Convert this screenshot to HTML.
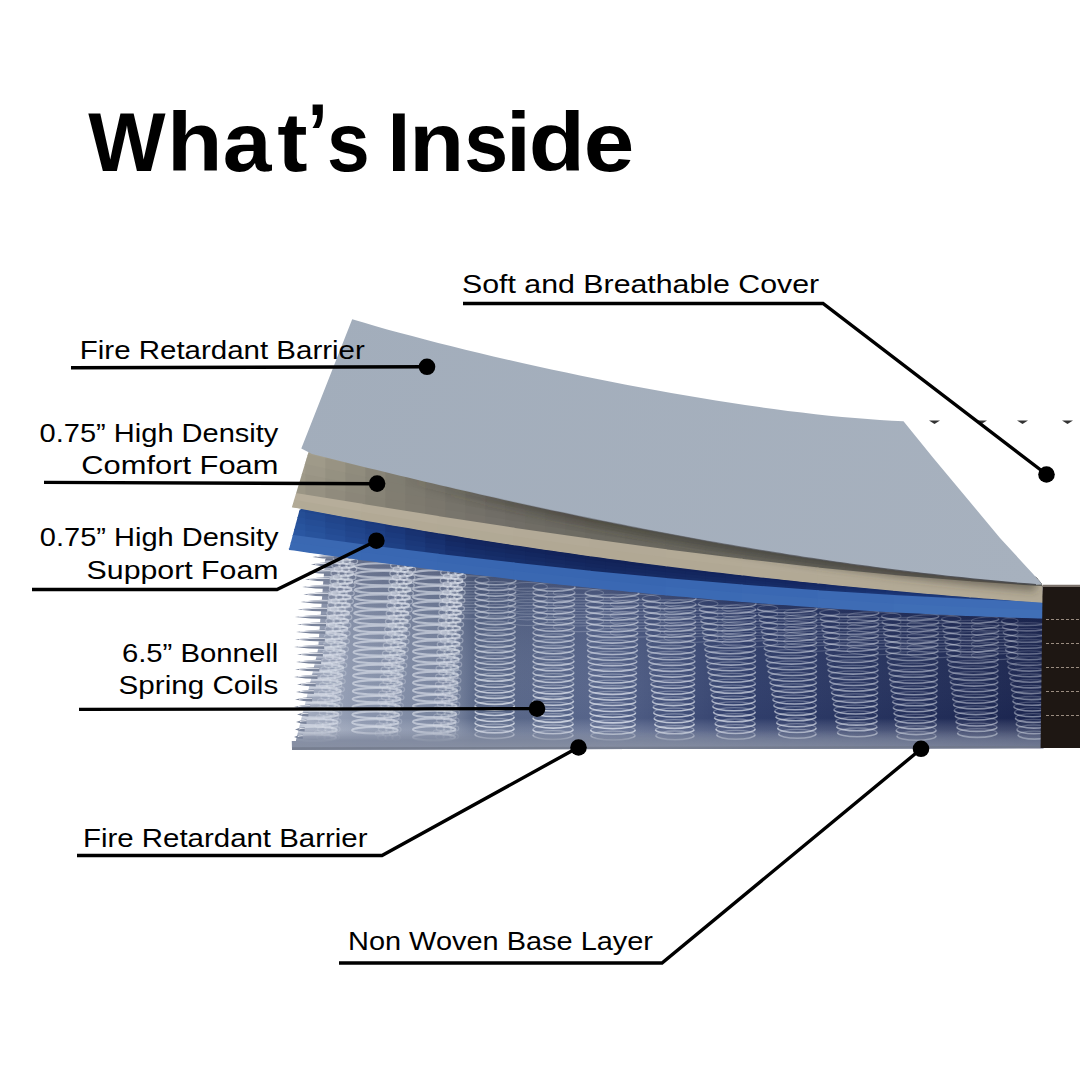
<!DOCTYPE html>
<html><head><meta charset="utf-8">
<style>
html,body{margin:0;padding:0;background:#fff;}
svg{display:block;}
text{font-family:"Liberation Sans",sans-serif;}
</style></head><body>
<svg width="1080" height="1080" viewBox="0 0 1080 1080">
<defs>
<filter id="blur4" x="-10%" y="-50%" width="120%" height="200%"><feGaussianBlur stdDeviation="4"/></filter>
<linearGradient id="coilbg" gradientUnits="userSpaceOnUse" x1="290" y1="0" x2="1043" y2="0">
 <stop offset="0" stop-color="#a9b1c3"/>
 <stop offset="0.1" stop-color="#8a95ad"/>
 <stop offset="0.22" stop-color="#75819c"/>
 <stop offset="0.245" stop-color="#5a6888"/>
 <stop offset="0.41" stop-color="#56648a"/>
 <stop offset="0.61" stop-color="#303e6b"/>
 <stop offset="1" stop-color="#1a244e"/>
</linearGradient>
<linearGradient id="coilv" gradientUnits="userSpaceOnUse" x1="0" y1="550" x2="0" y2="748">
 <stop offset="0" stop-color="#0a1235" stop-opacity="0.35"/>
 <stop offset="0.3" stop-color="#0a1235" stop-opacity="0.1"/>
 <stop offset="0.85" stop-color="#fff" stop-opacity="0"/>
 <stop offset="1" stop-color="#a8b0c0" stop-opacity="0.5"/>
</linearGradient>
<linearGradient id="coilbase" gradientUnits="userSpaceOnUse" x1="0" y1="730" x2="0" y2="750">
 <stop offset="0" stop-color="#7d869c" stop-opacity="0"/>
 <stop offset="0.5" stop-color="#7d869c" stop-opacity="0.8"/>
 <stop offset="0.95" stop-color="#8890a3" stop-opacity="1"/>
 <stop offset="1" stop-color="#5c6478" stop-opacity="1"/>
</linearGradient>
<linearGradient id="graygrad" gradientUnits="userSpaceOnUse" x1="300" y1="320" x2="1040" y2="580">
 <stop offset="0" stop-color="#a2adbb"/>
 <stop offset="1" stop-color="#a7b1be"/>
</linearGradient>
<linearGradient id="shadowgrad" gradientUnits="userSpaceOnUse" x1="400" y1="0" x2="1040" y2="0">
 <stop offset="0" stop-color="#3a3830" stop-opacity="0"/>
 <stop offset="0.25" stop-color="#3a3830" stop-opacity="0.45"/>
 <stop offset="1" stop-color="#3a3830" stop-opacity="0.55"/>
</linearGradient>
<linearGradient id="edgegrad" gradientUnits="userSpaceOnUse" x1="420" y1="0" x2="1040" y2="0">
 <stop offset="0" stop-color="#55565a" stop-opacity="0"/>
 <stop offset="0.4" stop-color="#55565a" stop-opacity="0.6"/>
 <stop offset="1" stop-color="#45464a" stop-opacity="0.9"/>
</linearGradient>
<linearGradient id="basemaskg" gradientUnits="userSpaceOnUse" x1="290" y1="0" x2="1043" y2="0">
 <stop offset="0" stop-color="#fff"/>
 <stop offset="0.4" stop-color="#fff"/>
 <stop offset="1" stop-color="#777"/>
</linearGradient>
<mask id="basemask" maskUnits="userSpaceOnUse" x="280" y="700" width="800" height="60"><rect x="280" y="700" width="800" height="60" fill="url(#basemaskg)"/></mask>
<clipPath id="coilclip"><path d="M288.8,548.0 L294.0,548.6 L302.0,549.8 L310.0,550.9 L318.0,552.1 L326.0,553.2 L334.0,554.3 L342.0,555.5 L350.0,556.6 L358.0,557.7 L366.0,558.8 L374.0,559.8 L382.0,560.9 L390.0,562.0 L398.0,563.0 L406.0,564.1 L414.0,565.1 L422.0,566.2 L430.0,567.2 L438.0,568.2 L446.0,569.2 L454.0,570.2 L462.0,571.2 L470.0,572.2 L478.0,573.2 L486.0,574.1 L494.0,575.1 L502.0,576.0 L510.0,577.0 L518.0,577.9 L526.0,578.8 L534.0,579.7 L542.0,580.6 L550.0,581.5 L558.0,582.4 L566.0,583.2 L574.0,584.1 L582.0,585.0 L590.0,585.8 L598.0,586.6 L606.0,587.5 L614.0,588.3 L622.0,589.1 L630.0,589.9 L638.0,590.6 L646.0,591.4 L654.0,592.2 L662.0,592.9 L670.0,593.7 L678.0,594.4 L686.0,595.1 L694.0,595.9 L702.0,596.6 L710.0,597.3 L718.0,597.9 L726.0,598.6 L734.0,599.3 L742.0,599.9 L750.0,600.6 L758.0,601.2 L766.0,601.8 L774.0,602.4 L782.0,603.0 L790.0,603.6 L798.0,604.2 L806.0,604.8 L814.0,605.3 L822.0,605.9 L830.0,606.4 L838.0,606.9 L846.0,607.5 L854.0,608.0 L862.0,608.5 L870.0,608.9 L878.0,609.4 L886.0,609.9 L894.0,610.3 L902.0,610.8 L910.0,611.2 L918.0,611.6 L926.0,612.0 L934.0,612.4 L942.0,612.8 L950.0,613.1 L958.0,613.5 L966.0,613.9 L974.0,614.2 L982.0,614.5 L990.0,614.8 L998.0,615.1 L1006.0,615.4 L1014.0,615.7 L1022.0,616.0 L1030.0,616.2 L1038.0,616.5 L1043.5,616.6 L1043.5,748.2 L292.0,749.8 Z"/></clipPath>
<clipPath id="blueclip"><path d="M299.6,509.8 L306.0,506.8 L314.0,508.3 L322.0,509.8 L330.0,511.3 L338.0,512.8 L346.0,514.2 L354.0,515.7 L362.0,517.1 L370.0,518.5 L378.0,519.9 L386.0,521.4 L394.0,522.7 L402.0,524.1 L410.0,525.5 L418.0,526.8 L426.0,528.2 L434.0,529.5 L442.0,530.8 L450.0,532.2 L458.0,533.4 L466.0,534.7 L474.0,536.0 L482.0,537.3 L490.0,538.5 L498.0,539.8 L506.0,541.0 L514.0,542.2 L522.0,543.4 L530.0,544.6 L538.0,545.8 L546.0,547.0 L554.0,548.1 L562.0,549.3 L570.0,550.4 L578.0,551.5 L586.0,552.7 L594.0,553.8 L602.0,554.9 L610.0,556.0 L618.0,557.0 L626.0,558.1 L634.0,559.1 L642.0,560.2 L650.0,561.2 L658.0,562.2 L666.0,563.3 L674.0,564.3 L682.0,565.2 L690.0,566.2 L698.0,567.2 L706.0,568.2 L714.0,569.1 L722.0,570.0 L730.0,571.0 L738.0,571.9 L746.0,572.8 L754.0,573.7 L762.0,574.6 L770.0,575.5 L778.0,576.3 L786.0,577.2 L794.0,578.0 L802.0,578.9 L810.0,579.7 L818.0,580.5 L826.0,581.3 L834.0,582.1 L842.0,582.9 L850.0,583.7 L858.0,584.5 L866.0,585.3 L874.0,586.0 L882.0,586.8 L890.0,587.5 L898.0,588.2 L906.0,588.9 L914.0,589.6 L922.0,590.3 L930.0,591.0 L938.0,591.7 L946.0,592.4 L954.0,593.0 L962.0,593.7 L970.0,594.3 L978.0,595.0 L986.0,595.6 L994.0,596.2 L1002.0,596.8 L1010.0,597.4 L1018.0,598.0 L1026.0,598.6 L1034.0,599.2 L1042.0,599.8 L1043.5,599.9 L1043.5,618.6 L1038.0,618.5 L1030.0,618.2 L1022.0,618.0 L1014.0,617.7 L1006.0,617.4 L998.0,617.1 L990.0,616.8 L982.0,616.5 L974.0,616.2 L966.0,615.9 L958.0,615.5 L950.0,615.1 L942.0,614.8 L934.0,614.4 L926.0,614.0 L918.0,613.6 L910.0,613.2 L902.0,612.8 L894.0,612.3 L886.0,611.9 L878.0,611.4 L870.0,610.9 L862.0,610.5 L854.0,610.0 L846.0,609.5 L838.0,608.9 L830.0,608.4 L822.0,607.9 L814.0,607.3 L806.0,606.8 L798.0,606.2 L790.0,605.6 L782.0,605.0 L774.0,604.4 L766.0,603.8 L758.0,603.2 L750.0,602.6 L742.0,601.9 L734.0,601.3 L726.0,600.6 L718.0,599.9 L710.0,599.3 L702.0,598.6 L694.0,597.9 L686.0,597.1 L678.0,596.4 L670.0,595.7 L662.0,594.9 L654.0,594.2 L646.0,593.4 L638.0,592.6 L630.0,591.9 L622.0,591.1 L614.0,590.3 L606.0,589.5 L598.0,588.6 L590.0,587.8 L582.0,587.0 L574.0,586.1 L566.0,585.2 L558.0,584.4 L550.0,583.5 L542.0,582.6 L534.0,581.7 L526.0,580.8 L518.0,579.9 L510.0,579.0 L502.0,578.0 L494.0,577.1 L486.0,576.1 L478.0,575.2 L470.0,574.2 L462.0,573.2 L454.0,572.2 L446.0,571.2 L438.0,570.2 L430.0,569.2 L422.0,568.2 L414.0,567.1 L406.0,566.1 L398.0,565.0 L390.0,564.0 L382.0,562.9 L374.0,561.8 L366.0,560.8 L358.0,559.7 L350.0,558.6 L342.0,557.5 L334.0,556.3 L326.0,555.2 L318.0,554.1 L310.0,552.9 L302.0,551.8 L294.0,550.6 L288.8,550.0 Z"/></clipPath>
<clipPath id="beigeclip"><path d="M308.7,451.4 L330.0,452.0 L340.0,452.9 L348.0,454.9 L356.0,456.9 L364.0,458.9 L372.0,460.9 L380.0,462.8 L388.0,464.8 L396.0,466.7 L404.0,468.6 L412.0,470.6 L420.0,472.5 L428.0,474.4 L436.0,476.3 L444.0,478.2 L452.0,480.0 L460.0,481.9 L468.0,483.7 L476.0,485.6 L484.0,487.4 L492.0,489.2 L500.0,491.0 L508.0,492.8 L516.0,494.6 L524.0,496.3 L532.0,498.1 L540.0,499.8 L548.0,501.6 L556.0,503.3 L564.0,505.0 L572.0,506.7 L580.0,508.4 L588.0,510.0 L596.0,511.7 L604.0,513.3 L612.0,514.9 L620.0,516.5 L628.0,518.1 L636.0,519.7 L644.0,521.3 L652.0,522.8 L660.0,524.4 L668.0,525.9 L676.0,527.4 L684.0,528.9 L692.0,530.4 L700.0,531.8 L708.0,533.3 L716.0,534.7 L724.0,536.1 L732.0,537.5 L740.0,538.9 L748.0,540.2 L756.0,541.6 L764.0,542.9 L772.0,544.2 L780.0,545.5 L788.0,546.8 L796.0,548.0 L804.0,549.3 L812.0,550.5 L820.0,551.7 L828.0,552.9 L836.0,554.1 L844.0,555.2 L852.0,556.3 L860.0,557.4 L868.0,558.5 L876.0,559.6 L884.0,560.6 L892.0,561.7 L900.0,562.7 L908.0,563.7 L916.0,564.7 L924.0,565.6 L932.0,566.5 L940.0,567.4 L948.0,568.3 L956.0,569.2 L964.0,570.0 L972.0,570.9 L980.0,571.7 L988.0,572.5 L996.0,573.2 L1004.0,574.0 L1012.0,574.7 L1020.0,575.4 L1028.0,576.0 L1036.0,576.7 L1042.0,584.0 L1043.5,602.9 L1040.0,602.6 L1032.0,602.0 L1024.0,601.5 L1016.0,600.9 L1008.0,600.3 L1000.0,599.7 L992.0,599.1 L984.0,598.4 L976.0,597.8 L968.0,597.2 L960.0,596.5 L952.0,595.9 L944.0,595.2 L936.0,594.5 L928.0,593.9 L920.0,593.2 L912.0,592.5 L904.0,591.8 L896.0,591.0 L888.0,590.3 L880.0,589.6 L872.0,588.8 L864.0,588.1 L856.0,587.3 L848.0,586.5 L840.0,585.7 L832.0,584.9 L824.0,584.1 L816.0,583.3 L808.0,582.5 L800.0,581.7 L792.0,580.8 L784.0,580.0 L776.0,579.1 L768.0,578.2 L760.0,577.4 L752.0,576.5 L744.0,575.6 L736.0,574.7 L728.0,573.7 L720.0,572.8 L712.0,571.9 L704.0,570.9 L696.0,570.0 L688.0,569.0 L680.0,568.0 L672.0,567.0 L664.0,566.0 L656.0,565.0 L648.0,564.0 L640.0,562.9 L632.0,561.9 L624.0,560.8 L616.0,559.8 L608.0,558.7 L600.0,557.6 L592.0,556.5 L584.0,555.4 L576.0,554.3 L568.0,553.1 L560.0,552.0 L552.0,550.8 L544.0,549.7 L536.0,548.5 L528.0,547.3 L520.0,546.1 L512.0,544.9 L504.0,543.7 L496.0,542.5 L488.0,541.2 L480.0,540.0 L472.0,538.7 L464.0,537.4 L456.0,536.1 L448.0,534.8 L440.0,533.5 L432.0,532.2 L424.0,530.9 L416.0,529.5 L408.0,528.1 L400.0,526.8 L392.0,525.4 L384.0,524.0 L376.0,522.6 L368.0,521.2 L360.0,519.7 L352.0,518.3 L344.0,516.9 L336.0,515.4 L328.0,513.9 L320.0,512.4 L312.0,510.9 L304.0,509.4 L296.0,507.9 L291.8,507.4 Z"/></clipPath>
</defs>
<rect width="1080" height="1080" fill="#fff"/>

<g clip-path="url(#coilclip)">
<rect x="280" y="540" width="770" height="210" fill="url(#coilbg)"/>
<rect x="280" y="540" width="770" height="210" fill="url(#coilv)"/>
<g fill="none" stroke="#dde2ec">
<ellipse cx="469.7" cy="580.3" rx="19.4" ry="4.4" stroke-opacity="0.22" stroke-width="1.2"/>
<ellipse cx="469.7" cy="586.0" rx="19.4" ry="4.4" stroke-opacity="0.22" stroke-width="1.2"/>
<ellipse cx="469.7" cy="591.7" rx="19.4" ry="4.4" stroke-opacity="0.22" stroke-width="1.2"/>
<ellipse cx="469.7" cy="597.4" rx="19.4" ry="4.4" stroke-opacity="0.22" stroke-width="1.2"/>
<ellipse cx="469.7" cy="603.1" rx="19.4" ry="4.4" stroke-opacity="0.22" stroke-width="1.2"/>
<ellipse cx="469.7" cy="608.8" rx="19.4" ry="4.4" stroke-opacity="0.22" stroke-width="1.2"/>
<ellipse cx="469.7" cy="614.5" rx="19.4" ry="4.4" stroke-opacity="0.22" stroke-width="1.2"/>
<ellipse cx="527.6" cy="586.9" rx="19.8" ry="4.4" stroke-opacity="0.22" stroke-width="1.2"/>
<ellipse cx="527.6" cy="592.6" rx="19.8" ry="4.4" stroke-opacity="0.22" stroke-width="1.2"/>
<ellipse cx="527.6" cy="598.3" rx="19.8" ry="4.4" stroke-opacity="0.22" stroke-width="1.2"/>
<ellipse cx="527.6" cy="604.0" rx="19.8" ry="4.4" stroke-opacity="0.22" stroke-width="1.2"/>
<ellipse cx="527.6" cy="609.7" rx="19.8" ry="4.4" stroke-opacity="0.22" stroke-width="1.2"/>
<ellipse cx="527.6" cy="615.4" rx="19.8" ry="4.4" stroke-opacity="0.22" stroke-width="1.2"/>
<ellipse cx="527.6" cy="621.1" rx="19.8" ry="4.4" stroke-opacity="0.22" stroke-width="1.2"/>
<ellipse cx="578.4" cy="593.1" rx="25.2" ry="4.4" stroke-opacity="0.22" stroke-width="1.2"/>
<ellipse cx="578.4" cy="598.8" rx="25.2" ry="4.4" stroke-opacity="0.22" stroke-width="1.2"/>
<ellipse cx="578.4" cy="604.5" rx="25.2" ry="4.4" stroke-opacity="0.22" stroke-width="1.2"/>
<ellipse cx="578.4" cy="610.2" rx="25.2" ry="4.4" stroke-opacity="0.22" stroke-width="1.2"/>
<ellipse cx="578.4" cy="615.9" rx="25.2" ry="4.4" stroke-opacity="0.22" stroke-width="1.2"/>
<ellipse cx="578.4" cy="621.6" rx="25.2" ry="4.4" stroke-opacity="0.22" stroke-width="1.2"/>
<ellipse cx="578.4" cy="627.3" rx="25.2" ry="4.4" stroke-opacity="0.22" stroke-width="1.2"/>
<ellipse cx="635.4" cy="598.6" rx="25.2" ry="4.4" stroke-opacity="0.22" stroke-width="1.2"/>
<ellipse cx="635.4" cy="604.3" rx="25.2" ry="4.4" stroke-opacity="0.22" stroke-width="1.2"/>
<ellipse cx="635.4" cy="610.0" rx="25.2" ry="4.4" stroke-opacity="0.22" stroke-width="1.2"/>
<ellipse cx="635.4" cy="615.7" rx="25.2" ry="4.4" stroke-opacity="0.22" stroke-width="1.2"/>
<ellipse cx="635.4" cy="621.4" rx="25.2" ry="4.4" stroke-opacity="0.22" stroke-width="1.2"/>
<ellipse cx="635.4" cy="627.1" rx="25.2" ry="4.4" stroke-opacity="0.22" stroke-width="1.2"/>
<ellipse cx="635.4" cy="632.8" rx="25.2" ry="4.4" stroke-opacity="0.22" stroke-width="1.2"/>
<ellipse cx="691.0" cy="603.7" rx="27.0" ry="4.4" stroke-opacity="0.22" stroke-width="1.2"/>
<ellipse cx="691.0" cy="609.4" rx="27.0" ry="4.4" stroke-opacity="0.22" stroke-width="1.2"/>
<ellipse cx="691.0" cy="615.1" rx="27.0" ry="4.4" stroke-opacity="0.22" stroke-width="1.2"/>
<ellipse cx="691.0" cy="620.8" rx="27.0" ry="4.4" stroke-opacity="0.22" stroke-width="1.2"/>
<ellipse cx="691.0" cy="626.5" rx="27.0" ry="4.4" stroke-opacity="0.22" stroke-width="1.2"/>
<ellipse cx="691.0" cy="632.2" rx="27.0" ry="4.4" stroke-opacity="0.22" stroke-width="1.2"/>
<ellipse cx="691.0" cy="637.9" rx="27.0" ry="4.4" stroke-opacity="0.22" stroke-width="1.2"/>
<ellipse cx="749.8" cy="608.4" rx="27.9" ry="4.4" stroke-opacity="0.22" stroke-width="1.2"/>
<ellipse cx="749.8" cy="614.1" rx="27.9" ry="4.4" stroke-opacity="0.22" stroke-width="1.2"/>
<ellipse cx="749.8" cy="619.8" rx="27.9" ry="4.4" stroke-opacity="0.22" stroke-width="1.2"/>
<ellipse cx="749.8" cy="625.5" rx="27.9" ry="4.4" stroke-opacity="0.22" stroke-width="1.2"/>
<ellipse cx="749.8" cy="631.2" rx="27.9" ry="4.4" stroke-opacity="0.22" stroke-width="1.2"/>
<ellipse cx="749.8" cy="636.9" rx="27.9" ry="4.4" stroke-opacity="0.22" stroke-width="1.2"/>
<ellipse cx="749.8" cy="642.6" rx="27.9" ry="4.4" stroke-opacity="0.22" stroke-width="1.2"/>
<ellipse cx="811.8" cy="612.7" rx="27.9" ry="4.4" stroke-opacity="0.22" stroke-width="1.2"/>
<ellipse cx="811.8" cy="618.4" rx="27.9" ry="4.4" stroke-opacity="0.22" stroke-width="1.2"/>
<ellipse cx="811.8" cy="624.1" rx="27.9" ry="4.4" stroke-opacity="0.22" stroke-width="1.2"/>
<ellipse cx="811.8" cy="629.8" rx="27.9" ry="4.4" stroke-opacity="0.22" stroke-width="1.2"/>
<ellipse cx="811.8" cy="635.5" rx="27.9" ry="4.4" stroke-opacity="0.22" stroke-width="1.2"/>
<ellipse cx="811.8" cy="641.2" rx="27.9" ry="4.4" stroke-opacity="0.22" stroke-width="1.2"/>
<ellipse cx="811.8" cy="646.9" rx="27.9" ry="4.4" stroke-opacity="0.22" stroke-width="1.2"/>
<ellipse cx="874.0" cy="616.2" rx="27.0" ry="4.4" stroke-opacity="0.22" stroke-width="1.2"/>
<ellipse cx="874.0" cy="621.9" rx="27.0" ry="4.4" stroke-opacity="0.22" stroke-width="1.2"/>
<ellipse cx="874.0" cy="627.6" rx="27.0" ry="4.4" stroke-opacity="0.22" stroke-width="1.2"/>
<ellipse cx="874.0" cy="633.3" rx="27.0" ry="4.4" stroke-opacity="0.22" stroke-width="1.2"/>
<ellipse cx="874.0" cy="639.0" rx="27.0" ry="4.4" stroke-opacity="0.22" stroke-width="1.2"/>
<ellipse cx="874.0" cy="644.7" rx="27.0" ry="4.4" stroke-opacity="0.22" stroke-width="1.2"/>
<ellipse cx="874.0" cy="650.4" rx="27.0" ry="4.4" stroke-opacity="0.22" stroke-width="1.2"/>
<ellipse cx="934.0" cy="619.0" rx="27.0" ry="4.4" stroke-opacity="0.22" stroke-width="1.2"/>
<ellipse cx="934.0" cy="624.7" rx="27.0" ry="4.4" stroke-opacity="0.22" stroke-width="1.2"/>
<ellipse cx="934.0" cy="630.4" rx="27.0" ry="4.4" stroke-opacity="0.22" stroke-width="1.2"/>
<ellipse cx="934.0" cy="636.1" rx="27.0" ry="4.4" stroke-opacity="0.22" stroke-width="1.2"/>
<ellipse cx="934.0" cy="641.8" rx="27.0" ry="4.4" stroke-opacity="0.22" stroke-width="1.2"/>
<ellipse cx="934.0" cy="647.5" rx="27.0" ry="4.4" stroke-opacity="0.22" stroke-width="1.2"/>
<ellipse cx="934.0" cy="653.2" rx="27.0" ry="4.4" stroke-opacity="0.22" stroke-width="1.2"/>
<ellipse cx="994.8" cy="621.1" rx="23.4" ry="4.4" stroke-opacity="0.22" stroke-width="1.2"/>
<ellipse cx="994.8" cy="626.8" rx="23.4" ry="4.4" stroke-opacity="0.22" stroke-width="1.2"/>
<ellipse cx="994.8" cy="632.5" rx="23.4" ry="4.4" stroke-opacity="0.22" stroke-width="1.2"/>
<ellipse cx="994.8" cy="638.2" rx="23.4" ry="4.4" stroke-opacity="0.22" stroke-width="1.2"/>
<ellipse cx="994.8" cy="643.9" rx="23.4" ry="4.4" stroke-opacity="0.22" stroke-width="1.2"/>
<ellipse cx="994.8" cy="649.6" rx="23.4" ry="4.4" stroke-opacity="0.22" stroke-width="1.2"/>
<ellipse cx="994.8" cy="655.3" rx="23.4" ry="4.4" stroke-opacity="0.22" stroke-width="1.2"/>
<ellipse cx="324.3" cy="558.3" rx="30.4" ry="3.2" stroke-opacity="0.62" stroke-width="2.0"/>
<ellipse cx="323.9" cy="566.1" rx="30.0" ry="3.2" stroke-opacity="0.62" stroke-width="2.0"/>
<ellipse cx="323.5" cy="573.9" rx="29.6" ry="3.2" stroke-opacity="0.62" stroke-width="2.0"/>
<ellipse cx="323.1" cy="581.7" rx="29.2" ry="3.2" stroke-opacity="0.62" stroke-width="2.0"/>
<ellipse cx="322.6" cy="589.5" rx="28.8" ry="3.2" stroke-opacity="0.62" stroke-width="2.0"/>
<ellipse cx="322.2" cy="597.3" rx="28.4" ry="3.2" stroke-opacity="0.62" stroke-width="2.0"/>
<ellipse cx="321.8" cy="605.1" rx="28.0" ry="3.2" stroke-opacity="0.62" stroke-width="2.0"/>
<ellipse cx="321.3" cy="612.9" rx="27.7" ry="3.2" stroke-opacity="0.62" stroke-width="2.0"/>
<ellipse cx="320.9" cy="620.7" rx="27.3" ry="3.2" stroke-opacity="0.62" stroke-width="2.0"/>
<ellipse cx="320.5" cy="628.5" rx="26.9" ry="3.2" stroke-opacity="0.62" stroke-width="2.0"/>
<ellipse cx="320.1" cy="636.3" rx="26.5" ry="3.2" stroke-opacity="0.62" stroke-width="2.0"/>
<ellipse cx="319.6" cy="644.1" rx="26.1" ry="3.2" stroke-opacity="0.62" stroke-width="2.0"/>
<ellipse cx="319.2" cy="651.9" rx="25.7" ry="3.2" stroke-opacity="0.62" stroke-width="2.0"/>
<ellipse cx="318.8" cy="659.7" rx="25.4" ry="3.2" stroke-opacity="0.62" stroke-width="2.0"/>
<ellipse cx="318.4" cy="667.5" rx="25.0" ry="3.2" stroke-opacity="0.62" stroke-width="2.0"/>
<ellipse cx="317.9" cy="675.3" rx="24.6" ry="3.2" stroke-opacity="0.62" stroke-width="2.0"/>
<ellipse cx="317.5" cy="683.1" rx="24.2" ry="3.2" stroke-opacity="0.62" stroke-width="2.0"/>
<ellipse cx="317.1" cy="690.9" rx="23.8" ry="3.2" stroke-opacity="0.62" stroke-width="2.0"/>
<ellipse cx="316.7" cy="698.7" rx="23.4" ry="3.2" stroke-opacity="0.62" stroke-width="2.0"/>
<ellipse cx="316.2" cy="706.5" rx="23.1" ry="3.2" stroke-opacity="0.62" stroke-width="2.0"/>
<ellipse cx="315.8" cy="714.3" rx="22.7" ry="3.2" stroke-opacity="0.62" stroke-width="2.0"/>
<ellipse cx="315.4" cy="722.1" rx="22.3" ry="3.2" stroke-opacity="0.62" stroke-width="2.0"/>
<ellipse cx="314.9" cy="729.9" rx="21.9" ry="3.2" stroke-opacity="0.62" stroke-width="2.0"/>
<ellipse cx="314.5" cy="737.7" rx="21.5" ry="3.2" stroke-opacity="0.62" stroke-width="2.0"/>
<ellipse cx="336.8" cy="557.3" rx="4.2" ry="2.6" stroke-opacity="0.50" stroke-width="1.3"/>
<ellipse cx="343.8" cy="557.3" rx="4.2" ry="2.6" stroke-opacity="0.50" stroke-width="1.3"/>
<ellipse cx="350.8" cy="557.3" rx="4.2" ry="2.6" stroke-opacity="0.50" stroke-width="1.3"/>
<ellipse cx="339.4" cy="561.3" rx="4.2" ry="2.6" stroke-opacity="0.49" stroke-width="1.3"/>
<ellipse cx="346.4" cy="561.3" rx="4.2" ry="2.6" stroke-opacity="0.49" stroke-width="1.3"/>
<ellipse cx="353.4" cy="561.3" rx="4.2" ry="2.6" stroke-opacity="0.49" stroke-width="1.3"/>
<ellipse cx="336.0" cy="565.3" rx="4.2" ry="2.6" stroke-opacity="0.48" stroke-width="1.3"/>
<ellipse cx="343.0" cy="565.3" rx="4.2" ry="2.6" stroke-opacity="0.48" stroke-width="1.3"/>
<ellipse cx="350.0" cy="565.3" rx="4.2" ry="2.6" stroke-opacity="0.48" stroke-width="1.3"/>
<ellipse cx="338.5" cy="569.3" rx="4.2" ry="2.6" stroke-opacity="0.48" stroke-width="1.3"/>
<ellipse cx="345.5" cy="569.3" rx="4.2" ry="2.6" stroke-opacity="0.48" stroke-width="1.3"/>
<ellipse cx="352.5" cy="569.3" rx="4.2" ry="2.6" stroke-opacity="0.48" stroke-width="1.3"/>
<ellipse cx="335.1" cy="573.3" rx="4.2" ry="2.6" stroke-opacity="0.47" stroke-width="1.3"/>
<ellipse cx="342.1" cy="573.3" rx="4.2" ry="2.6" stroke-opacity="0.47" stroke-width="1.3"/>
<ellipse cx="349.1" cy="573.3" rx="4.2" ry="2.6" stroke-opacity="0.47" stroke-width="1.3"/>
<ellipse cx="337.7" cy="577.3" rx="4.2" ry="2.6" stroke-opacity="0.46" stroke-width="1.3"/>
<ellipse cx="344.7" cy="577.3" rx="4.2" ry="2.6" stroke-opacity="0.46" stroke-width="1.3"/>
<ellipse cx="351.7" cy="577.3" rx="4.2" ry="2.6" stroke-opacity="0.46" stroke-width="1.3"/>
<ellipse cx="334.3" cy="581.3" rx="4.2" ry="2.6" stroke-opacity="0.46" stroke-width="1.3"/>
<ellipse cx="341.3" cy="581.3" rx="4.2" ry="2.6" stroke-opacity="0.46" stroke-width="1.3"/>
<ellipse cx="348.3" cy="581.3" rx="4.2" ry="2.6" stroke-opacity="0.46" stroke-width="1.3"/>
<ellipse cx="336.9" cy="585.3" rx="4.2" ry="2.6" stroke-opacity="0.45" stroke-width="1.3"/>
<ellipse cx="343.9" cy="585.3" rx="4.2" ry="2.6" stroke-opacity="0.45" stroke-width="1.3"/>
<ellipse cx="350.9" cy="585.3" rx="4.2" ry="2.6" stroke-opacity="0.45" stroke-width="1.3"/>
<ellipse cx="333.5" cy="589.3" rx="4.2" ry="2.6" stroke-opacity="0.44" stroke-width="1.3"/>
<ellipse cx="340.5" cy="589.3" rx="4.2" ry="2.6" stroke-opacity="0.44" stroke-width="1.3"/>
<ellipse cx="347.5" cy="589.3" rx="4.2" ry="2.6" stroke-opacity="0.44" stroke-width="1.3"/>
<ellipse cx="336.0" cy="593.3" rx="4.2" ry="2.6" stroke-opacity="0.44" stroke-width="1.3"/>
<ellipse cx="343.0" cy="593.3" rx="4.2" ry="2.6" stroke-opacity="0.44" stroke-width="1.3"/>
<ellipse cx="350.0" cy="593.3" rx="4.2" ry="2.6" stroke-opacity="0.44" stroke-width="1.3"/>
<ellipse cx="332.6" cy="597.3" rx="4.2" ry="2.6" stroke-opacity="0.43" stroke-width="1.3"/>
<ellipse cx="339.6" cy="597.3" rx="4.2" ry="2.6" stroke-opacity="0.43" stroke-width="1.3"/>
<ellipse cx="346.6" cy="597.3" rx="4.2" ry="2.6" stroke-opacity="0.43" stroke-width="1.3"/>
<ellipse cx="335.2" cy="601.3" rx="4.2" ry="2.6" stroke-opacity="0.42" stroke-width="1.3"/>
<ellipse cx="342.2" cy="601.3" rx="4.2" ry="2.6" stroke-opacity="0.42" stroke-width="1.3"/>
<ellipse cx="349.2" cy="601.3" rx="4.2" ry="2.6" stroke-opacity="0.42" stroke-width="1.3"/>
<ellipse cx="331.8" cy="605.3" rx="4.2" ry="2.6" stroke-opacity="0.42" stroke-width="1.3"/>
<ellipse cx="338.8" cy="605.3" rx="4.2" ry="2.6" stroke-opacity="0.42" stroke-width="1.3"/>
<ellipse cx="345.8" cy="605.3" rx="4.2" ry="2.6" stroke-opacity="0.42" stroke-width="1.3"/>
<ellipse cx="334.4" cy="609.3" rx="4.2" ry="2.6" stroke-opacity="0.41" stroke-width="1.3"/>
<ellipse cx="341.4" cy="609.3" rx="4.2" ry="2.6" stroke-opacity="0.41" stroke-width="1.3"/>
<ellipse cx="348.4" cy="609.3" rx="4.2" ry="2.6" stroke-opacity="0.41" stroke-width="1.3"/>
<ellipse cx="331.0" cy="613.3" rx="4.2" ry="2.6" stroke-opacity="0.40" stroke-width="1.3"/>
<ellipse cx="338.0" cy="613.3" rx="4.2" ry="2.6" stroke-opacity="0.40" stroke-width="1.3"/>
<ellipse cx="345.0" cy="613.3" rx="4.2" ry="2.6" stroke-opacity="0.40" stroke-width="1.3"/>
<ellipse cx="333.6" cy="617.3" rx="4.2" ry="2.6" stroke-opacity="0.40" stroke-width="1.3"/>
<ellipse cx="340.6" cy="617.3" rx="4.2" ry="2.6" stroke-opacity="0.40" stroke-width="1.3"/>
<ellipse cx="347.6" cy="617.3" rx="4.2" ry="2.6" stroke-opacity="0.40" stroke-width="1.3"/>
<ellipse cx="330.1" cy="621.3" rx="4.2" ry="2.6" stroke-opacity="0.39" stroke-width="1.3"/>
<ellipse cx="337.1" cy="621.3" rx="4.2" ry="2.6" stroke-opacity="0.39" stroke-width="1.3"/>
<ellipse cx="344.1" cy="621.3" rx="4.2" ry="2.6" stroke-opacity="0.39" stroke-width="1.3"/>
<ellipse cx="332.7" cy="625.3" rx="4.2" ry="2.6" stroke-opacity="0.39" stroke-width="1.3"/>
<ellipse cx="339.7" cy="625.3" rx="4.2" ry="2.6" stroke-opacity="0.39" stroke-width="1.3"/>
<ellipse cx="346.7" cy="625.3" rx="4.2" ry="2.6" stroke-opacity="0.39" stroke-width="1.3"/>
<ellipse cx="329.3" cy="629.3" rx="4.2" ry="2.6" stroke-opacity="0.38" stroke-width="1.3"/>
<ellipse cx="336.3" cy="629.3" rx="4.2" ry="2.6" stroke-opacity="0.38" stroke-width="1.3"/>
<ellipse cx="343.3" cy="629.3" rx="4.2" ry="2.6" stroke-opacity="0.38" stroke-width="1.3"/>
<ellipse cx="331.9" cy="633.3" rx="4.2" ry="2.6" stroke-opacity="0.37" stroke-width="1.3"/>
<ellipse cx="338.9" cy="633.3" rx="4.2" ry="2.6" stroke-opacity="0.37" stroke-width="1.3"/>
<ellipse cx="345.9" cy="633.3" rx="4.2" ry="2.6" stroke-opacity="0.37" stroke-width="1.3"/>
<ellipse cx="328.5" cy="637.3" rx="4.2" ry="2.6" stroke-opacity="0.37" stroke-width="1.3"/>
<ellipse cx="335.5" cy="637.3" rx="4.2" ry="2.6" stroke-opacity="0.37" stroke-width="1.3"/>
<ellipse cx="342.5" cy="637.3" rx="4.2" ry="2.6" stroke-opacity="0.37" stroke-width="1.3"/>
<ellipse cx="331.1" cy="641.3" rx="4.2" ry="2.6" stroke-opacity="0.36" stroke-width="1.3"/>
<ellipse cx="338.1" cy="641.3" rx="4.2" ry="2.6" stroke-opacity="0.36" stroke-width="1.3"/>
<ellipse cx="345.1" cy="641.3" rx="4.2" ry="2.6" stroke-opacity="0.36" stroke-width="1.3"/>
<ellipse cx="327.6" cy="645.3" rx="4.2" ry="2.6" stroke-opacity="0.35" stroke-width="1.3"/>
<ellipse cx="334.6" cy="645.3" rx="4.2" ry="2.6" stroke-opacity="0.35" stroke-width="1.3"/>
<ellipse cx="341.6" cy="645.3" rx="4.2" ry="2.6" stroke-opacity="0.35" stroke-width="1.3"/>
<ellipse cx="330.2" cy="649.3" rx="4.2" ry="2.6" stroke-opacity="0.35" stroke-width="1.3"/>
<ellipse cx="337.2" cy="649.3" rx="4.2" ry="2.6" stroke-opacity="0.35" stroke-width="1.3"/>
<ellipse cx="344.2" cy="649.3" rx="4.2" ry="2.6" stroke-opacity="0.35" stroke-width="1.3"/>
<ellipse cx="326.8" cy="653.3" rx="4.2" ry="2.6" stroke-opacity="0.34" stroke-width="1.3"/>
<ellipse cx="333.8" cy="653.3" rx="4.2" ry="2.6" stroke-opacity="0.34" stroke-width="1.3"/>
<ellipse cx="340.8" cy="653.3" rx="4.2" ry="2.6" stroke-opacity="0.34" stroke-width="1.3"/>
<ellipse cx="329.4" cy="657.3" rx="4.2" ry="2.6" stroke-opacity="0.33" stroke-width="1.3"/>
<ellipse cx="336.4" cy="657.3" rx="4.2" ry="2.6" stroke-opacity="0.33" stroke-width="1.3"/>
<ellipse cx="343.4" cy="657.3" rx="4.2" ry="2.6" stroke-opacity="0.33" stroke-width="1.3"/>
<ellipse cx="326.0" cy="661.3" rx="4.2" ry="2.6" stroke-opacity="0.33" stroke-width="1.3"/>
<ellipse cx="333.0" cy="661.3" rx="4.2" ry="2.6" stroke-opacity="0.33" stroke-width="1.3"/>
<ellipse cx="340.0" cy="661.3" rx="4.2" ry="2.6" stroke-opacity="0.33" stroke-width="1.3"/>
<ellipse cx="328.6" cy="665.3" rx="4.2" ry="2.6" stroke-opacity="0.32" stroke-width="1.3"/>
<ellipse cx="335.6" cy="665.3" rx="4.2" ry="2.6" stroke-opacity="0.32" stroke-width="1.3"/>
<ellipse cx="342.6" cy="665.3" rx="4.2" ry="2.6" stroke-opacity="0.32" stroke-width="1.3"/>
<ellipse cx="325.1" cy="669.3" rx="4.2" ry="2.6" stroke-opacity="0.31" stroke-width="1.3"/>
<ellipse cx="332.1" cy="669.3" rx="4.2" ry="2.6" stroke-opacity="0.31" stroke-width="1.3"/>
<ellipse cx="339.1" cy="669.3" rx="4.2" ry="2.6" stroke-opacity="0.31" stroke-width="1.3"/>
<ellipse cx="327.7" cy="673.3" rx="4.2" ry="2.6" stroke-opacity="0.31" stroke-width="1.3"/>
<ellipse cx="334.7" cy="673.3" rx="4.2" ry="2.6" stroke-opacity="0.31" stroke-width="1.3"/>
<ellipse cx="341.7" cy="673.3" rx="4.2" ry="2.6" stroke-opacity="0.31" stroke-width="1.3"/>
<ellipse cx="324.3" cy="677.3" rx="4.2" ry="2.6" stroke-opacity="0.30" stroke-width="1.3"/>
<ellipse cx="331.3" cy="677.3" rx="4.2" ry="2.6" stroke-opacity="0.30" stroke-width="1.3"/>
<ellipse cx="338.3" cy="677.3" rx="4.2" ry="2.6" stroke-opacity="0.30" stroke-width="1.3"/>
<ellipse cx="326.9" cy="681.3" rx="4.2" ry="2.6" stroke-opacity="0.29" stroke-width="1.3"/>
<ellipse cx="333.9" cy="681.3" rx="4.2" ry="2.6" stroke-opacity="0.29" stroke-width="1.3"/>
<ellipse cx="340.9" cy="681.3" rx="4.2" ry="2.6" stroke-opacity="0.29" stroke-width="1.3"/>
<ellipse cx="323.5" cy="685.3" rx="4.2" ry="2.6" stroke-opacity="0.29" stroke-width="1.3"/>
<ellipse cx="330.5" cy="685.3" rx="4.2" ry="2.6" stroke-opacity="0.29" stroke-width="1.3"/>
<ellipse cx="337.5" cy="685.3" rx="4.2" ry="2.6" stroke-opacity="0.29" stroke-width="1.3"/>
<ellipse cx="326.1" cy="689.3" rx="4.2" ry="2.6" stroke-opacity="0.28" stroke-width="1.3"/>
<ellipse cx="333.1" cy="689.3" rx="4.2" ry="2.6" stroke-opacity="0.28" stroke-width="1.3"/>
<ellipse cx="340.1" cy="689.3" rx="4.2" ry="2.6" stroke-opacity="0.28" stroke-width="1.3"/>
<ellipse cx="322.6" cy="693.3" rx="4.2" ry="2.6" stroke-opacity="0.27" stroke-width="1.3"/>
<ellipse cx="329.6" cy="693.3" rx="4.2" ry="2.6" stroke-opacity="0.27" stroke-width="1.3"/>
<ellipse cx="336.6" cy="693.3" rx="4.2" ry="2.6" stroke-opacity="0.27" stroke-width="1.3"/>
<ellipse cx="325.2" cy="697.3" rx="4.2" ry="2.6" stroke-opacity="0.27" stroke-width="1.3"/>
<ellipse cx="332.2" cy="697.3" rx="4.2" ry="2.6" stroke-opacity="0.27" stroke-width="1.3"/>
<ellipse cx="339.2" cy="697.3" rx="4.2" ry="2.6" stroke-opacity="0.27" stroke-width="1.3"/>
<ellipse cx="321.8" cy="701.3" rx="4.2" ry="2.6" stroke-opacity="0.26" stroke-width="1.3"/>
<ellipse cx="328.8" cy="701.3" rx="4.2" ry="2.6" stroke-opacity="0.26" stroke-width="1.3"/>
<ellipse cx="335.8" cy="701.3" rx="4.2" ry="2.6" stroke-opacity="0.26" stroke-width="1.3"/>
<ellipse cx="324.4" cy="705.3" rx="4.2" ry="2.6" stroke-opacity="0.25" stroke-width="1.3"/>
<ellipse cx="331.4" cy="705.3" rx="4.2" ry="2.6" stroke-opacity="0.25" stroke-width="1.3"/>
<ellipse cx="338.4" cy="705.3" rx="4.2" ry="2.6" stroke-opacity="0.25" stroke-width="1.3"/>
<ellipse cx="321.0" cy="709.3" rx="4.2" ry="2.6" stroke-opacity="0.25" stroke-width="1.3"/>
<ellipse cx="328.0" cy="709.3" rx="4.2" ry="2.6" stroke-opacity="0.25" stroke-width="1.3"/>
<ellipse cx="335.0" cy="709.3" rx="4.2" ry="2.6" stroke-opacity="0.25" stroke-width="1.3"/>
<ellipse cx="323.6" cy="713.3" rx="4.2" ry="2.6" stroke-opacity="0.24" stroke-width="1.3"/>
<ellipse cx="330.6" cy="713.3" rx="4.2" ry="2.6" stroke-opacity="0.24" stroke-width="1.3"/>
<ellipse cx="337.6" cy="713.3" rx="4.2" ry="2.6" stroke-opacity="0.24" stroke-width="1.3"/>
<ellipse cx="320.2" cy="717.3" rx="4.2" ry="2.6" stroke-opacity="0.23" stroke-width="1.3"/>
<ellipse cx="327.2" cy="717.3" rx="4.2" ry="2.6" stroke-opacity="0.23" stroke-width="1.3"/>
<ellipse cx="334.2" cy="717.3" rx="4.2" ry="2.6" stroke-opacity="0.23" stroke-width="1.3"/>
<ellipse cx="322.7" cy="721.3" rx="4.2" ry="2.6" stroke-opacity="0.23" stroke-width="1.3"/>
<ellipse cx="329.7" cy="721.3" rx="4.2" ry="2.6" stroke-opacity="0.23" stroke-width="1.3"/>
<ellipse cx="336.7" cy="721.3" rx="4.2" ry="2.6" stroke-opacity="0.23" stroke-width="1.3"/>
<ellipse cx="319.3" cy="725.3" rx="4.2" ry="2.6" stroke-opacity="0.22" stroke-width="1.3"/>
<ellipse cx="326.3" cy="725.3" rx="4.2" ry="2.6" stroke-opacity="0.22" stroke-width="1.3"/>
<ellipse cx="333.3" cy="725.3" rx="4.2" ry="2.6" stroke-opacity="0.22" stroke-width="1.3"/>
<ellipse cx="321.9" cy="729.3" rx="4.2" ry="2.6" stroke-opacity="0.21" stroke-width="1.3"/>
<ellipse cx="328.9" cy="729.3" rx="4.2" ry="2.6" stroke-opacity="0.21" stroke-width="1.3"/>
<ellipse cx="335.9" cy="729.3" rx="4.2" ry="2.6" stroke-opacity="0.21" stroke-width="1.3"/>
<ellipse cx="318.5" cy="733.3" rx="4.2" ry="2.6" stroke-opacity="0.21" stroke-width="1.3"/>
<ellipse cx="325.5" cy="733.3" rx="4.2" ry="2.6" stroke-opacity="0.21" stroke-width="1.3"/>
<ellipse cx="332.5" cy="733.3" rx="4.2" ry="2.6" stroke-opacity="0.21" stroke-width="1.3"/>
<ellipse cx="321.1" cy="737.3" rx="4.2" ry="2.6" stroke-opacity="0.20" stroke-width="1.3"/>
<ellipse cx="328.1" cy="737.3" rx="4.2" ry="2.6" stroke-opacity="0.20" stroke-width="1.3"/>
<ellipse cx="335.1" cy="737.3" rx="4.2" ry="2.6" stroke-opacity="0.20" stroke-width="1.3"/>
<ellipse cx="383.8" cy="566.5" rx="28.9" ry="3.2" stroke-opacity="0.62" stroke-width="2.0"/>
<ellipse cx="383.4" cy="574.3" rx="28.6" ry="3.2" stroke-opacity="0.62" stroke-width="2.0"/>
<ellipse cx="383.0" cy="582.1" rx="28.3" ry="3.2" stroke-opacity="0.62" stroke-width="2.0"/>
<ellipse cx="382.6" cy="589.9" rx="28.0" ry="3.2" stroke-opacity="0.62" stroke-width="2.0"/>
<ellipse cx="382.1" cy="597.7" rx="27.7" ry="3.2" stroke-opacity="0.62" stroke-width="2.0"/>
<ellipse cx="381.7" cy="605.5" rx="27.4" ry="3.2" stroke-opacity="0.62" stroke-width="2.0"/>
<ellipse cx="381.3" cy="613.3" rx="27.1" ry="3.2" stroke-opacity="0.62" stroke-width="2.0"/>
<ellipse cx="380.9" cy="621.1" rx="26.9" ry="3.2" stroke-opacity="0.62" stroke-width="2.0"/>
<ellipse cx="380.4" cy="628.9" rx="26.6" ry="3.2" stroke-opacity="0.62" stroke-width="2.0"/>
<ellipse cx="380.0" cy="636.7" rx="26.3" ry="3.2" stroke-opacity="0.62" stroke-width="2.0"/>
<ellipse cx="379.6" cy="644.5" rx="26.0" ry="3.2" stroke-opacity="0.62" stroke-width="2.0"/>
<ellipse cx="379.2" cy="652.3" rx="25.7" ry="3.2" stroke-opacity="0.62" stroke-width="2.0"/>
<ellipse cx="378.7" cy="660.1" rx="25.4" ry="3.2" stroke-opacity="0.62" stroke-width="2.0"/>
<ellipse cx="378.3" cy="667.9" rx="25.1" ry="3.2" stroke-opacity="0.62" stroke-width="2.0"/>
<ellipse cx="377.9" cy="675.7" rx="24.8" ry="3.2" stroke-opacity="0.62" stroke-width="2.0"/>
<ellipse cx="377.5" cy="683.5" rx="24.5" ry="3.2" stroke-opacity="0.62" stroke-width="2.0"/>
<ellipse cx="377.0" cy="691.3" rx="24.2" ry="3.2" stroke-opacity="0.62" stroke-width="2.0"/>
<ellipse cx="376.6" cy="699.1" rx="24.0" ry="3.2" stroke-opacity="0.62" stroke-width="2.0"/>
<ellipse cx="376.2" cy="706.9" rx="23.7" ry="3.2" stroke-opacity="0.62" stroke-width="2.0"/>
<ellipse cx="375.8" cy="714.7" rx="23.4" ry="3.2" stroke-opacity="0.62" stroke-width="2.0"/>
<ellipse cx="375.3" cy="722.5" rx="23.1" ry="3.2" stroke-opacity="0.62" stroke-width="2.0"/>
<ellipse cx="374.9" cy="730.3" rx="22.8" ry="3.2" stroke-opacity="0.62" stroke-width="2.0"/>
<ellipse cx="394.8" cy="565.5" rx="4.2" ry="2.6" stroke-opacity="0.50" stroke-width="1.3"/>
<ellipse cx="401.8" cy="565.5" rx="4.2" ry="2.6" stroke-opacity="0.50" stroke-width="1.3"/>
<ellipse cx="408.8" cy="565.5" rx="4.2" ry="2.6" stroke-opacity="0.50" stroke-width="1.3"/>
<ellipse cx="397.4" cy="569.5" rx="4.2" ry="2.6" stroke-opacity="0.49" stroke-width="1.3"/>
<ellipse cx="404.4" cy="569.5" rx="4.2" ry="2.6" stroke-opacity="0.49" stroke-width="1.3"/>
<ellipse cx="411.4" cy="569.5" rx="4.2" ry="2.6" stroke-opacity="0.49" stroke-width="1.3"/>
<ellipse cx="394.1" cy="573.5" rx="4.2" ry="2.6" stroke-opacity="0.48" stroke-width="1.3"/>
<ellipse cx="401.1" cy="573.5" rx="4.2" ry="2.6" stroke-opacity="0.48" stroke-width="1.3"/>
<ellipse cx="408.1" cy="573.5" rx="4.2" ry="2.6" stroke-opacity="0.48" stroke-width="1.3"/>
<ellipse cx="396.7" cy="577.5" rx="4.2" ry="2.6" stroke-opacity="0.48" stroke-width="1.3"/>
<ellipse cx="403.7" cy="577.5" rx="4.2" ry="2.6" stroke-opacity="0.48" stroke-width="1.3"/>
<ellipse cx="410.7" cy="577.5" rx="4.2" ry="2.6" stroke-opacity="0.48" stroke-width="1.3"/>
<ellipse cx="393.3" cy="581.5" rx="4.2" ry="2.6" stroke-opacity="0.47" stroke-width="1.3"/>
<ellipse cx="400.3" cy="581.5" rx="4.2" ry="2.6" stroke-opacity="0.47" stroke-width="1.3"/>
<ellipse cx="407.3" cy="581.5" rx="4.2" ry="2.6" stroke-opacity="0.47" stroke-width="1.3"/>
<ellipse cx="396.0" cy="585.5" rx="4.2" ry="2.6" stroke-opacity="0.46" stroke-width="1.3"/>
<ellipse cx="403.0" cy="585.5" rx="4.2" ry="2.6" stroke-opacity="0.46" stroke-width="1.3"/>
<ellipse cx="410.0" cy="585.5" rx="4.2" ry="2.6" stroke-opacity="0.46" stroke-width="1.3"/>
<ellipse cx="392.6" cy="589.5" rx="4.2" ry="2.6" stroke-opacity="0.46" stroke-width="1.3"/>
<ellipse cx="399.6" cy="589.5" rx="4.2" ry="2.6" stroke-opacity="0.46" stroke-width="1.3"/>
<ellipse cx="406.6" cy="589.5" rx="4.2" ry="2.6" stroke-opacity="0.46" stroke-width="1.3"/>
<ellipse cx="395.2" cy="593.5" rx="4.2" ry="2.6" stroke-opacity="0.45" stroke-width="1.3"/>
<ellipse cx="402.2" cy="593.5" rx="4.2" ry="2.6" stroke-opacity="0.45" stroke-width="1.3"/>
<ellipse cx="409.2" cy="593.5" rx="4.2" ry="2.6" stroke-opacity="0.45" stroke-width="1.3"/>
<ellipse cx="391.9" cy="597.5" rx="4.2" ry="2.6" stroke-opacity="0.44" stroke-width="1.3"/>
<ellipse cx="398.9" cy="597.5" rx="4.2" ry="2.6" stroke-opacity="0.44" stroke-width="1.3"/>
<ellipse cx="405.9" cy="597.5" rx="4.2" ry="2.6" stroke-opacity="0.44" stroke-width="1.3"/>
<ellipse cx="394.5" cy="601.5" rx="4.2" ry="2.6" stroke-opacity="0.43" stroke-width="1.3"/>
<ellipse cx="401.5" cy="601.5" rx="4.2" ry="2.6" stroke-opacity="0.43" stroke-width="1.3"/>
<ellipse cx="408.5" cy="601.5" rx="4.2" ry="2.6" stroke-opacity="0.43" stroke-width="1.3"/>
<ellipse cx="391.1" cy="605.5" rx="4.2" ry="2.6" stroke-opacity="0.43" stroke-width="1.3"/>
<ellipse cx="398.1" cy="605.5" rx="4.2" ry="2.6" stroke-opacity="0.43" stroke-width="1.3"/>
<ellipse cx="405.1" cy="605.5" rx="4.2" ry="2.6" stroke-opacity="0.43" stroke-width="1.3"/>
<ellipse cx="393.8" cy="609.5" rx="4.2" ry="2.6" stroke-opacity="0.42" stroke-width="1.3"/>
<ellipse cx="400.8" cy="609.5" rx="4.2" ry="2.6" stroke-opacity="0.42" stroke-width="1.3"/>
<ellipse cx="407.8" cy="609.5" rx="4.2" ry="2.6" stroke-opacity="0.42" stroke-width="1.3"/>
<ellipse cx="390.4" cy="613.5" rx="4.2" ry="2.6" stroke-opacity="0.41" stroke-width="1.3"/>
<ellipse cx="397.4" cy="613.5" rx="4.2" ry="2.6" stroke-opacity="0.41" stroke-width="1.3"/>
<ellipse cx="404.4" cy="613.5" rx="4.2" ry="2.6" stroke-opacity="0.41" stroke-width="1.3"/>
<ellipse cx="393.0" cy="617.5" rx="4.2" ry="2.6" stroke-opacity="0.41" stroke-width="1.3"/>
<ellipse cx="400.0" cy="617.5" rx="4.2" ry="2.6" stroke-opacity="0.41" stroke-width="1.3"/>
<ellipse cx="407.0" cy="617.5" rx="4.2" ry="2.6" stroke-opacity="0.41" stroke-width="1.3"/>
<ellipse cx="389.7" cy="621.5" rx="4.2" ry="2.6" stroke-opacity="0.40" stroke-width="1.3"/>
<ellipse cx="396.7" cy="621.5" rx="4.2" ry="2.6" stroke-opacity="0.40" stroke-width="1.3"/>
<ellipse cx="403.7" cy="621.5" rx="4.2" ry="2.6" stroke-opacity="0.40" stroke-width="1.3"/>
<ellipse cx="392.3" cy="625.5" rx="4.2" ry="2.6" stroke-opacity="0.39" stroke-width="1.3"/>
<ellipse cx="399.3" cy="625.5" rx="4.2" ry="2.6" stroke-opacity="0.39" stroke-width="1.3"/>
<ellipse cx="406.3" cy="625.5" rx="4.2" ry="2.6" stroke-opacity="0.39" stroke-width="1.3"/>
<ellipse cx="388.9" cy="629.5" rx="4.2" ry="2.6" stroke-opacity="0.39" stroke-width="1.3"/>
<ellipse cx="395.9" cy="629.5" rx="4.2" ry="2.6" stroke-opacity="0.39" stroke-width="1.3"/>
<ellipse cx="402.9" cy="629.5" rx="4.2" ry="2.6" stroke-opacity="0.39" stroke-width="1.3"/>
<ellipse cx="391.6" cy="633.5" rx="4.2" ry="2.6" stroke-opacity="0.38" stroke-width="1.3"/>
<ellipse cx="398.6" cy="633.5" rx="4.2" ry="2.6" stroke-opacity="0.38" stroke-width="1.3"/>
<ellipse cx="405.6" cy="633.5" rx="4.2" ry="2.6" stroke-opacity="0.38" stroke-width="1.3"/>
<ellipse cx="388.2" cy="637.5" rx="4.2" ry="2.6" stroke-opacity="0.37" stroke-width="1.3"/>
<ellipse cx="395.2" cy="637.5" rx="4.2" ry="2.6" stroke-opacity="0.37" stroke-width="1.3"/>
<ellipse cx="402.2" cy="637.5" rx="4.2" ry="2.6" stroke-opacity="0.37" stroke-width="1.3"/>
<ellipse cx="390.8" cy="641.5" rx="4.2" ry="2.6" stroke-opacity="0.37" stroke-width="1.3"/>
<ellipse cx="397.8" cy="641.5" rx="4.2" ry="2.6" stroke-opacity="0.37" stroke-width="1.3"/>
<ellipse cx="404.8" cy="641.5" rx="4.2" ry="2.6" stroke-opacity="0.37" stroke-width="1.3"/>
<ellipse cx="387.5" cy="645.5" rx="4.2" ry="2.6" stroke-opacity="0.36" stroke-width="1.3"/>
<ellipse cx="394.5" cy="645.5" rx="4.2" ry="2.6" stroke-opacity="0.36" stroke-width="1.3"/>
<ellipse cx="401.5" cy="645.5" rx="4.2" ry="2.6" stroke-opacity="0.36" stroke-width="1.3"/>
<ellipse cx="390.1" cy="649.5" rx="4.2" ry="2.6" stroke-opacity="0.35" stroke-width="1.3"/>
<ellipse cx="397.1" cy="649.5" rx="4.2" ry="2.6" stroke-opacity="0.35" stroke-width="1.3"/>
<ellipse cx="404.1" cy="649.5" rx="4.2" ry="2.6" stroke-opacity="0.35" stroke-width="1.3"/>
<ellipse cx="386.7" cy="653.5" rx="4.2" ry="2.6" stroke-opacity="0.35" stroke-width="1.3"/>
<ellipse cx="393.7" cy="653.5" rx="4.2" ry="2.6" stroke-opacity="0.35" stroke-width="1.3"/>
<ellipse cx="400.7" cy="653.5" rx="4.2" ry="2.6" stroke-opacity="0.35" stroke-width="1.3"/>
<ellipse cx="389.4" cy="657.5" rx="4.2" ry="2.6" stroke-opacity="0.34" stroke-width="1.3"/>
<ellipse cx="396.4" cy="657.5" rx="4.2" ry="2.6" stroke-opacity="0.34" stroke-width="1.3"/>
<ellipse cx="403.4" cy="657.5" rx="4.2" ry="2.6" stroke-opacity="0.34" stroke-width="1.3"/>
<ellipse cx="386.0" cy="661.5" rx="4.2" ry="2.6" stroke-opacity="0.33" stroke-width="1.3"/>
<ellipse cx="393.0" cy="661.5" rx="4.2" ry="2.6" stroke-opacity="0.33" stroke-width="1.3"/>
<ellipse cx="400.0" cy="661.5" rx="4.2" ry="2.6" stroke-opacity="0.33" stroke-width="1.3"/>
<ellipse cx="388.6" cy="665.5" rx="4.2" ry="2.6" stroke-opacity="0.32" stroke-width="1.3"/>
<ellipse cx="395.6" cy="665.5" rx="4.2" ry="2.6" stroke-opacity="0.32" stroke-width="1.3"/>
<ellipse cx="402.6" cy="665.5" rx="4.2" ry="2.6" stroke-opacity="0.32" stroke-width="1.3"/>
<ellipse cx="385.3" cy="669.5" rx="4.2" ry="2.6" stroke-opacity="0.32" stroke-width="1.3"/>
<ellipse cx="392.3" cy="669.5" rx="4.2" ry="2.6" stroke-opacity="0.32" stroke-width="1.3"/>
<ellipse cx="399.3" cy="669.5" rx="4.2" ry="2.6" stroke-opacity="0.32" stroke-width="1.3"/>
<ellipse cx="387.9" cy="673.5" rx="4.2" ry="2.6" stroke-opacity="0.31" stroke-width="1.3"/>
<ellipse cx="394.9" cy="673.5" rx="4.2" ry="2.6" stroke-opacity="0.31" stroke-width="1.3"/>
<ellipse cx="401.9" cy="673.5" rx="4.2" ry="2.6" stroke-opacity="0.31" stroke-width="1.3"/>
<ellipse cx="384.5" cy="677.5" rx="4.2" ry="2.6" stroke-opacity="0.30" stroke-width="1.3"/>
<ellipse cx="391.5" cy="677.5" rx="4.2" ry="2.6" stroke-opacity="0.30" stroke-width="1.3"/>
<ellipse cx="398.5" cy="677.5" rx="4.2" ry="2.6" stroke-opacity="0.30" stroke-width="1.3"/>
<ellipse cx="387.2" cy="681.5" rx="4.2" ry="2.6" stroke-opacity="0.30" stroke-width="1.3"/>
<ellipse cx="394.2" cy="681.5" rx="4.2" ry="2.6" stroke-opacity="0.30" stroke-width="1.3"/>
<ellipse cx="401.2" cy="681.5" rx="4.2" ry="2.6" stroke-opacity="0.30" stroke-width="1.3"/>
<ellipse cx="383.8" cy="685.5" rx="4.2" ry="2.6" stroke-opacity="0.29" stroke-width="1.3"/>
<ellipse cx="390.8" cy="685.5" rx="4.2" ry="2.6" stroke-opacity="0.29" stroke-width="1.3"/>
<ellipse cx="397.8" cy="685.5" rx="4.2" ry="2.6" stroke-opacity="0.29" stroke-width="1.3"/>
<ellipse cx="386.4" cy="689.5" rx="4.2" ry="2.6" stroke-opacity="0.28" stroke-width="1.3"/>
<ellipse cx="393.4" cy="689.5" rx="4.2" ry="2.6" stroke-opacity="0.28" stroke-width="1.3"/>
<ellipse cx="400.4" cy="689.5" rx="4.2" ry="2.6" stroke-opacity="0.28" stroke-width="1.3"/>
<ellipse cx="383.1" cy="693.5" rx="4.2" ry="2.6" stroke-opacity="0.28" stroke-width="1.3"/>
<ellipse cx="390.1" cy="693.5" rx="4.2" ry="2.6" stroke-opacity="0.28" stroke-width="1.3"/>
<ellipse cx="397.1" cy="693.5" rx="4.2" ry="2.6" stroke-opacity="0.28" stroke-width="1.3"/>
<ellipse cx="385.7" cy="697.5" rx="4.2" ry="2.6" stroke-opacity="0.27" stroke-width="1.3"/>
<ellipse cx="392.7" cy="697.5" rx="4.2" ry="2.6" stroke-opacity="0.27" stroke-width="1.3"/>
<ellipse cx="399.7" cy="697.5" rx="4.2" ry="2.6" stroke-opacity="0.27" stroke-width="1.3"/>
<ellipse cx="382.3" cy="701.5" rx="4.2" ry="2.6" stroke-opacity="0.26" stroke-width="1.3"/>
<ellipse cx="389.3" cy="701.5" rx="4.2" ry="2.6" stroke-opacity="0.26" stroke-width="1.3"/>
<ellipse cx="396.3" cy="701.5" rx="4.2" ry="2.6" stroke-opacity="0.26" stroke-width="1.3"/>
<ellipse cx="385.0" cy="705.5" rx="4.2" ry="2.6" stroke-opacity="0.26" stroke-width="1.3"/>
<ellipse cx="392.0" cy="705.5" rx="4.2" ry="2.6" stroke-opacity="0.26" stroke-width="1.3"/>
<ellipse cx="399.0" cy="705.5" rx="4.2" ry="2.6" stroke-opacity="0.26" stroke-width="1.3"/>
<ellipse cx="381.6" cy="709.5" rx="4.2" ry="2.6" stroke-opacity="0.25" stroke-width="1.3"/>
<ellipse cx="388.6" cy="709.5" rx="4.2" ry="2.6" stroke-opacity="0.25" stroke-width="1.3"/>
<ellipse cx="395.6" cy="709.5" rx="4.2" ry="2.6" stroke-opacity="0.25" stroke-width="1.3"/>
<ellipse cx="384.2" cy="713.5" rx="4.2" ry="2.6" stroke-opacity="0.24" stroke-width="1.3"/>
<ellipse cx="391.2" cy="713.5" rx="4.2" ry="2.6" stroke-opacity="0.24" stroke-width="1.3"/>
<ellipse cx="398.2" cy="713.5" rx="4.2" ry="2.6" stroke-opacity="0.24" stroke-width="1.3"/>
<ellipse cx="380.9" cy="717.5" rx="4.2" ry="2.6" stroke-opacity="0.24" stroke-width="1.3"/>
<ellipse cx="387.9" cy="717.5" rx="4.2" ry="2.6" stroke-opacity="0.24" stroke-width="1.3"/>
<ellipse cx="394.9" cy="717.5" rx="4.2" ry="2.6" stroke-opacity="0.24" stroke-width="1.3"/>
<ellipse cx="383.5" cy="721.5" rx="4.2" ry="2.6" stroke-opacity="0.23" stroke-width="1.3"/>
<ellipse cx="390.5" cy="721.5" rx="4.2" ry="2.6" stroke-opacity="0.23" stroke-width="1.3"/>
<ellipse cx="397.5" cy="721.5" rx="4.2" ry="2.6" stroke-opacity="0.23" stroke-width="1.3"/>
<ellipse cx="380.1" cy="725.5" rx="4.2" ry="2.6" stroke-opacity="0.22" stroke-width="1.3"/>
<ellipse cx="387.1" cy="725.5" rx="4.2" ry="2.6" stroke-opacity="0.22" stroke-width="1.3"/>
<ellipse cx="394.1" cy="725.5" rx="4.2" ry="2.6" stroke-opacity="0.22" stroke-width="1.3"/>
<ellipse cx="382.8" cy="729.5" rx="4.2" ry="2.6" stroke-opacity="0.21" stroke-width="1.3"/>
<ellipse cx="389.8" cy="729.5" rx="4.2" ry="2.6" stroke-opacity="0.21" stroke-width="1.3"/>
<ellipse cx="396.8" cy="729.5" rx="4.2" ry="2.6" stroke-opacity="0.21" stroke-width="1.3"/>
<ellipse cx="379.4" cy="733.5" rx="4.2" ry="2.6" stroke-opacity="0.21" stroke-width="1.3"/>
<ellipse cx="386.4" cy="733.5" rx="4.2" ry="2.6" stroke-opacity="0.21" stroke-width="1.3"/>
<ellipse cx="393.4" cy="733.5" rx="4.2" ry="2.6" stroke-opacity="0.21" stroke-width="1.3"/>
<ellipse cx="382.0" cy="737.5" rx="4.2" ry="2.6" stroke-opacity="0.20" stroke-width="1.3"/>
<ellipse cx="389.0" cy="737.5" rx="4.2" ry="2.6" stroke-opacity="0.20" stroke-width="1.3"/>
<ellipse cx="396.0" cy="737.5" rx="4.2" ry="2.6" stroke-opacity="0.20" stroke-width="1.3"/>
<ellipse cx="437.9" cy="573.5" rx="24.9" ry="3.2" stroke-opacity="0.62" stroke-width="2.0"/>
<ellipse cx="437.7" cy="581.3" rx="24.7" ry="3.2" stroke-opacity="0.62" stroke-width="2.0"/>
<ellipse cx="437.6" cy="589.1" rx="24.6" ry="3.2" stroke-opacity="0.62" stroke-width="2.0"/>
<ellipse cx="437.4" cy="596.9" rx="24.4" ry="3.2" stroke-opacity="0.62" stroke-width="2.0"/>
<ellipse cx="437.2" cy="604.7" rx="24.2" ry="3.2" stroke-opacity="0.62" stroke-width="2.0"/>
<ellipse cx="437.0" cy="612.5" rx="24.0" ry="3.2" stroke-opacity="0.62" stroke-width="2.0"/>
<ellipse cx="436.8" cy="620.3" rx="23.8" ry="3.2" stroke-opacity="0.62" stroke-width="2.0"/>
<ellipse cx="436.6" cy="628.1" rx="23.6" ry="3.2" stroke-opacity="0.62" stroke-width="2.0"/>
<ellipse cx="436.4" cy="635.9" rx="23.4" ry="3.2" stroke-opacity="0.62" stroke-width="2.0"/>
<ellipse cx="436.3" cy="643.7" rx="23.3" ry="3.2" stroke-opacity="0.62" stroke-width="2.0"/>
<ellipse cx="436.1" cy="651.5" rx="23.1" ry="3.2" stroke-opacity="0.62" stroke-width="2.0"/>
<ellipse cx="435.9" cy="659.3" rx="22.9" ry="3.2" stroke-opacity="0.62" stroke-width="2.0"/>
<ellipse cx="435.7" cy="667.1" rx="22.7" ry="3.2" stroke-opacity="0.62" stroke-width="2.0"/>
<ellipse cx="435.5" cy="674.9" rx="22.5" ry="3.2" stroke-opacity="0.62" stroke-width="2.0"/>
<ellipse cx="435.3" cy="682.7" rx="22.3" ry="3.2" stroke-opacity="0.62" stroke-width="2.0"/>
<ellipse cx="435.1" cy="690.5" rx="22.1" ry="3.2" stroke-opacity="0.62" stroke-width="2.0"/>
<ellipse cx="434.9" cy="698.3" rx="21.9" ry="3.2" stroke-opacity="0.62" stroke-width="2.0"/>
<ellipse cx="434.8" cy="706.1" rx="21.8" ry="3.2" stroke-opacity="0.62" stroke-width="2.0"/>
<ellipse cx="434.6" cy="713.9" rx="21.6" ry="3.2" stroke-opacity="0.62" stroke-width="2.0"/>
<ellipse cx="434.4" cy="721.7" rx="21.4" ry="3.2" stroke-opacity="0.62" stroke-width="2.0"/>
<ellipse cx="434.2" cy="729.5" rx="21.2" ry="3.2" stroke-opacity="0.62" stroke-width="2.0"/>
<ellipse cx="434.0" cy="737.3" rx="21.0" ry="3.2" stroke-opacity="0.62" stroke-width="2.0"/>
<ellipse cx="444.9" cy="572.5" rx="4.2" ry="2.6" stroke-opacity="0.50" stroke-width="1.3"/>
<ellipse cx="451.9" cy="572.5" rx="4.2" ry="2.6" stroke-opacity="0.50" stroke-width="1.3"/>
<ellipse cx="458.9" cy="572.5" rx="4.2" ry="2.6" stroke-opacity="0.50" stroke-width="1.3"/>
<ellipse cx="447.7" cy="576.5" rx="4.2" ry="2.6" stroke-opacity="0.49" stroke-width="1.3"/>
<ellipse cx="454.7" cy="576.5" rx="4.2" ry="2.6" stroke-opacity="0.49" stroke-width="1.3"/>
<ellipse cx="461.7" cy="576.5" rx="4.2" ry="2.6" stroke-opacity="0.49" stroke-width="1.3"/>
<ellipse cx="444.5" cy="580.5" rx="4.2" ry="2.6" stroke-opacity="0.48" stroke-width="1.3"/>
<ellipse cx="451.5" cy="580.5" rx="4.2" ry="2.6" stroke-opacity="0.48" stroke-width="1.3"/>
<ellipse cx="458.5" cy="580.5" rx="4.2" ry="2.6" stroke-opacity="0.48" stroke-width="1.3"/>
<ellipse cx="447.3" cy="584.5" rx="4.2" ry="2.6" stroke-opacity="0.47" stroke-width="1.3"/>
<ellipse cx="454.3" cy="584.5" rx="4.2" ry="2.6" stroke-opacity="0.47" stroke-width="1.3"/>
<ellipse cx="461.3" cy="584.5" rx="4.2" ry="2.6" stroke-opacity="0.47" stroke-width="1.3"/>
<ellipse cx="444.1" cy="588.5" rx="4.2" ry="2.6" stroke-opacity="0.47" stroke-width="1.3"/>
<ellipse cx="451.1" cy="588.5" rx="4.2" ry="2.6" stroke-opacity="0.47" stroke-width="1.3"/>
<ellipse cx="458.1" cy="588.5" rx="4.2" ry="2.6" stroke-opacity="0.47" stroke-width="1.3"/>
<ellipse cx="446.9" cy="592.5" rx="4.2" ry="2.6" stroke-opacity="0.46" stroke-width="1.3"/>
<ellipse cx="453.9" cy="592.5" rx="4.2" ry="2.6" stroke-opacity="0.46" stroke-width="1.3"/>
<ellipse cx="460.9" cy="592.5" rx="4.2" ry="2.6" stroke-opacity="0.46" stroke-width="1.3"/>
<ellipse cx="443.8" cy="596.5" rx="4.2" ry="2.6" stroke-opacity="0.45" stroke-width="1.3"/>
<ellipse cx="450.8" cy="596.5" rx="4.2" ry="2.6" stroke-opacity="0.45" stroke-width="1.3"/>
<ellipse cx="457.8" cy="596.5" rx="4.2" ry="2.6" stroke-opacity="0.45" stroke-width="1.3"/>
<ellipse cx="446.6" cy="600.5" rx="4.2" ry="2.6" stroke-opacity="0.45" stroke-width="1.3"/>
<ellipse cx="453.6" cy="600.5" rx="4.2" ry="2.6" stroke-opacity="0.45" stroke-width="1.3"/>
<ellipse cx="460.6" cy="600.5" rx="4.2" ry="2.6" stroke-opacity="0.45" stroke-width="1.3"/>
<ellipse cx="443.4" cy="604.5" rx="4.2" ry="2.6" stroke-opacity="0.44" stroke-width="1.3"/>
<ellipse cx="450.4" cy="604.5" rx="4.2" ry="2.6" stroke-opacity="0.44" stroke-width="1.3"/>
<ellipse cx="457.4" cy="604.5" rx="4.2" ry="2.6" stroke-opacity="0.44" stroke-width="1.3"/>
<ellipse cx="446.2" cy="608.5" rx="4.2" ry="2.6" stroke-opacity="0.43" stroke-width="1.3"/>
<ellipse cx="453.2" cy="608.5" rx="4.2" ry="2.6" stroke-opacity="0.43" stroke-width="1.3"/>
<ellipse cx="460.2" cy="608.5" rx="4.2" ry="2.6" stroke-opacity="0.43" stroke-width="1.3"/>
<ellipse cx="443.0" cy="612.5" rx="4.2" ry="2.6" stroke-opacity="0.42" stroke-width="1.3"/>
<ellipse cx="450.0" cy="612.5" rx="4.2" ry="2.6" stroke-opacity="0.42" stroke-width="1.3"/>
<ellipse cx="457.0" cy="612.5" rx="4.2" ry="2.6" stroke-opacity="0.42" stroke-width="1.3"/>
<ellipse cx="445.8" cy="616.5" rx="4.2" ry="2.6" stroke-opacity="0.42" stroke-width="1.3"/>
<ellipse cx="452.8" cy="616.5" rx="4.2" ry="2.6" stroke-opacity="0.42" stroke-width="1.3"/>
<ellipse cx="459.8" cy="616.5" rx="4.2" ry="2.6" stroke-opacity="0.42" stroke-width="1.3"/>
<ellipse cx="442.6" cy="620.5" rx="4.2" ry="2.6" stroke-opacity="0.41" stroke-width="1.3"/>
<ellipse cx="449.6" cy="620.5" rx="4.2" ry="2.6" stroke-opacity="0.41" stroke-width="1.3"/>
<ellipse cx="456.6" cy="620.5" rx="4.2" ry="2.6" stroke-opacity="0.41" stroke-width="1.3"/>
<ellipse cx="445.4" cy="624.5" rx="4.2" ry="2.6" stroke-opacity="0.40" stroke-width="1.3"/>
<ellipse cx="452.4" cy="624.5" rx="4.2" ry="2.6" stroke-opacity="0.40" stroke-width="1.3"/>
<ellipse cx="459.4" cy="624.5" rx="4.2" ry="2.6" stroke-opacity="0.40" stroke-width="1.3"/>
<ellipse cx="442.2" cy="628.5" rx="4.2" ry="2.6" stroke-opacity="0.40" stroke-width="1.3"/>
<ellipse cx="449.2" cy="628.5" rx="4.2" ry="2.6" stroke-opacity="0.40" stroke-width="1.3"/>
<ellipse cx="456.2" cy="628.5" rx="4.2" ry="2.6" stroke-opacity="0.40" stroke-width="1.3"/>
<ellipse cx="445.0" cy="632.5" rx="4.2" ry="2.6" stroke-opacity="0.39" stroke-width="1.3"/>
<ellipse cx="452.0" cy="632.5" rx="4.2" ry="2.6" stroke-opacity="0.39" stroke-width="1.3"/>
<ellipse cx="459.0" cy="632.5" rx="4.2" ry="2.6" stroke-opacity="0.39" stroke-width="1.3"/>
<ellipse cx="441.8" cy="636.5" rx="4.2" ry="2.6" stroke-opacity="0.38" stroke-width="1.3"/>
<ellipse cx="448.8" cy="636.5" rx="4.2" ry="2.6" stroke-opacity="0.38" stroke-width="1.3"/>
<ellipse cx="455.8" cy="636.5" rx="4.2" ry="2.6" stroke-opacity="0.38" stroke-width="1.3"/>
<ellipse cx="444.7" cy="640.5" rx="4.2" ry="2.6" stroke-opacity="0.37" stroke-width="1.3"/>
<ellipse cx="451.7" cy="640.5" rx="4.2" ry="2.6" stroke-opacity="0.37" stroke-width="1.3"/>
<ellipse cx="458.7" cy="640.5" rx="4.2" ry="2.6" stroke-opacity="0.37" stroke-width="1.3"/>
<ellipse cx="441.5" cy="644.5" rx="4.2" ry="2.6" stroke-opacity="0.37" stroke-width="1.3"/>
<ellipse cx="448.5" cy="644.5" rx="4.2" ry="2.6" stroke-opacity="0.37" stroke-width="1.3"/>
<ellipse cx="455.5" cy="644.5" rx="4.2" ry="2.6" stroke-opacity="0.37" stroke-width="1.3"/>
<ellipse cx="444.3" cy="648.5" rx="4.2" ry="2.6" stroke-opacity="0.36" stroke-width="1.3"/>
<ellipse cx="451.3" cy="648.5" rx="4.2" ry="2.6" stroke-opacity="0.36" stroke-width="1.3"/>
<ellipse cx="458.3" cy="648.5" rx="4.2" ry="2.6" stroke-opacity="0.36" stroke-width="1.3"/>
<ellipse cx="441.1" cy="652.5" rx="4.2" ry="2.6" stroke-opacity="0.35" stroke-width="1.3"/>
<ellipse cx="448.1" cy="652.5" rx="4.2" ry="2.6" stroke-opacity="0.35" stroke-width="1.3"/>
<ellipse cx="455.1" cy="652.5" rx="4.2" ry="2.6" stroke-opacity="0.35" stroke-width="1.3"/>
<ellipse cx="443.9" cy="656.5" rx="4.2" ry="2.6" stroke-opacity="0.35" stroke-width="1.3"/>
<ellipse cx="450.9" cy="656.5" rx="4.2" ry="2.6" stroke-opacity="0.35" stroke-width="1.3"/>
<ellipse cx="457.9" cy="656.5" rx="4.2" ry="2.6" stroke-opacity="0.35" stroke-width="1.3"/>
<ellipse cx="440.7" cy="660.5" rx="4.2" ry="2.6" stroke-opacity="0.34" stroke-width="1.3"/>
<ellipse cx="447.7" cy="660.5" rx="4.2" ry="2.6" stroke-opacity="0.34" stroke-width="1.3"/>
<ellipse cx="454.7" cy="660.5" rx="4.2" ry="2.6" stroke-opacity="0.34" stroke-width="1.3"/>
<ellipse cx="443.5" cy="664.5" rx="4.2" ry="2.6" stroke-opacity="0.33" stroke-width="1.3"/>
<ellipse cx="450.5" cy="664.5" rx="4.2" ry="2.6" stroke-opacity="0.33" stroke-width="1.3"/>
<ellipse cx="457.5" cy="664.5" rx="4.2" ry="2.6" stroke-opacity="0.33" stroke-width="1.3"/>
<ellipse cx="440.3" cy="668.5" rx="4.2" ry="2.6" stroke-opacity="0.32" stroke-width="1.3"/>
<ellipse cx="447.3" cy="668.5" rx="4.2" ry="2.6" stroke-opacity="0.32" stroke-width="1.3"/>
<ellipse cx="454.3" cy="668.5" rx="4.2" ry="2.6" stroke-opacity="0.32" stroke-width="1.3"/>
<ellipse cx="443.1" cy="672.5" rx="4.2" ry="2.6" stroke-opacity="0.32" stroke-width="1.3"/>
<ellipse cx="450.1" cy="672.5" rx="4.2" ry="2.6" stroke-opacity="0.32" stroke-width="1.3"/>
<ellipse cx="457.1" cy="672.5" rx="4.2" ry="2.6" stroke-opacity="0.32" stroke-width="1.3"/>
<ellipse cx="439.9" cy="676.5" rx="4.2" ry="2.6" stroke-opacity="0.31" stroke-width="1.3"/>
<ellipse cx="446.9" cy="676.5" rx="4.2" ry="2.6" stroke-opacity="0.31" stroke-width="1.3"/>
<ellipse cx="453.9" cy="676.5" rx="4.2" ry="2.6" stroke-opacity="0.31" stroke-width="1.3"/>
<ellipse cx="442.7" cy="680.5" rx="4.2" ry="2.6" stroke-opacity="0.30" stroke-width="1.3"/>
<ellipse cx="449.7" cy="680.5" rx="4.2" ry="2.6" stroke-opacity="0.30" stroke-width="1.3"/>
<ellipse cx="456.7" cy="680.5" rx="4.2" ry="2.6" stroke-opacity="0.30" stroke-width="1.3"/>
<ellipse cx="439.6" cy="684.5" rx="4.2" ry="2.6" stroke-opacity="0.30" stroke-width="1.3"/>
<ellipse cx="446.6" cy="684.5" rx="4.2" ry="2.6" stroke-opacity="0.30" stroke-width="1.3"/>
<ellipse cx="453.6" cy="684.5" rx="4.2" ry="2.6" stroke-opacity="0.30" stroke-width="1.3"/>
<ellipse cx="442.4" cy="688.5" rx="4.2" ry="2.6" stroke-opacity="0.29" stroke-width="1.3"/>
<ellipse cx="449.4" cy="688.5" rx="4.2" ry="2.6" stroke-opacity="0.29" stroke-width="1.3"/>
<ellipse cx="456.4" cy="688.5" rx="4.2" ry="2.6" stroke-opacity="0.29" stroke-width="1.3"/>
<ellipse cx="439.2" cy="692.5" rx="4.2" ry="2.6" stroke-opacity="0.28" stroke-width="1.3"/>
<ellipse cx="446.2" cy="692.5" rx="4.2" ry="2.6" stroke-opacity="0.28" stroke-width="1.3"/>
<ellipse cx="453.2" cy="692.5" rx="4.2" ry="2.6" stroke-opacity="0.28" stroke-width="1.3"/>
<ellipse cx="442.0" cy="696.5" rx="4.2" ry="2.6" stroke-opacity="0.27" stroke-width="1.3"/>
<ellipse cx="449.0" cy="696.5" rx="4.2" ry="2.6" stroke-opacity="0.27" stroke-width="1.3"/>
<ellipse cx="456.0" cy="696.5" rx="4.2" ry="2.6" stroke-opacity="0.27" stroke-width="1.3"/>
<ellipse cx="438.8" cy="700.5" rx="4.2" ry="2.6" stroke-opacity="0.27" stroke-width="1.3"/>
<ellipse cx="445.8" cy="700.5" rx="4.2" ry="2.6" stroke-opacity="0.27" stroke-width="1.3"/>
<ellipse cx="452.8" cy="700.5" rx="4.2" ry="2.6" stroke-opacity="0.27" stroke-width="1.3"/>
<ellipse cx="441.6" cy="704.5" rx="4.2" ry="2.6" stroke-opacity="0.26" stroke-width="1.3"/>
<ellipse cx="448.6" cy="704.5" rx="4.2" ry="2.6" stroke-opacity="0.26" stroke-width="1.3"/>
<ellipse cx="455.6" cy="704.5" rx="4.2" ry="2.6" stroke-opacity="0.26" stroke-width="1.3"/>
<ellipse cx="438.4" cy="708.5" rx="4.2" ry="2.6" stroke-opacity="0.25" stroke-width="1.3"/>
<ellipse cx="445.4" cy="708.5" rx="4.2" ry="2.6" stroke-opacity="0.25" stroke-width="1.3"/>
<ellipse cx="452.4" cy="708.5" rx="4.2" ry="2.6" stroke-opacity="0.25" stroke-width="1.3"/>
<ellipse cx="441.2" cy="712.5" rx="4.2" ry="2.6" stroke-opacity="0.25" stroke-width="1.3"/>
<ellipse cx="448.2" cy="712.5" rx="4.2" ry="2.6" stroke-opacity="0.25" stroke-width="1.3"/>
<ellipse cx="455.2" cy="712.5" rx="4.2" ry="2.6" stroke-opacity="0.25" stroke-width="1.3"/>
<ellipse cx="438.0" cy="716.5" rx="4.2" ry="2.6" stroke-opacity="0.24" stroke-width="1.3"/>
<ellipse cx="445.0" cy="716.5" rx="4.2" ry="2.6" stroke-opacity="0.24" stroke-width="1.3"/>
<ellipse cx="452.0" cy="716.5" rx="4.2" ry="2.6" stroke-opacity="0.24" stroke-width="1.3"/>
<ellipse cx="440.8" cy="720.5" rx="4.2" ry="2.6" stroke-opacity="0.23" stroke-width="1.3"/>
<ellipse cx="447.8" cy="720.5" rx="4.2" ry="2.6" stroke-opacity="0.23" stroke-width="1.3"/>
<ellipse cx="454.8" cy="720.5" rx="4.2" ry="2.6" stroke-opacity="0.23" stroke-width="1.3"/>
<ellipse cx="437.6" cy="724.5" rx="4.2" ry="2.6" stroke-opacity="0.22" stroke-width="1.3"/>
<ellipse cx="444.6" cy="724.5" rx="4.2" ry="2.6" stroke-opacity="0.22" stroke-width="1.3"/>
<ellipse cx="451.6" cy="724.5" rx="4.2" ry="2.6" stroke-opacity="0.22" stroke-width="1.3"/>
<ellipse cx="440.5" cy="728.5" rx="4.2" ry="2.6" stroke-opacity="0.22" stroke-width="1.3"/>
<ellipse cx="447.5" cy="728.5" rx="4.2" ry="2.6" stroke-opacity="0.22" stroke-width="1.3"/>
<ellipse cx="454.5" cy="728.5" rx="4.2" ry="2.6" stroke-opacity="0.22" stroke-width="1.3"/>
<ellipse cx="437.3" cy="732.5" rx="4.2" ry="2.6" stroke-opacity="0.21" stroke-width="1.3"/>
<ellipse cx="444.3" cy="732.5" rx="4.2" ry="2.6" stroke-opacity="0.21" stroke-width="1.3"/>
<ellipse cx="451.3" cy="732.5" rx="4.2" ry="2.6" stroke-opacity="0.21" stroke-width="1.3"/>
<ellipse cx="440.1" cy="736.5" rx="4.2" ry="2.6" stroke-opacity="0.20" stroke-width="1.3"/>
<ellipse cx="447.1" cy="736.5" rx="4.2" ry="2.6" stroke-opacity="0.20" stroke-width="1.3"/>
<ellipse cx="454.1" cy="736.5" rx="4.2" ry="2.6" stroke-opacity="0.20" stroke-width="1.3"/>
<path d="M475.0,580.3 A20.5,4.4 0 0 1 516.0,580.3" stroke-opacity="0.25" stroke-width="1.3"/>
<path d="M475.0,580.3 A20.5,4.4 0 0 0 516.0,580.3" stroke-opacity="0.52" stroke-width="1.6"/>
<path d="M475.0,586.0 A20.4,4.4 0 0 1 515.9,586.0" stroke-opacity="0.26" stroke-width="1.3"/>
<path d="M475.0,586.0 A20.4,4.4 0 0 0 515.9,586.0" stroke-opacity="0.54" stroke-width="1.6"/>
<path d="M475.0,591.7 A20.4,4.4 0 0 1 515.8,591.7" stroke-opacity="0.26" stroke-width="1.3"/>
<path d="M475.0,591.7 A20.4,4.4 0 0 0 515.8,591.7" stroke-opacity="0.55" stroke-width="1.6"/>
<path d="M475.0,597.4 A20.4,4.4 0 0 1 515.7,597.4" stroke-opacity="0.27" stroke-width="1.3"/>
<path d="M475.0,597.4 A20.4,4.4 0 0 0 515.7,597.4" stroke-opacity="0.56" stroke-width="1.6"/>
<path d="M475.0,603.1 A20.3,4.4 0 0 1 515.7,603.1" stroke-opacity="0.27" stroke-width="1.3"/>
<path d="M475.0,603.1 A20.3,4.4 0 0 0 515.7,603.1" stroke-opacity="0.57" stroke-width="1.6"/>
<path d="M475.0,608.8 A20.3,4.4 0 0 1 515.6,608.8" stroke-opacity="0.28" stroke-width="1.3"/>
<path d="M475.0,608.8 A20.3,4.4 0 0 0 515.6,608.8" stroke-opacity="0.59" stroke-width="1.6"/>
<path d="M475.0,614.5 A20.3,4.4 0 0 1 515.5,614.5" stroke-opacity="0.29" stroke-width="1.3"/>
<path d="M475.0,614.5 A20.3,4.4 0 0 0 515.5,614.5" stroke-opacity="0.60" stroke-width="1.6"/>
<path d="M475.0,620.2 A20.2,4.4 0 0 1 515.5,620.2" stroke-opacity="0.29" stroke-width="1.3"/>
<path d="M475.0,620.2 A20.2,4.4 0 0 0 515.5,620.2" stroke-opacity="0.61" stroke-width="1.6"/>
<path d="M475.0,625.9 A20.2,4.4 0 0 1 515.4,625.9" stroke-opacity="0.30" stroke-width="1.3"/>
<path d="M475.0,625.9 A20.2,4.4 0 0 0 515.4,625.9" stroke-opacity="0.62" stroke-width="1.6"/>
<path d="M475.0,631.6 A20.2,4.4 0 0 1 515.3,631.6" stroke-opacity="0.30" stroke-width="1.3"/>
<path d="M475.0,631.6 A20.2,4.4 0 0 0 515.3,631.6" stroke-opacity="0.64" stroke-width="1.6"/>
<path d="M475.0,637.3 A20.1,4.4 0 0 1 515.2,637.3" stroke-opacity="0.31" stroke-width="1.3"/>
<path d="M475.0,637.3 A20.1,4.4 0 0 0 515.2,637.3" stroke-opacity="0.65" stroke-width="1.6"/>
<path d="M475.0,643.0 A20.1,4.4 0 0 1 515.2,643.0" stroke-opacity="0.32" stroke-width="1.3"/>
<path d="M475.0,643.0 A20.1,4.4 0 0 0 515.2,643.0" stroke-opacity="0.66" stroke-width="1.6"/>
<path d="M475.0,648.7 A20.1,4.4 0 0 1 515.1,648.7" stroke-opacity="0.32" stroke-width="1.3"/>
<path d="M475.0,648.7 A20.1,4.4 0 0 0 515.1,648.7" stroke-opacity="0.67" stroke-width="1.6"/>
<path d="M475.0,654.4 A20.0,4.4 0 0 1 515.0,654.4" stroke-opacity="0.33" stroke-width="1.3"/>
<path d="M475.0,654.4 A20.0,4.4 0 0 0 515.0,654.4" stroke-opacity="0.69" stroke-width="1.6"/>
<path d="M475.0,660.1 A20.0,4.4 0 0 1 515.0,660.1" stroke-opacity="0.33" stroke-width="1.3"/>
<path d="M475.0,660.1 A20.0,4.4 0 0 0 515.0,660.1" stroke-opacity="0.70" stroke-width="1.6"/>
<path d="M475.0,665.8 A19.9,4.4 0 0 1 514.9,665.8" stroke-opacity="0.34" stroke-width="1.3"/>
<path d="M475.0,665.8 A19.9,4.4 0 0 0 514.9,665.8" stroke-opacity="0.71" stroke-width="1.6"/>
<path d="M475.0,671.5 A19.9,4.4 0 0 1 514.8,671.5" stroke-opacity="0.35" stroke-width="1.3"/>
<path d="M475.0,671.5 A19.9,4.4 0 0 0 514.8,671.5" stroke-opacity="0.72" stroke-width="1.6"/>
<path d="M475.0,677.2 A19.9,4.4 0 0 1 514.7,677.2" stroke-opacity="0.35" stroke-width="1.3"/>
<path d="M475.0,677.2 A19.9,4.4 0 0 0 514.7,677.2" stroke-opacity="0.73" stroke-width="1.6"/>
<path d="M475.0,682.9 A19.8,4.4 0 0 1 514.7,682.9" stroke-opacity="0.36" stroke-width="1.3"/>
<path d="M475.0,682.9 A19.8,4.4 0 0 0 514.7,682.9" stroke-opacity="0.75" stroke-width="1.6"/>
<path d="M475.0,688.6 A19.8,4.4 0 0 1 514.6,688.6" stroke-opacity="0.36" stroke-width="1.3"/>
<path d="M475.0,688.6 A19.8,4.4 0 0 0 514.6,688.6" stroke-opacity="0.76" stroke-width="1.6"/>
<path d="M475.0,694.3 A19.8,4.4 0 0 1 514.5,694.3" stroke-opacity="0.37" stroke-width="1.3"/>
<path d="M475.0,694.3 A19.8,4.4 0 0 0 514.5,694.3" stroke-opacity="0.77" stroke-width="1.6"/>
<path d="M475.0,700.0 A19.7,4.4 0 0 1 514.5,700.0" stroke-opacity="0.38" stroke-width="1.3"/>
<path d="M475.0,700.0 A19.7,4.4 0 0 0 514.5,700.0" stroke-opacity="0.78" stroke-width="1.6"/>
<path d="M475.0,705.7 A19.7,4.4 0 0 1 514.4,705.7" stroke-opacity="0.38" stroke-width="1.3"/>
<path d="M475.0,705.7 A19.7,4.4 0 0 0 514.4,705.7" stroke-opacity="0.80" stroke-width="1.6"/>
<path d="M475.0,711.4 A19.7,4.4 0 0 1 514.3,711.4" stroke-opacity="0.39" stroke-width="1.3"/>
<path d="M475.0,711.4 A19.7,4.4 0 0 0 514.3,711.4" stroke-opacity="0.81" stroke-width="1.6"/>
<path d="M475.0,717.1 A19.6,4.4 0 0 1 514.2,717.1" stroke-opacity="0.39" stroke-width="1.3"/>
<path d="M475.0,717.1 A19.6,4.4 0 0 0 514.2,717.1" stroke-opacity="0.82" stroke-width="1.6"/>
<path d="M475.0,722.8 A19.6,4.4 0 0 1 514.2,722.8" stroke-opacity="0.40" stroke-width="1.3"/>
<path d="M475.0,722.8 A19.6,4.4 0 0 0 514.2,722.8" stroke-opacity="0.83" stroke-width="1.6"/>
<path d="M475.0,728.5 A19.5,4.4 0 0 1 514.1,728.5" stroke-opacity="0.40" stroke-width="1.3"/>
<path d="M475.0,728.5 A19.5,4.4 0 0 0 514.1,728.5" stroke-opacity="0.85" stroke-width="1.6"/>
<path d="M475.0,734.2 A19.5,4.4 0 0 1 514.0,734.2" stroke-opacity="0.41" stroke-width="1.3"/>
<path d="M475.0,734.2 A19.5,4.4 0 0 0 514.0,734.2" stroke-opacity="0.86" stroke-width="1.6"/>
<path d="M533.0,586.9 A21.0,4.4 0 0 1 575.0,586.9" stroke-opacity="0.25" stroke-width="1.3"/>
<path d="M533.0,586.9 A21.0,4.4 0 0 0 575.0,586.9" stroke-opacity="0.52" stroke-width="1.6"/>
<path d="M533.0,592.6 A20.9,4.4 0 0 1 574.9,592.6" stroke-opacity="0.26" stroke-width="1.3"/>
<path d="M533.0,592.6 A20.9,4.4 0 0 0 574.9,592.6" stroke-opacity="0.54" stroke-width="1.6"/>
<path d="M533.0,598.3 A20.9,4.4 0 0 1 574.8,598.3" stroke-opacity="0.26" stroke-width="1.3"/>
<path d="M533.0,598.3 A20.9,4.4 0 0 0 574.8,598.3" stroke-opacity="0.55" stroke-width="1.6"/>
<path d="M533.0,604.0 A20.9,4.4 0 0 1 574.7,604.0" stroke-opacity="0.27" stroke-width="1.3"/>
<path d="M533.0,604.0 A20.9,4.4 0 0 0 574.7,604.0" stroke-opacity="0.56" stroke-width="1.6"/>
<path d="M533.0,609.7 A20.8,4.4 0 0 1 574.7,609.7" stroke-opacity="0.28" stroke-width="1.3"/>
<path d="M533.0,609.7 A20.8,4.4 0 0 0 574.7,609.7" stroke-opacity="0.58" stroke-width="1.6"/>
<path d="M533.0,615.4 A20.8,4.4 0 0 1 574.6,615.4" stroke-opacity="0.28" stroke-width="1.3"/>
<path d="M533.0,615.4 A20.8,4.4 0 0 0 574.6,615.4" stroke-opacity="0.59" stroke-width="1.6"/>
<path d="M533.0,621.1 A20.8,4.4 0 0 1 574.5,621.1" stroke-opacity="0.29" stroke-width="1.3"/>
<path d="M533.0,621.1 A20.8,4.4 0 0 0 574.5,621.1" stroke-opacity="0.60" stroke-width="1.6"/>
<path d="M533.0,626.8 A20.7,4.4 0 0 1 574.4,626.8" stroke-opacity="0.29" stroke-width="1.3"/>
<path d="M533.0,626.8 A20.7,4.4 0 0 0 574.4,626.8" stroke-opacity="0.61" stroke-width="1.6"/>
<path d="M533.0,632.5 A20.7,4.4 0 0 1 574.4,632.5" stroke-opacity="0.30" stroke-width="1.3"/>
<path d="M533.0,632.5 A20.7,4.4 0 0 0 574.4,632.5" stroke-opacity="0.63" stroke-width="1.6"/>
<path d="M533.0,638.2 A20.6,4.4 0 0 1 574.3,638.2" stroke-opacity="0.31" stroke-width="1.3"/>
<path d="M533.0,638.2 A20.6,4.4 0 0 0 574.3,638.2" stroke-opacity="0.64" stroke-width="1.6"/>
<path d="M533.0,643.9 A20.6,4.4 0 0 1 574.2,643.9" stroke-opacity="0.31" stroke-width="1.3"/>
<path d="M533.0,643.9 A20.6,4.4 0 0 0 574.2,643.9" stroke-opacity="0.65" stroke-width="1.6"/>
<path d="M533.0,649.6 A20.6,4.4 0 0 1 574.1,649.6" stroke-opacity="0.32" stroke-width="1.3"/>
<path d="M533.0,649.6 A20.6,4.4 0 0 0 574.1,649.6" stroke-opacity="0.67" stroke-width="1.6"/>
<path d="M533.0,655.3 A20.5,4.4 0 0 1 574.1,655.3" stroke-opacity="0.32" stroke-width="1.3"/>
<path d="M533.0,655.3 A20.5,4.4 0 0 0 574.1,655.3" stroke-opacity="0.68" stroke-width="1.6"/>
<path d="M533.0,661.0 A20.5,4.4 0 0 1 574.0,661.0" stroke-opacity="0.33" stroke-width="1.3"/>
<path d="M533.0,661.0 A20.5,4.4 0 0 0 574.0,661.0" stroke-opacity="0.69" stroke-width="1.6"/>
<path d="M533.0,666.7 A20.5,4.4 0 0 1 573.9,666.7" stroke-opacity="0.34" stroke-width="1.3"/>
<path d="M533.0,666.7 A20.5,4.4 0 0 0 573.9,666.7" stroke-opacity="0.71" stroke-width="1.6"/>
<path d="M533.0,672.4 A20.4,4.4 0 0 1 573.8,672.4" stroke-opacity="0.34" stroke-width="1.3"/>
<path d="M533.0,672.4 A20.4,4.4 0 0 0 573.8,672.4" stroke-opacity="0.72" stroke-width="1.6"/>
<path d="M533.0,678.1 A20.4,4.4 0 0 1 573.8,678.1" stroke-opacity="0.35" stroke-width="1.3"/>
<path d="M533.0,678.1 A20.4,4.4 0 0 0 573.8,678.1" stroke-opacity="0.73" stroke-width="1.6"/>
<path d="M533.0,683.8 A20.3,4.4 0 0 1 573.7,683.8" stroke-opacity="0.36" stroke-width="1.3"/>
<path d="M533.0,683.8 A20.3,4.4 0 0 0 573.7,683.8" stroke-opacity="0.74" stroke-width="1.6"/>
<path d="M533.0,689.5 A20.3,4.4 0 0 1 573.6,689.5" stroke-opacity="0.36" stroke-width="1.3"/>
<path d="M533.0,689.5 A20.3,4.4 0 0 0 573.6,689.5" stroke-opacity="0.76" stroke-width="1.6"/>
<path d="M533.0,695.2 A20.3,4.4 0 0 1 573.5,695.2" stroke-opacity="0.37" stroke-width="1.3"/>
<path d="M533.0,695.2 A20.3,4.4 0 0 0 573.5,695.2" stroke-opacity="0.77" stroke-width="1.6"/>
<path d="M533.0,700.9 A20.2,4.4 0 0 1 573.5,700.9" stroke-opacity="0.37" stroke-width="1.3"/>
<path d="M533.0,700.9 A20.2,4.4 0 0 0 573.5,700.9" stroke-opacity="0.78" stroke-width="1.6"/>
<path d="M533.0,706.6 A20.2,4.4 0 0 1 573.4,706.6" stroke-opacity="0.38" stroke-width="1.3"/>
<path d="M533.0,706.6 A20.2,4.4 0 0 0 573.4,706.6" stroke-opacity="0.80" stroke-width="1.6"/>
<path d="M533.0,712.3 A20.2,4.4 0 0 1 573.3,712.3" stroke-opacity="0.39" stroke-width="1.3"/>
<path d="M533.0,712.3 A20.2,4.4 0 0 0 573.3,712.3" stroke-opacity="0.81" stroke-width="1.6"/>
<path d="M533.0,718.0 A20.1,4.4 0 0 1 573.2,718.0" stroke-opacity="0.39" stroke-width="1.3"/>
<path d="M533.0,718.0 A20.1,4.4 0 0 0 573.2,718.0" stroke-opacity="0.82" stroke-width="1.6"/>
<path d="M533.0,723.7 A20.1,4.4 0 0 1 573.2,723.7" stroke-opacity="0.40" stroke-width="1.3"/>
<path d="M533.0,723.7 A20.1,4.4 0 0 0 573.2,723.7" stroke-opacity="0.83" stroke-width="1.6"/>
<path d="M533.0,729.4 A20.0,4.4 0 0 1 573.1,729.4" stroke-opacity="0.41" stroke-width="1.3"/>
<path d="M533.0,729.4 A20.0,4.4 0 0 0 573.1,729.4" stroke-opacity="0.85" stroke-width="1.6"/>
<path d="M533.0,735.1 A20.0,4.4 0 0 1 573.0,735.1" stroke-opacity="0.41" stroke-width="1.3"/>
<path d="M533.0,735.1 A20.0,4.4 0 0 0 573.0,735.1" stroke-opacity="0.86" stroke-width="1.6"/>
<path d="M585.1,593.1 A26.9,4.4 0 0 1 638.9,593.1" stroke-opacity="0.25" stroke-width="1.3"/>
<path d="M585.1,593.1 A26.9,4.4 0 0 0 638.9,593.1" stroke-opacity="0.52" stroke-width="1.6"/>
<path d="M585.4,598.8 A26.7,4.4 0 0 1 638.8,598.8" stroke-opacity="0.25" stroke-width="1.3"/>
<path d="M585.4,598.8 A26.7,4.4 0 0 0 638.8,598.8" stroke-opacity="0.53" stroke-width="1.6"/>
<path d="M585.6,604.5 A26.5,4.4 0 0 1 638.6,604.5" stroke-opacity="0.26" stroke-width="1.3"/>
<path d="M585.6,604.5 A26.5,4.4 0 0 0 638.6,604.5" stroke-opacity="0.55" stroke-width="1.6"/>
<path d="M585.8,610.2 A26.3,4.4 0 0 1 638.4,610.2" stroke-opacity="0.27" stroke-width="1.3"/>
<path d="M585.8,610.2 A26.3,4.4 0 0 0 638.4,610.2" stroke-opacity="0.56" stroke-width="1.6"/>
<path d="M586.1,615.9 A26.1,4.4 0 0 1 638.3,615.9" stroke-opacity="0.27" stroke-width="1.3"/>
<path d="M586.1,615.9 A26.1,4.4 0 0 0 638.3,615.9" stroke-opacity="0.57" stroke-width="1.6"/>
<path d="M586.3,621.6 A25.9,4.4 0 0 1 638.1,621.6" stroke-opacity="0.28" stroke-width="1.3"/>
<path d="M586.3,621.6 A25.9,4.4 0 0 0 638.1,621.6" stroke-opacity="0.59" stroke-width="1.6"/>
<path d="M586.5,627.3 A25.7,4.4 0 0 1 638.0,627.3" stroke-opacity="0.29" stroke-width="1.3"/>
<path d="M586.5,627.3 A25.7,4.4 0 0 0 638.0,627.3" stroke-opacity="0.60" stroke-width="1.6"/>
<path d="M586.8,633.0 A25.5,4.4 0 0 1 637.8,633.0" stroke-opacity="0.29" stroke-width="1.3"/>
<path d="M586.8,633.0 A25.5,4.4 0 0 0 637.8,633.0" stroke-opacity="0.61" stroke-width="1.6"/>
<path d="M587.0,638.7 A25.3,4.4 0 0 1 637.7,638.7" stroke-opacity="0.30" stroke-width="1.3"/>
<path d="M587.0,638.7 A25.3,4.4 0 0 0 637.7,638.7" stroke-opacity="0.63" stroke-width="1.6"/>
<path d="M587.2,644.4 A25.1,4.4 0 0 1 637.5,644.4" stroke-opacity="0.31" stroke-width="1.3"/>
<path d="M587.2,644.4 A25.1,4.4 0 0 0 637.5,644.4" stroke-opacity="0.64" stroke-width="1.6"/>
<path d="M587.5,650.1 A24.9,4.4 0 0 1 637.4,650.1" stroke-opacity="0.31" stroke-width="1.3"/>
<path d="M587.5,650.1 A24.9,4.4 0 0 0 637.4,650.1" stroke-opacity="0.65" stroke-width="1.6"/>
<path d="M587.7,655.8 A24.7,4.4 0 0 1 637.2,655.8" stroke-opacity="0.32" stroke-width="1.3"/>
<path d="M587.7,655.8 A24.7,4.4 0 0 0 637.2,655.8" stroke-opacity="0.67" stroke-width="1.6"/>
<path d="M587.9,661.5 A24.6,4.4 0 0 1 637.0,661.5" stroke-opacity="0.32" stroke-width="1.3"/>
<path d="M587.9,661.5 A24.6,4.4 0 0 0 637.0,661.5" stroke-opacity="0.68" stroke-width="1.6"/>
<path d="M588.2,667.2 A24.4,4.4 0 0 1 636.9,667.2" stroke-opacity="0.33" stroke-width="1.3"/>
<path d="M588.2,667.2 A24.4,4.4 0 0 0 636.9,667.2" stroke-opacity="0.69" stroke-width="1.6"/>
<path d="M588.4,672.9 A24.2,4.4 0 0 1 636.7,672.9" stroke-opacity="0.34" stroke-width="1.3"/>
<path d="M588.4,672.9 A24.2,4.4 0 0 0 636.7,672.9" stroke-opacity="0.71" stroke-width="1.6"/>
<path d="M588.6,678.6 A24.0,4.4 0 0 1 636.6,678.6" stroke-opacity="0.34" stroke-width="1.3"/>
<path d="M588.6,678.6 A24.0,4.4 0 0 0 636.6,678.6" stroke-opacity="0.72" stroke-width="1.6"/>
<path d="M588.9,684.3 A23.8,4.4 0 0 1 636.4,684.3" stroke-opacity="0.35" stroke-width="1.3"/>
<path d="M588.9,684.3 A23.8,4.4 0 0 0 636.4,684.3" stroke-opacity="0.73" stroke-width="1.6"/>
<path d="M589.1,690.0 A23.6,4.4 0 0 1 636.3,690.0" stroke-opacity="0.36" stroke-width="1.3"/>
<path d="M589.1,690.0 A23.6,4.4 0 0 0 636.3,690.0" stroke-opacity="0.75" stroke-width="1.6"/>
<path d="M589.3,695.7 A23.4,4.4 0 0 1 636.1,695.7" stroke-opacity="0.36" stroke-width="1.3"/>
<path d="M589.3,695.7 A23.4,4.4 0 0 0 636.1,695.7" stroke-opacity="0.76" stroke-width="1.6"/>
<path d="M589.6,701.4 A23.2,4.4 0 0 1 635.9,701.4" stroke-opacity="0.37" stroke-width="1.3"/>
<path d="M589.6,701.4 A23.2,4.4 0 0 0 635.9,701.4" stroke-opacity="0.77" stroke-width="1.6"/>
<path d="M589.8,707.1 A23.0,4.4 0 0 1 635.8,707.1" stroke-opacity="0.38" stroke-width="1.3"/>
<path d="M589.8,707.1 A23.0,4.4 0 0 0 635.8,707.1" stroke-opacity="0.79" stroke-width="1.6"/>
<path d="M590.0,712.8 A22.8,4.4 0 0 1 635.6,712.8" stroke-opacity="0.38" stroke-width="1.3"/>
<path d="M590.0,712.8 A22.8,4.4 0 0 0 635.6,712.8" stroke-opacity="0.80" stroke-width="1.6"/>
<path d="M590.3,718.5 A22.6,4.4 0 0 1 635.5,718.5" stroke-opacity="0.39" stroke-width="1.3"/>
<path d="M590.3,718.5 A22.6,4.4 0 0 0 635.5,718.5" stroke-opacity="0.81" stroke-width="1.6"/>
<path d="M590.5,724.2 A22.4,4.4 0 0 1 635.3,724.2" stroke-opacity="0.39" stroke-width="1.3"/>
<path d="M590.5,724.2 A22.4,4.4 0 0 0 635.3,724.2" stroke-opacity="0.83" stroke-width="1.6"/>
<path d="M590.7,729.9 A22.2,4.4 0 0 1 635.2,729.9" stroke-opacity="0.40" stroke-width="1.3"/>
<path d="M590.7,729.9 A22.2,4.4 0 0 0 635.2,729.9" stroke-opacity="0.84" stroke-width="1.6"/>
<path d="M591.0,735.6 A22.0,4.4 0 0 1 635.0,735.6" stroke-opacity="0.41" stroke-width="1.3"/>
<path d="M591.0,735.6 A22.0,4.4 0 0 0 635.0,735.6" stroke-opacity="0.85" stroke-width="1.6"/>
<path d="M642.3,598.6 A26.8,4.4 0 0 1 696.0,598.6" stroke-opacity="0.24" stroke-width="1.3"/>
<path d="M642.3,598.6 A26.8,4.4 0 0 0 696.0,598.6" stroke-opacity="0.49" stroke-width="1.6"/>
<path d="M642.9,604.3 A26.5,4.4 0 0 1 695.9,604.3" stroke-opacity="0.24" stroke-width="1.3"/>
<path d="M642.9,604.3 A26.5,4.4 0 0 0 695.9,604.3" stroke-opacity="0.51" stroke-width="1.6"/>
<path d="M643.4,610.0 A26.2,4.4 0 0 1 695.8,610.0" stroke-opacity="0.25" stroke-width="1.3"/>
<path d="M643.4,610.0 A26.2,4.4 0 0 0 695.8,610.0" stroke-opacity="0.52" stroke-width="1.6"/>
<path d="M644.0,615.7 A25.9,4.4 0 0 1 695.7,615.7" stroke-opacity="0.25" stroke-width="1.3"/>
<path d="M644.0,615.7 A25.9,4.4 0 0 0 695.7,615.7" stroke-opacity="0.53" stroke-width="1.6"/>
<path d="M644.6,621.4 A25.5,4.4 0 0 1 695.6,621.4" stroke-opacity="0.26" stroke-width="1.3"/>
<path d="M644.6,621.4 A25.5,4.4 0 0 0 695.6,621.4" stroke-opacity="0.54" stroke-width="1.6"/>
<path d="M645.1,627.1 A25.2,4.4 0 0 1 695.6,627.1" stroke-opacity="0.27" stroke-width="1.3"/>
<path d="M645.1,627.1 A25.2,4.4 0 0 0 695.6,627.1" stroke-opacity="0.56" stroke-width="1.6"/>
<path d="M645.7,632.8 A24.9,4.4 0 0 1 695.5,632.8" stroke-opacity="0.27" stroke-width="1.3"/>
<path d="M645.7,632.8 A24.9,4.4 0 0 0 695.5,632.8" stroke-opacity="0.57" stroke-width="1.6"/>
<path d="M646.3,638.5 A24.6,4.4 0 0 1 695.4,638.5" stroke-opacity="0.28" stroke-width="1.3"/>
<path d="M646.3,638.5 A24.6,4.4 0 0 0 695.4,638.5" stroke-opacity="0.58" stroke-width="1.6"/>
<path d="M646.8,644.2 A24.2,4.4 0 0 1 695.3,644.2" stroke-opacity="0.29" stroke-width="1.3"/>
<path d="M646.8,644.2 A24.2,4.4 0 0 0 695.3,644.2" stroke-opacity="0.60" stroke-width="1.6"/>
<path d="M647.4,649.9 A23.9,4.4 0 0 1 695.2,649.9" stroke-opacity="0.29" stroke-width="1.3"/>
<path d="M647.4,649.9 A23.9,4.4 0 0 0 695.2,649.9" stroke-opacity="0.61" stroke-width="1.6"/>
<path d="M648.0,655.6 A23.6,4.4 0 0 1 695.1,655.6" stroke-opacity="0.30" stroke-width="1.3"/>
<path d="M648.0,655.6 A23.6,4.4 0 0 0 695.1,655.6" stroke-opacity="0.62" stroke-width="1.6"/>
<path d="M648.6,661.3 A23.3,4.4 0 0 1 695.1,661.3" stroke-opacity="0.30" stroke-width="1.3"/>
<path d="M648.6,661.3 A23.3,4.4 0 0 0 695.1,661.3" stroke-opacity="0.64" stroke-width="1.6"/>
<path d="M649.1,667.0 A22.9,4.4 0 0 1 695.0,667.0" stroke-opacity="0.31" stroke-width="1.3"/>
<path d="M649.1,667.0 A22.9,4.4 0 0 0 695.0,667.0" stroke-opacity="0.65" stroke-width="1.6"/>
<path d="M649.7,672.7 A22.6,4.4 0 0 1 694.9,672.7" stroke-opacity="0.32" stroke-width="1.3"/>
<path d="M649.7,672.7 A22.6,4.4 0 0 0 694.9,672.7" stroke-opacity="0.66" stroke-width="1.6"/>
<path d="M650.3,678.4 A22.3,4.4 0 0 1 694.8,678.4" stroke-opacity="0.32" stroke-width="1.3"/>
<path d="M650.3,678.4 A22.3,4.4 0 0 0 694.8,678.4" stroke-opacity="0.68" stroke-width="1.6"/>
<path d="M650.8,684.1 A22.0,4.4 0 0 1 694.7,684.1" stroke-opacity="0.33" stroke-width="1.3"/>
<path d="M650.8,684.1 A22.0,4.4 0 0 0 694.7,684.1" stroke-opacity="0.69" stroke-width="1.6"/>
<path d="M651.4,689.8 A21.6,4.4 0 0 1 694.7,689.8" stroke-opacity="0.34" stroke-width="1.3"/>
<path d="M651.4,689.8 A21.6,4.4 0 0 0 694.7,689.8" stroke-opacity="0.70" stroke-width="1.6"/>
<path d="M652.0,695.5 A21.3,4.4 0 0 1 694.6,695.5" stroke-opacity="0.34" stroke-width="1.3"/>
<path d="M652.0,695.5 A21.3,4.4 0 0 0 694.6,695.5" stroke-opacity="0.72" stroke-width="1.6"/>
<path d="M652.5,701.2 A21.0,4.4 0 0 1 694.5,701.2" stroke-opacity="0.35" stroke-width="1.3"/>
<path d="M652.5,701.2 A21.0,4.4 0 0 0 694.5,701.2" stroke-opacity="0.73" stroke-width="1.6"/>
<path d="M653.1,706.9 A20.7,4.4 0 0 1 694.4,706.9" stroke-opacity="0.35" stroke-width="1.3"/>
<path d="M653.1,706.9 A20.7,4.4 0 0 0 694.4,706.9" stroke-opacity="0.74" stroke-width="1.6"/>
<path d="M653.7,712.6 A20.3,4.4 0 0 1 694.3,712.6" stroke-opacity="0.36" stroke-width="1.3"/>
<path d="M653.7,712.6 A20.3,4.4 0 0 0 694.3,712.6" stroke-opacity="0.75" stroke-width="1.6"/>
<path d="M654.2,718.3 A20.0,4.4 0 0 1 694.3,718.3" stroke-opacity="0.37" stroke-width="1.3"/>
<path d="M654.2,718.3 A20.0,4.4 0 0 0 694.3,718.3" stroke-opacity="0.77" stroke-width="1.6"/>
<path d="M654.8,724.0 A19.7,4.4 0 0 1 694.2,724.0" stroke-opacity="0.37" stroke-width="1.3"/>
<path d="M654.8,724.0 A19.7,4.4 0 0 0 694.2,724.0" stroke-opacity="0.78" stroke-width="1.6"/>
<path d="M655.4,729.7 A19.4,4.4 0 0 1 694.1,729.7" stroke-opacity="0.38" stroke-width="1.3"/>
<path d="M655.4,729.7 A19.4,4.4 0 0 0 694.1,729.7" stroke-opacity="0.79" stroke-width="1.6"/>
<path d="M655.9,735.4 A19.0,4.4 0 0 1 694.0,735.4" stroke-opacity="0.39" stroke-width="1.3"/>
<path d="M655.9,735.4 A19.0,4.4 0 0 0 694.0,735.4" stroke-opacity="0.81" stroke-width="1.6"/>
<path d="M698.4,603.7 A28.8,4.4 0 0 1 756.0,603.7" stroke-opacity="0.22" stroke-width="1.3"/>
<path d="M698.4,603.7 A28.8,4.4 0 0 0 756.0,603.7" stroke-opacity="0.46" stroke-width="1.6"/>
<path d="M699.2,609.4 A28.4,4.4 0 0 1 755.9,609.4" stroke-opacity="0.23" stroke-width="1.3"/>
<path d="M699.2,609.4 A28.4,4.4 0 0 0 755.9,609.4" stroke-opacity="0.48" stroke-width="1.6"/>
<path d="M700.0,615.1 A27.9,4.4 0 0 1 755.9,615.1" stroke-opacity="0.23" stroke-width="1.3"/>
<path d="M700.0,615.1 A27.9,4.4 0 0 0 755.9,615.1" stroke-opacity="0.49" stroke-width="1.6"/>
<path d="M700.8,620.8 A27.5,4.4 0 0 1 755.9,620.8" stroke-opacity="0.24" stroke-width="1.3"/>
<path d="M700.8,620.8 A27.5,4.4 0 0 0 755.9,620.8" stroke-opacity="0.50" stroke-width="1.6"/>
<path d="M701.6,626.5 A27.1,4.4 0 0 1 755.8,626.5" stroke-opacity="0.25" stroke-width="1.3"/>
<path d="M701.6,626.5 A27.1,4.4 0 0 0 755.8,626.5" stroke-opacity="0.52" stroke-width="1.6"/>
<path d="M702.4,632.2 A26.7,4.4 0 0 1 755.8,632.2" stroke-opacity="0.25" stroke-width="1.3"/>
<path d="M702.4,632.2 A26.7,4.4 0 0 0 755.8,632.2" stroke-opacity="0.53" stroke-width="1.6"/>
<path d="M703.2,637.9 A26.3,4.4 0 0 1 755.7,637.9" stroke-opacity="0.26" stroke-width="1.3"/>
<path d="M703.2,637.9 A26.3,4.4 0 0 0 755.7,637.9" stroke-opacity="0.54" stroke-width="1.6"/>
<path d="M704.0,643.6 A25.8,4.4 0 0 1 755.7,643.6" stroke-opacity="0.27" stroke-width="1.3"/>
<path d="M704.0,643.6 A25.8,4.4 0 0 0 755.7,643.6" stroke-opacity="0.55" stroke-width="1.6"/>
<path d="M704.8,649.3 A25.4,4.4 0 0 1 755.6,649.3" stroke-opacity="0.27" stroke-width="1.3"/>
<path d="M704.8,649.3 A25.4,4.4 0 0 0 755.6,649.3" stroke-opacity="0.57" stroke-width="1.6"/>
<path d="M705.6,655.0 A25.0,4.4 0 0 1 755.6,655.0" stroke-opacity="0.28" stroke-width="1.3"/>
<path d="M705.6,655.0 A25.0,4.4 0 0 0 755.6,655.0" stroke-opacity="0.58" stroke-width="1.6"/>
<path d="M706.4,660.7 A24.6,4.4 0 0 1 755.6,660.7" stroke-opacity="0.28" stroke-width="1.3"/>
<path d="M706.4,660.7 A24.6,4.4 0 0 0 755.6,660.7" stroke-opacity="0.59" stroke-width="1.6"/>
<path d="M707.2,666.4 A24.1,4.4 0 0 1 755.5,666.4" stroke-opacity="0.29" stroke-width="1.3"/>
<path d="M707.2,666.4 A24.1,4.4 0 0 0 755.5,666.4" stroke-opacity="0.61" stroke-width="1.6"/>
<path d="M708.0,672.1 A23.7,4.4 0 0 1 755.5,672.1" stroke-opacity="0.30" stroke-width="1.3"/>
<path d="M708.0,672.1 A23.7,4.4 0 0 0 755.5,672.1" stroke-opacity="0.62" stroke-width="1.6"/>
<path d="M708.8,677.8 A23.3,4.4 0 0 1 755.4,677.8" stroke-opacity="0.30" stroke-width="1.3"/>
<path d="M708.8,677.8 A23.3,4.4 0 0 0 755.4,677.8" stroke-opacity="0.63" stroke-width="1.6"/>
<path d="M709.6,683.5 A22.9,4.4 0 0 1 755.4,683.5" stroke-opacity="0.31" stroke-width="1.3"/>
<path d="M709.6,683.5 A22.9,4.4 0 0 0 755.4,683.5" stroke-opacity="0.64" stroke-width="1.6"/>
<path d="M710.4,689.2 A22.5,4.4 0 0 1 755.3,689.2" stroke-opacity="0.31" stroke-width="1.3"/>
<path d="M710.4,689.2 A22.5,4.4 0 0 0 755.3,689.2" stroke-opacity="0.66" stroke-width="1.6"/>
<path d="M711.2,694.9 A22.0,4.4 0 0 1 755.3,694.9" stroke-opacity="0.32" stroke-width="1.3"/>
<path d="M711.2,694.9 A22.0,4.4 0 0 0 755.3,694.9" stroke-opacity="0.67" stroke-width="1.6"/>
<path d="M712.0,700.6 A21.6,4.4 0 0 1 755.3,700.6" stroke-opacity="0.33" stroke-width="1.3"/>
<path d="M712.0,700.6 A21.6,4.4 0 0 0 755.3,700.6" stroke-opacity="0.68" stroke-width="1.6"/>
<path d="M712.8,706.3 A21.2,4.4 0 0 1 755.2,706.3" stroke-opacity="0.33" stroke-width="1.3"/>
<path d="M712.8,706.3 A21.2,4.4 0 0 0 755.2,706.3" stroke-opacity="0.70" stroke-width="1.6"/>
<path d="M713.6,712.0 A20.8,4.4 0 0 1 755.2,712.0" stroke-opacity="0.34" stroke-width="1.3"/>
<path d="M713.6,712.0 A20.8,4.4 0 0 0 755.2,712.0" stroke-opacity="0.71" stroke-width="1.6"/>
<path d="M714.4,717.7 A20.4,4.4 0 0 1 755.1,717.7" stroke-opacity="0.35" stroke-width="1.3"/>
<path d="M714.4,717.7 A20.4,4.4 0 0 0 755.1,717.7" stroke-opacity="0.72" stroke-width="1.6"/>
<path d="M715.2,723.4 A19.9,4.4 0 0 1 755.1,723.4" stroke-opacity="0.35" stroke-width="1.3"/>
<path d="M715.2,723.4 A19.9,4.4 0 0 0 755.1,723.4" stroke-opacity="0.73" stroke-width="1.6"/>
<path d="M716.0,729.1 A19.5,4.4 0 0 1 755.1,729.1" stroke-opacity="0.36" stroke-width="1.3"/>
<path d="M716.0,729.1 A19.5,4.4 0 0 0 755.1,729.1" stroke-opacity="0.75" stroke-width="1.6"/>
<path d="M716.8,734.8 A19.1,4.4 0 0 1 755.0,734.8" stroke-opacity="0.36" stroke-width="1.3"/>
<path d="M716.8,734.8 A19.1,4.4 0 0 0 755.0,734.8" stroke-opacity="0.76" stroke-width="1.6"/>
<path d="M757.5,608.4 A29.7,4.4 0 0 1 817.0,608.4" stroke-opacity="0.21" stroke-width="1.3"/>
<path d="M757.5,608.4 A29.7,4.4 0 0 0 817.0,608.4" stroke-opacity="0.44" stroke-width="1.6"/>
<path d="M758.5,614.1 A29.2,4.4 0 0 1 816.9,614.1" stroke-opacity="0.21" stroke-width="1.3"/>
<path d="M758.5,614.1 A29.2,4.4 0 0 0 816.9,614.1" stroke-opacity="0.45" stroke-width="1.6"/>
<path d="M759.4,619.8 A28.7,4.4 0 0 1 816.9,619.8" stroke-opacity="0.22" stroke-width="1.3"/>
<path d="M759.4,619.8 A28.7,4.4 0 0 0 816.9,619.8" stroke-opacity="0.46" stroke-width="1.6"/>
<path d="M760.4,625.5 A28.2,4.4 0 0 1 816.8,625.5" stroke-opacity="0.23" stroke-width="1.3"/>
<path d="M760.4,625.5 A28.2,4.4 0 0 0 816.8,625.5" stroke-opacity="0.47" stroke-width="1.6"/>
<path d="M761.3,631.2 A27.7,4.4 0 0 1 816.8,631.2" stroke-opacity="0.23" stroke-width="1.3"/>
<path d="M761.3,631.2 A27.7,4.4 0 0 0 816.8,631.2" stroke-opacity="0.49" stroke-width="1.6"/>
<path d="M762.3,636.9 A27.2,4.4 0 0 1 816.8,636.9" stroke-opacity="0.24" stroke-width="1.3"/>
<path d="M762.3,636.9 A27.2,4.4 0 0 0 816.8,636.9" stroke-opacity="0.50" stroke-width="1.6"/>
<path d="M763.3,642.6 A26.7,4.4 0 0 1 816.7,642.6" stroke-opacity="0.24" stroke-width="1.3"/>
<path d="M763.3,642.6 A26.7,4.4 0 0 0 816.7,642.6" stroke-opacity="0.51" stroke-width="1.6"/>
<path d="M764.2,648.3 A26.2,4.4 0 0 1 816.7,648.3" stroke-opacity="0.25" stroke-width="1.3"/>
<path d="M764.2,648.3 A26.2,4.4 0 0 0 816.7,648.3" stroke-opacity="0.52" stroke-width="1.6"/>
<path d="M765.2,654.0 A25.7,4.4 0 0 1 816.6,654.0" stroke-opacity="0.26" stroke-width="1.3"/>
<path d="M765.2,654.0 A25.7,4.4 0 0 0 816.6,654.0" stroke-opacity="0.54" stroke-width="1.6"/>
<path d="M766.1,659.7 A25.2,4.4 0 0 1 816.6,659.7" stroke-opacity="0.26" stroke-width="1.3"/>
<path d="M766.1,659.7 A25.2,4.4 0 0 0 816.6,659.7" stroke-opacity="0.55" stroke-width="1.6"/>
<path d="M767.1,665.4 A24.7,4.4 0 0 1 816.5,665.4" stroke-opacity="0.27" stroke-width="1.3"/>
<path d="M767.1,665.4 A24.7,4.4 0 0 0 816.5,665.4" stroke-opacity="0.56" stroke-width="1.6"/>
<path d="M768.1,671.1 A24.2,4.4 0 0 1 816.5,671.1" stroke-opacity="0.27" stroke-width="1.3"/>
<path d="M768.1,671.1 A24.2,4.4 0 0 0 816.5,671.1" stroke-opacity="0.57" stroke-width="1.6"/>
<path d="M769.0,676.8 A23.7,4.4 0 0 1 816.5,676.8" stroke-opacity="0.28" stroke-width="1.3"/>
<path d="M769.0,676.8 A23.7,4.4 0 0 0 816.5,676.8" stroke-opacity="0.59" stroke-width="1.6"/>
<path d="M770.0,682.5 A23.2,4.4 0 0 1 816.4,682.5" stroke-opacity="0.29" stroke-width="1.3"/>
<path d="M770.0,682.5 A23.2,4.4 0 0 0 816.4,682.5" stroke-opacity="0.60" stroke-width="1.6"/>
<path d="M770.9,688.2 A22.7,4.4 0 0 1 816.4,688.2" stroke-opacity="0.29" stroke-width="1.3"/>
<path d="M770.9,688.2 A22.7,4.4 0 0 0 816.4,688.2" stroke-opacity="0.61" stroke-width="1.6"/>
<path d="M771.9,693.9 A22.2,4.4 0 0 1 816.3,693.9" stroke-opacity="0.30" stroke-width="1.3"/>
<path d="M771.9,693.9 A22.2,4.4 0 0 0 816.3,693.9" stroke-opacity="0.62" stroke-width="1.6"/>
<path d="M772.9,699.6 A21.7,4.4 0 0 1 816.3,699.6" stroke-opacity="0.30" stroke-width="1.3"/>
<path d="M772.9,699.6 A21.7,4.4 0 0 0 816.3,699.6" stroke-opacity="0.64" stroke-width="1.6"/>
<path d="M773.8,705.3 A21.2,4.4 0 0 1 816.2,705.3" stroke-opacity="0.31" stroke-width="1.3"/>
<path d="M773.8,705.3 A21.2,4.4 0 0 0 816.2,705.3" stroke-opacity="0.65" stroke-width="1.6"/>
<path d="M774.8,711.0 A20.7,4.4 0 0 1 816.2,711.0" stroke-opacity="0.32" stroke-width="1.3"/>
<path d="M774.8,711.0 A20.7,4.4 0 0 0 816.2,711.0" stroke-opacity="0.66" stroke-width="1.6"/>
<path d="M775.8,716.7 A20.2,4.4 0 0 1 816.1,716.7" stroke-opacity="0.32" stroke-width="1.3"/>
<path d="M775.8,716.7 A20.2,4.4 0 0 0 816.1,716.7" stroke-opacity="0.67" stroke-width="1.6"/>
<path d="M776.7,722.4 A19.7,4.4 0 0 1 816.1,722.4" stroke-opacity="0.33" stroke-width="1.3"/>
<path d="M776.7,722.4 A19.7,4.4 0 0 0 816.1,722.4" stroke-opacity="0.69" stroke-width="1.6"/>
<path d="M777.7,728.1 A19.2,4.4 0 0 1 816.1,728.1" stroke-opacity="0.33" stroke-width="1.3"/>
<path d="M777.7,728.1 A19.2,4.4 0 0 0 816.1,728.1" stroke-opacity="0.70" stroke-width="1.6"/>
<path d="M778.6,733.8 A18.7,4.4 0 0 1 816.0,733.8" stroke-opacity="0.34" stroke-width="1.3"/>
<path d="M778.6,733.8 A18.7,4.4 0 0 0 816.0,733.8" stroke-opacity="0.71" stroke-width="1.6"/>
<path d="M819.5,612.7 A29.8,4.4 0 0 1 879.0,612.7" stroke-opacity="0.19" stroke-width="1.3"/>
<path d="M819.5,612.7 A29.8,4.4 0 0 0 879.0,612.7" stroke-opacity="0.41" stroke-width="1.6"/>
<path d="M820.3,618.4 A29.3,4.4 0 0 1 878.9,618.4" stroke-opacity="0.20" stroke-width="1.3"/>
<path d="M820.3,618.4 A29.3,4.4 0 0 0 878.9,618.4" stroke-opacity="0.42" stroke-width="1.6"/>
<path d="M821.2,624.1 A28.8,4.4 0 0 1 878.8,624.1" stroke-opacity="0.21" stroke-width="1.3"/>
<path d="M821.2,624.1 A28.8,4.4 0 0 0 878.8,624.1" stroke-opacity="0.43" stroke-width="1.6"/>
<path d="M822.0,629.8 A28.3,4.4 0 0 1 878.7,629.8" stroke-opacity="0.21" stroke-width="1.3"/>
<path d="M822.0,629.8 A28.3,4.4 0 0 0 878.7,629.8" stroke-opacity="0.44" stroke-width="1.6"/>
<path d="M822.9,635.5 A27.9,4.4 0 0 1 878.6,635.5" stroke-opacity="0.22" stroke-width="1.3"/>
<path d="M822.9,635.5 A27.9,4.4 0 0 0 878.6,635.5" stroke-opacity="0.45" stroke-width="1.6"/>
<path d="M823.7,641.2 A27.4,4.4 0 0 1 878.5,641.2" stroke-opacity="0.22" stroke-width="1.3"/>
<path d="M823.7,641.2 A27.4,4.4 0 0 0 878.5,641.2" stroke-opacity="0.47" stroke-width="1.6"/>
<path d="M824.6,646.9 A26.9,4.4 0 0 1 878.4,646.9" stroke-opacity="0.23" stroke-width="1.3"/>
<path d="M824.6,646.9 A26.9,4.4 0 0 0 878.4,646.9" stroke-opacity="0.48" stroke-width="1.6"/>
<path d="M825.5,652.6 A26.4,4.4 0 0 1 878.3,652.6" stroke-opacity="0.23" stroke-width="1.3"/>
<path d="M825.5,652.6 A26.4,4.4 0 0 0 878.3,652.6" stroke-opacity="0.49" stroke-width="1.6"/>
<path d="M826.3,658.3 A26.0,4.4 0 0 1 878.2,658.3" stroke-opacity="0.24" stroke-width="1.3"/>
<path d="M826.3,658.3 A26.0,4.4 0 0 0 878.2,658.3" stroke-opacity="0.50" stroke-width="1.6"/>
<path d="M827.2,664.0 A25.5,4.4 0 0 1 878.1,664.0" stroke-opacity="0.25" stroke-width="1.3"/>
<path d="M827.2,664.0 A25.5,4.4 0 0 0 878.1,664.0" stroke-opacity="0.52" stroke-width="1.6"/>
<path d="M828.0,669.7 A25.0,4.4 0 0 1 878.1,669.7" stroke-opacity="0.25" stroke-width="1.3"/>
<path d="M828.0,669.7 A25.0,4.4 0 0 0 878.1,669.7" stroke-opacity="0.53" stroke-width="1.6"/>
<path d="M828.9,675.4 A24.5,4.4 0 0 1 878.0,675.4" stroke-opacity="0.26" stroke-width="1.3"/>
<path d="M828.9,675.4 A24.5,4.4 0 0 0 878.0,675.4" stroke-opacity="0.54" stroke-width="1.6"/>
<path d="M829.7,681.1 A24.1,4.4 0 0 1 877.9,681.1" stroke-opacity="0.26" stroke-width="1.3"/>
<path d="M829.7,681.1 A24.1,4.4 0 0 0 877.9,681.1" stroke-opacity="0.55" stroke-width="1.6"/>
<path d="M830.6,686.8 A23.6,4.4 0 0 1 877.8,686.8" stroke-opacity="0.27" stroke-width="1.3"/>
<path d="M830.6,686.8 A23.6,4.4 0 0 0 877.8,686.8" stroke-opacity="0.56" stroke-width="1.6"/>
<path d="M831.5,692.5 A23.1,4.4 0 0 1 877.7,692.5" stroke-opacity="0.28" stroke-width="1.3"/>
<path d="M831.5,692.5 A23.1,4.4 0 0 0 877.7,692.5" stroke-opacity="0.58" stroke-width="1.6"/>
<path d="M832.3,698.2 A22.6,4.4 0 0 1 877.6,698.2" stroke-opacity="0.28" stroke-width="1.3"/>
<path d="M832.3,698.2 A22.6,4.4 0 0 0 877.6,698.2" stroke-opacity="0.59" stroke-width="1.6"/>
<path d="M833.2,703.9 A22.2,4.4 0 0 1 877.5,703.9" stroke-opacity="0.29" stroke-width="1.3"/>
<path d="M833.2,703.9 A22.2,4.4 0 0 0 877.5,703.9" stroke-opacity="0.60" stroke-width="1.6"/>
<path d="M834.0,709.6 A21.7,4.4 0 0 1 877.4,709.6" stroke-opacity="0.29" stroke-width="1.3"/>
<path d="M834.0,709.6 A21.7,4.4 0 0 0 877.4,709.6" stroke-opacity="0.61" stroke-width="1.6"/>
<path d="M834.9,715.3 A21.2,4.4 0 0 1 877.3,715.3" stroke-opacity="0.30" stroke-width="1.3"/>
<path d="M834.9,715.3 A21.2,4.4 0 0 0 877.3,715.3" stroke-opacity="0.62" stroke-width="1.6"/>
<path d="M835.7,721.0 A20.8,4.4 0 0 1 877.2,721.0" stroke-opacity="0.30" stroke-width="1.3"/>
<path d="M835.7,721.0 A20.8,4.4 0 0 0 877.2,721.0" stroke-opacity="0.64" stroke-width="1.6"/>
<path d="M836.6,726.7 A20.3,4.4 0 0 1 877.1,726.7" stroke-opacity="0.31" stroke-width="1.3"/>
<path d="M836.6,726.7 A20.3,4.4 0 0 0 877.1,726.7" stroke-opacity="0.65" stroke-width="1.6"/>
<path d="M837.5,732.4 A19.8,4.4 0 0 1 877.1,732.4" stroke-opacity="0.32" stroke-width="1.3"/>
<path d="M837.5,732.4 A19.8,4.4 0 0 0 877.1,732.4" stroke-opacity="0.66" stroke-width="1.6"/>
<path d="M881.4,616.2 A28.8,4.4 0 0 1 938.9,616.2" stroke-opacity="0.18" stroke-width="1.3"/>
<path d="M881.4,616.2 A28.8,4.4 0 0 0 938.9,616.2" stroke-opacity="0.38" stroke-width="1.6"/>
<path d="M882.1,621.9 A28.3,4.4 0 0 1 938.8,621.9" stroke-opacity="0.19" stroke-width="1.3"/>
<path d="M882.1,621.9 A28.3,4.4 0 0 0 938.8,621.9" stroke-opacity="0.39" stroke-width="1.6"/>
<path d="M882.9,627.6 A27.9,4.4 0 0 1 938.6,627.6" stroke-opacity="0.19" stroke-width="1.3"/>
<path d="M882.9,627.6 A27.9,4.4 0 0 0 938.6,627.6" stroke-opacity="0.40" stroke-width="1.6"/>
<path d="M883.6,633.3 A27.4,4.4 0 0 1 938.5,633.3" stroke-opacity="0.20" stroke-width="1.3"/>
<path d="M883.6,633.3 A27.4,4.4 0 0 0 938.5,633.3" stroke-opacity="0.41" stroke-width="1.6"/>
<path d="M884.4,639.0 A27.0,4.4 0 0 1 938.4,639.0" stroke-opacity="0.20" stroke-width="1.3"/>
<path d="M884.4,639.0 A27.0,4.4 0 0 0 938.4,639.0" stroke-opacity="0.42" stroke-width="1.6"/>
<path d="M885.1,644.7 A26.6,4.4 0 0 1 938.2,644.7" stroke-opacity="0.21" stroke-width="1.3"/>
<path d="M885.1,644.7 A26.6,4.4 0 0 0 938.2,644.7" stroke-opacity="0.44" stroke-width="1.6"/>
<path d="M885.8,650.4 A26.1,4.4 0 0 1 938.1,650.4" stroke-opacity="0.21" stroke-width="1.3"/>
<path d="M885.8,650.4 A26.1,4.4 0 0 0 938.1,650.4" stroke-opacity="0.45" stroke-width="1.6"/>
<path d="M886.6,656.1 A25.7,4.4 0 0 1 938.0,656.1" stroke-opacity="0.22" stroke-width="1.3"/>
<path d="M886.6,656.1 A25.7,4.4 0 0 0 938.0,656.1" stroke-opacity="0.46" stroke-width="1.6"/>
<path d="M887.3,661.8 A25.2,4.4 0 0 1 937.8,661.8" stroke-opacity="0.22" stroke-width="1.3"/>
<path d="M887.3,661.8 A25.2,4.4 0 0 0 937.8,661.8" stroke-opacity="0.47" stroke-width="1.6"/>
<path d="M888.1,667.5 A24.8,4.4 0 0 1 937.7,667.5" stroke-opacity="0.23" stroke-width="1.3"/>
<path d="M888.1,667.5 A24.8,4.4 0 0 0 937.7,667.5" stroke-opacity="0.48" stroke-width="1.6"/>
<path d="M888.8,673.2 A24.4,4.4 0 0 1 937.5,673.2" stroke-opacity="0.24" stroke-width="1.3"/>
<path d="M888.8,673.2 A24.4,4.4 0 0 0 937.5,673.2" stroke-opacity="0.49" stroke-width="1.6"/>
<path d="M889.6,678.9 A23.9,4.4 0 0 1 937.4,678.9" stroke-opacity="0.24" stroke-width="1.3"/>
<path d="M889.6,678.9 A23.9,4.4 0 0 0 937.4,678.9" stroke-opacity="0.50" stroke-width="1.6"/>
<path d="M890.3,684.6 A23.5,4.4 0 0 1 937.3,684.6" stroke-opacity="0.25" stroke-width="1.3"/>
<path d="M890.3,684.6 A23.5,4.4 0 0 0 937.3,684.6" stroke-opacity="0.52" stroke-width="1.6"/>
<path d="M891.0,690.3 A23.0,4.4 0 0 1 937.1,690.3" stroke-opacity="0.25" stroke-width="1.3"/>
<path d="M891.0,690.3 A23.0,4.4 0 0 0 937.1,690.3" stroke-opacity="0.53" stroke-width="1.6"/>
<path d="M891.8,696.0 A22.6,4.4 0 0 1 937.0,696.0" stroke-opacity="0.26" stroke-width="1.3"/>
<path d="M891.8,696.0 A22.6,4.4 0 0 0 937.0,696.0" stroke-opacity="0.54" stroke-width="1.6"/>
<path d="M892.5,701.7 A22.2,4.4 0 0 1 936.8,701.7" stroke-opacity="0.26" stroke-width="1.3"/>
<path d="M892.5,701.7 A22.2,4.4 0 0 0 936.8,701.7" stroke-opacity="0.55" stroke-width="1.6"/>
<path d="M893.3,707.4 A21.7,4.4 0 0 1 936.7,707.4" stroke-opacity="0.27" stroke-width="1.3"/>
<path d="M893.3,707.4 A21.7,4.4 0 0 0 936.7,707.4" stroke-opacity="0.56" stroke-width="1.6"/>
<path d="M894.0,713.1 A21.3,4.4 0 0 1 936.6,713.1" stroke-opacity="0.27" stroke-width="1.3"/>
<path d="M894.0,713.1 A21.3,4.4 0 0 0 936.6,713.1" stroke-opacity="0.57" stroke-width="1.6"/>
<path d="M894.8,718.8 A20.8,4.4 0 0 1 936.4,718.8" stroke-opacity="0.28" stroke-width="1.3"/>
<path d="M894.8,718.8 A20.8,4.4 0 0 0 936.4,718.8" stroke-opacity="0.58" stroke-width="1.6"/>
<path d="M895.5,724.5 A20.4,4.4 0 0 1 936.3,724.5" stroke-opacity="0.29" stroke-width="1.3"/>
<path d="M895.5,724.5 A20.4,4.4 0 0 0 936.3,724.5" stroke-opacity="0.60" stroke-width="1.6"/>
<path d="M896.2,730.2 A19.9,4.4 0 0 1 936.1,730.2" stroke-opacity="0.29" stroke-width="1.3"/>
<path d="M896.2,730.2 A19.9,4.4 0 0 0 936.1,730.2" stroke-opacity="0.61" stroke-width="1.6"/>
<path d="M897.0,735.9 A19.5,4.4 0 0 1 936.0,735.9" stroke-opacity="0.30" stroke-width="1.3"/>
<path d="M897.0,735.9 A19.5,4.4 0 0 0 936.0,735.9" stroke-opacity="0.62" stroke-width="1.6"/>
<path d="M941.4,619.0 A28.8,4.4 0 0 1 998.9,619.0" stroke-opacity="0.17" stroke-width="1.3"/>
<path d="M941.4,619.0 A28.8,4.4 0 0 0 998.9,619.0" stroke-opacity="0.35" stroke-width="1.6"/>
<path d="M942.2,624.7 A28.3,4.4 0 0 1 998.9,624.7" stroke-opacity="0.17" stroke-width="1.3"/>
<path d="M942.2,624.7 A28.3,4.4 0 0 0 998.9,624.7" stroke-opacity="0.36" stroke-width="1.6"/>
<path d="M943.0,630.4 A27.9,4.4 0 0 1 998.8,630.4" stroke-opacity="0.18" stroke-width="1.3"/>
<path d="M943.0,630.4 A27.9,4.4 0 0 0 998.8,630.4" stroke-opacity="0.37" stroke-width="1.6"/>
<path d="M943.8,636.1 A27.4,4.4 0 0 1 998.7,636.1" stroke-opacity="0.18" stroke-width="1.3"/>
<path d="M943.8,636.1 A27.4,4.4 0 0 0 998.7,636.1" stroke-opacity="0.38" stroke-width="1.6"/>
<path d="M944.7,641.8 A27.0,4.4 0 0 1 998.6,641.8" stroke-opacity="0.19" stroke-width="1.3"/>
<path d="M944.7,641.8 A27.0,4.4 0 0 0 998.6,641.8" stroke-opacity="0.39" stroke-width="1.6"/>
<path d="M945.5,647.5 A26.5,4.4 0 0 1 998.5,647.5" stroke-opacity="0.19" stroke-width="1.3"/>
<path d="M945.5,647.5 A26.5,4.4 0 0 0 998.5,647.5" stroke-opacity="0.40" stroke-width="1.6"/>
<path d="M946.3,653.2 A26.1,4.4 0 0 1 998.4,653.2" stroke-opacity="0.20" stroke-width="1.3"/>
<path d="M946.3,653.2 A26.1,4.4 0 0 0 998.4,653.2" stroke-opacity="0.41" stroke-width="1.6"/>
<path d="M947.1,658.9 A25.6,4.4 0 0 1 998.3,658.9" stroke-opacity="0.20" stroke-width="1.3"/>
<path d="M947.1,658.9 A25.6,4.4 0 0 0 998.3,658.9" stroke-opacity="0.43" stroke-width="1.6"/>
<path d="M947.9,664.6 A25.2,4.4 0 0 1 998.2,664.6" stroke-opacity="0.21" stroke-width="1.3"/>
<path d="M947.9,664.6 A25.2,4.4 0 0 0 998.2,664.6" stroke-opacity="0.44" stroke-width="1.6"/>
<path d="M948.7,670.3 A24.7,4.4 0 0 1 998.1,670.3" stroke-opacity="0.21" stroke-width="1.3"/>
<path d="M948.7,670.3 A24.7,4.4 0 0 0 998.1,670.3" stroke-opacity="0.45" stroke-width="1.6"/>
<path d="M949.5,676.0 A24.2,4.4 0 0 1 998.0,676.0" stroke-opacity="0.22" stroke-width="1.3"/>
<path d="M949.5,676.0 A24.2,4.4 0 0 0 998.0,676.0" stroke-opacity="0.46" stroke-width="1.6"/>
<path d="M950.3,681.7 A23.8,4.4 0 0 1 997.9,681.7" stroke-opacity="0.22" stroke-width="1.3"/>
<path d="M950.3,681.7 A23.8,4.4 0 0 0 997.9,681.7" stroke-opacity="0.47" stroke-width="1.6"/>
<path d="M951.1,687.4 A23.3,4.4 0 0 1 997.8,687.4" stroke-opacity="0.23" stroke-width="1.3"/>
<path d="M951.1,687.4 A23.3,4.4 0 0 0 997.8,687.4" stroke-opacity="0.48" stroke-width="1.6"/>
<path d="M951.9,693.1 A22.9,4.4 0 0 1 997.7,693.1" stroke-opacity="0.23" stroke-width="1.3"/>
<path d="M951.9,693.1 A22.9,4.4 0 0 0 997.7,693.1" stroke-opacity="0.49" stroke-width="1.6"/>
<path d="M952.7,698.8 A22.4,4.4 0 0 1 997.6,698.8" stroke-opacity="0.24" stroke-width="1.3"/>
<path d="M952.7,698.8 A22.4,4.4 0 0 0 997.6,698.8" stroke-opacity="0.50" stroke-width="1.6"/>
<path d="M953.5,704.5 A22.0,4.4 0 0 1 997.5,704.5" stroke-opacity="0.25" stroke-width="1.3"/>
<path d="M953.5,704.5 A22.0,4.4 0 0 0 997.5,704.5" stroke-opacity="0.51" stroke-width="1.6"/>
<path d="M954.3,710.2 A21.5,4.4 0 0 1 997.4,710.2" stroke-opacity="0.25" stroke-width="1.3"/>
<path d="M954.3,710.2 A21.5,4.4 0 0 0 997.4,710.2" stroke-opacity="0.52" stroke-width="1.6"/>
<path d="M955.2,715.9 A21.1,4.4 0 0 1 997.3,715.9" stroke-opacity="0.26" stroke-width="1.3"/>
<path d="M955.2,715.9 A21.1,4.4 0 0 0 997.3,715.9" stroke-opacity="0.53" stroke-width="1.6"/>
<path d="M956.0,721.6 A20.6,4.4 0 0 1 997.2,721.6" stroke-opacity="0.26" stroke-width="1.3"/>
<path d="M956.0,721.6 A20.6,4.4 0 0 0 997.2,721.6" stroke-opacity="0.54" stroke-width="1.6"/>
<path d="M956.8,727.3 A20.2,4.4 0 0 1 997.1,727.3" stroke-opacity="0.27" stroke-width="1.3"/>
<path d="M956.8,727.3 A20.2,4.4 0 0 0 997.1,727.3" stroke-opacity="0.56" stroke-width="1.6"/>
<path d="M957.6,733.0 A19.7,4.4 0 0 1 997.0,733.0" stroke-opacity="0.27" stroke-width="1.3"/>
<path d="M957.6,733.0 A19.7,4.4 0 0 0 997.0,733.0" stroke-opacity="0.57" stroke-width="1.6"/>
<path d="M1001.4,621.1 A24.8,4.4 0 0 1 1051.0,621.1" stroke-opacity="0.15" stroke-width="1.3"/>
<path d="M1001.4,621.1 A24.8,4.4 0 0 0 1051.0,621.1" stroke-opacity="0.32" stroke-width="1.6"/>
<path d="M1002.3,626.8 A24.4,4.4 0 0 1 1051.0,626.8" stroke-opacity="0.16" stroke-width="1.3"/>
<path d="M1002.3,626.8 A24.4,4.4 0 0 0 1051.0,626.8" stroke-opacity="0.33" stroke-width="1.6"/>
<path d="M1003.1,632.5 A24.0,4.4 0 0 1 1051.0,632.5" stroke-opacity="0.16" stroke-width="1.3"/>
<path d="M1003.1,632.5 A24.0,4.4 0 0 0 1051.0,632.5" stroke-opacity="0.34" stroke-width="1.6"/>
<path d="M1003.9,638.2 A23.6,4.4 0 0 1 1051.0,638.2" stroke-opacity="0.17" stroke-width="1.3"/>
<path d="M1003.9,638.2 A23.6,4.4 0 0 0 1051.0,638.2" stroke-opacity="0.35" stroke-width="1.6"/>
<path d="M1004.7,643.9 A23.1,4.4 0 0 1 1051.0,643.9" stroke-opacity="0.17" stroke-width="1.3"/>
<path d="M1004.7,643.9 A23.1,4.4 0 0 0 1051.0,643.9" stroke-opacity="0.36" stroke-width="1.6"/>
<path d="M1005.5,649.6 A22.7,4.4 0 0 1 1051.0,649.6" stroke-opacity="0.18" stroke-width="1.3"/>
<path d="M1005.5,649.6 A22.7,4.4 0 0 0 1051.0,649.6" stroke-opacity="0.37" stroke-width="1.6"/>
<path d="M1006.4,655.3 A22.3,4.4 0 0 1 1051.0,655.3" stroke-opacity="0.18" stroke-width="1.3"/>
<path d="M1006.4,655.3 A22.3,4.4 0 0 0 1051.0,655.3" stroke-opacity="0.38" stroke-width="1.6"/>
<path d="M1007.2,661.0 A21.9,4.4 0 0 1 1051.0,661.0" stroke-opacity="0.19" stroke-width="1.3"/>
<path d="M1007.2,661.0 A21.9,4.4 0 0 0 1051.0,661.0" stroke-opacity="0.39" stroke-width="1.6"/>
<path d="M1008.0,666.7 A21.5,4.4 0 0 1 1051.0,666.7" stroke-opacity="0.19" stroke-width="1.3"/>
<path d="M1008.0,666.7 A21.5,4.4 0 0 0 1051.0,666.7" stroke-opacity="0.40" stroke-width="1.6"/>
<path d="M1008.8,672.4 A21.1,4.4 0 0 1 1051.0,672.4" stroke-opacity="0.20" stroke-width="1.3"/>
<path d="M1008.8,672.4 A21.1,4.4 0 0 0 1051.0,672.4" stroke-opacity="0.41" stroke-width="1.6"/>
<path d="M1009.7,678.1 A20.7,4.4 0 0 1 1051.0,678.1" stroke-opacity="0.20" stroke-width="1.3"/>
<path d="M1009.7,678.1 A20.7,4.4 0 0 0 1051.0,678.1" stroke-opacity="0.42" stroke-width="1.6"/>
<path d="M1010.5,683.8 A20.3,4.4 0 0 1 1051.0,683.8" stroke-opacity="0.21" stroke-width="1.3"/>
<path d="M1010.5,683.8 A20.3,4.4 0 0 0 1051.0,683.8" stroke-opacity="0.43" stroke-width="1.6"/>
<path d="M1011.3,689.5 A19.9,4.4 0 0 1 1051.0,689.5" stroke-opacity="0.21" stroke-width="1.3"/>
<path d="M1011.3,689.5 A19.9,4.4 0 0 0 1051.0,689.5" stroke-opacity="0.45" stroke-width="1.6"/>
<path d="M1012.1,695.2 A19.4,4.4 0 0 1 1051.0,695.2" stroke-opacity="0.22" stroke-width="1.3"/>
<path d="M1012.1,695.2 A19.4,4.4 0 0 0 1051.0,695.2" stroke-opacity="0.46" stroke-width="1.6"/>
<path d="M1012.9,700.9 A19.0,4.4 0 0 1 1051.0,700.9" stroke-opacity="0.22" stroke-width="1.3"/>
<path d="M1012.9,700.9 A19.0,4.4 0 0 0 1051.0,700.9" stroke-opacity="0.47" stroke-width="1.6"/>
<path d="M1013.8,706.6 A18.6,4.4 0 0 1 1051.0,706.6" stroke-opacity="0.23" stroke-width="1.3"/>
<path d="M1013.8,706.6 A18.6,4.4 0 0 0 1051.0,706.6" stroke-opacity="0.48" stroke-width="1.6"/>
<path d="M1014.6,712.3 A18.2,4.4 0 0 1 1051.0,712.3" stroke-opacity="0.23" stroke-width="1.3"/>
<path d="M1014.6,712.3 A18.2,4.4 0 0 0 1051.0,712.3" stroke-opacity="0.49" stroke-width="1.6"/>
<path d="M1015.4,718.0 A17.8,4.4 0 0 1 1051.0,718.0" stroke-opacity="0.24" stroke-width="1.3"/>
<path d="M1015.4,718.0 A17.8,4.4 0 0 0 1051.0,718.0" stroke-opacity="0.50" stroke-width="1.6"/>
<path d="M1016.2,723.7 A17.4,4.4 0 0 1 1051.0,723.7" stroke-opacity="0.24" stroke-width="1.3"/>
<path d="M1016.2,723.7 A17.4,4.4 0 0 0 1051.0,723.7" stroke-opacity="0.51" stroke-width="1.6"/>
<path d="M1017.0,729.4 A17.0,4.4 0 0 1 1051.0,729.4" stroke-opacity="0.25" stroke-width="1.3"/>
<path d="M1017.0,729.4 A17.0,4.4 0 0 0 1051.0,729.4" stroke-opacity="0.52" stroke-width="1.6"/>
<path d="M1017.9,735.1 A16.6,4.4 0 0 1 1051.0,735.1" stroke-opacity="0.25" stroke-width="1.3"/>
<path d="M1017.9,735.1 A16.6,4.4 0 0 0 1051.0,735.1" stroke-opacity="0.53" stroke-width="1.6"/>
</g>
<rect x="280" y="730" width="770" height="20" fill="url(#coilbase)" mask="url(#basemask)"/>
<path d="M292,747.3 L1043.5,745.9 L1043.5,748.5 L292,750 Z" fill="#6f7688" fill-opacity="0.7"/>
</g>
<path d="M284.0,548.5 L334.0,551.0 L327.5,556.0 L325.0,560.0 L324.7,564.0 L324.4,568.0 L324.1,572.0 L323.8,576.0 L323.4,580.0 L323.1,584.0 L322.8,588.0 L322.5,592.0 L322.2,596.0 L321.9,600.0 L321.6,604.0 L321.3,608.0 L321.0,612.0 L320.6,616.0 L320.3,620.0 L320.0,624.0 L319.7,628.0 L319.4,632.0 L319.1,636.0 L318.8,640.0 L318.5,644.0 L318.2,648.0 L317.5,652.0 L316.6,656.0 L315.6,660.0 L314.6,664.0 L313.7,668.0 L312.7,672.0 L311.8,676.0 L310.8,680.0 L309.8,684.0 L308.9,688.0 L307.9,692.0 L307.0,696.0 L306.0,700.0 L305.0,704.0 L304.0,708.0 L303.0,712.0 L302.0,716.0 L301.0,720.0 L300.0,724.0 L299.0,728.0 L298.0,732.0 L297.0,736.0 L296.0,740.0 L296.0,741.0 L284.0,741.0 Z" fill="#fff"/>
<path d="M332.9,554.4 Q322.6,554.4 312.4,557.0 Q322.6,559.0 332.9,559.0 Z" fill="#7a849b"/>
<path d="M332.9,555.8 Q322.6,555.6 316.4,556.7" stroke="#f4f6fa" stroke-width="1.1" fill="none" stroke-opacity="0.85"/>
<path d="M330.6,561.9 Q320.8,561.9 310.9,564.5 Q320.8,566.5 330.6,566.5 Z" fill="#7a849b"/>
<path d="M330.6,563.3 Q320.8,563.1 314.9,564.2" stroke="#f4f6fa" stroke-width="1.1" fill="none" stroke-opacity="0.85"/>
<path d="M330.1,569.4 Q319.0,569.4 308.0,572.0 Q319.0,574.0 330.1,574.0 Z" fill="#7a849b"/>
<path d="M330.1,570.8 Q319.0,570.6 312.0,571.7" stroke="#f4f6fa" stroke-width="1.1" fill="none" stroke-opacity="0.85"/>
<path d="M329.5,576.9 Q317.3,576.9 305.1,579.5 Q317.3,581.5 329.5,581.5 Z" fill="#7a849b"/>
<path d="M329.5,578.3 Q317.3,578.1 309.1,579.2" stroke="#f4f6fa" stroke-width="1.1" fill="none" stroke-opacity="0.85"/>
<path d="M328.9,584.4 Q315.6,584.4 302.2,587.0 Q315.6,589.0 328.9,589.0 Z" fill="#7a849b"/>
<path d="M328.9,585.8 Q315.6,585.6 306.2,586.7" stroke="#f4f6fa" stroke-width="1.1" fill="none" stroke-opacity="0.85"/>
<path d="M328.3,591.9 Q315.8,591.9 303.4,594.5 Q315.8,596.5 328.3,596.5 Z" fill="#7a849b"/>
<path d="M328.3,593.3 Q315.8,593.1 307.4,594.2" stroke="#f4f6fa" stroke-width="1.1" fill="none" stroke-opacity="0.85"/>
<path d="M327.7,599.4 Q314.1,599.4 300.5,602.0 Q314.1,604.0 327.7,604.0 Z" fill="#7a849b"/>
<path d="M327.7,600.8 Q314.1,600.6 304.5,601.7" stroke="#f4f6fa" stroke-width="1.1" fill="none" stroke-opacity="0.85"/>
<path d="M327.1,606.9 Q312.4,606.9 297.6,609.5 Q312.4,611.5 327.1,611.5 Z" fill="#7a849b"/>
<path d="M327.1,608.3 Q312.4,608.1 301.6,609.2" stroke="#f4f6fa" stroke-width="1.1" fill="none" stroke-opacity="0.85"/>
<path d="M326.6,614.4 Q310.7,614.4 294.8,617.0 Q310.7,619.0 326.6,619.0 Z" fill="#7a849b"/>
<path d="M326.6,615.8 Q310.7,615.6 298.8,616.7" stroke="#f4f6fa" stroke-width="1.1" fill="none" stroke-opacity="0.85"/>
<path d="M326.0,621.9 Q311.5,621.9 297.0,624.5 Q311.5,626.5 326.0,626.5 Z" fill="#7a849b"/>
<path d="M326.0,623.3 Q311.5,623.1 301.0,624.2" stroke="#f4f6fa" stroke-width="1.1" fill="none" stroke-opacity="0.85"/>
<path d="M325.4,629.4 Q310.7,629.4 296.0,632.0 Q310.7,634.0 325.4,634.0 Z" fill="#7a849b"/>
<path d="M325.4,630.8 Q310.7,630.6 300.0,631.7" stroke="#f4f6fa" stroke-width="1.1" fill="none" stroke-opacity="0.85"/>
<path d="M324.8,636.9 Q309.9,636.9 295.0,639.5 Q309.9,641.5 324.8,641.5 Z" fill="#7a849b"/>
<path d="M324.8,638.3 Q309.9,638.1 299.0,639.2" stroke="#f4f6fa" stroke-width="1.1" fill="none" stroke-opacity="0.85"/>
<path d="M324.2,644.4 Q309.1,644.4 294.0,647.0 Q309.1,649.0 324.2,649.0 Z" fill="#7a849b"/>
<path d="M324.2,645.8 Q309.1,645.6 298.0,646.7" stroke="#f4f6fa" stroke-width="1.1" fill="none" stroke-opacity="0.85"/>
<path d="M322.9,651.9 Q310.0,651.9 297.0,654.5 Q310.0,656.5 322.9,656.5 Z" fill="#7a849b"/>
<path d="M322.9,653.3 Q310.0,653.1 301.0,654.2" stroke="#f4f6fa" stroke-width="1.1" fill="none" stroke-opacity="0.85"/>
<path d="M321.1,659.4 Q308.6,659.4 296.0,662.0 Q308.6,664.0 321.1,664.0 Z" fill="#7a849b"/>
<path d="M321.1,660.8 Q308.6,660.6 300.0,661.7" stroke="#f4f6fa" stroke-width="1.1" fill="none" stroke-opacity="0.85"/>
<path d="M319.3,666.9 Q307.2,666.9 295.0,669.5 Q307.2,671.5 319.3,671.5 Z" fill="#7a849b"/>
<path d="M319.3,668.3 Q307.2,668.1 299.0,669.2" stroke="#f4f6fa" stroke-width="1.1" fill="none" stroke-opacity="0.85"/>
<path d="M317.5,674.4 Q305.8,674.4 294.0,677.0 Q305.8,679.0 317.5,679.0 Z" fill="#7a849b"/>
<path d="M317.5,675.8 Q305.8,675.6 298.0,676.7" stroke="#f4f6fa" stroke-width="1.1" fill="none" stroke-opacity="0.85"/>
<path d="M315.7,681.9 Q306.4,681.9 297.0,684.5 Q306.4,686.5 315.7,686.5 Z" fill="#7a849b"/>
<path d="M315.7,683.3 Q306.4,683.1 301.0,684.2" stroke="#f4f6fa" stroke-width="1.1" fill="none" stroke-opacity="0.85"/>
<path d="M313.9,689.4 Q305.0,689.4 296.0,692.0 Q305.0,694.0 313.9,694.0 Z" fill="#7a849b"/>
<path d="M313.9,690.8 Q305.0,690.6 300.0,691.7" stroke="#f4f6fa" stroke-width="1.1" fill="none" stroke-opacity="0.85"/>
<path d="M312.1,696.9 Q303.6,696.9 295.0,699.5 Q303.6,701.5 312.1,701.5 Z" fill="#7a849b"/>
<path d="M312.1,698.3 Q303.6,698.1 299.0,699.2" stroke="#f4f6fa" stroke-width="1.1" fill="none" stroke-opacity="0.85"/>
<path d="M310.2,704.4 Q302.1,704.4 294.0,707.0 Q302.1,709.0 310.2,709.0 Z" fill="#7a849b"/>
<path d="M310.2,705.8 Q302.1,705.6 298.0,706.7" stroke="#f4f6fa" stroke-width="1.1" fill="none" stroke-opacity="0.85"/>
<path d="M308.4,711.9 Q302.7,711.9 297.0,714.5 Q302.7,716.5 308.4,716.5 Z" fill="#7a849b"/>
<path d="M308.4,713.3 Q302.7,713.1 301.0,714.2" stroke="#f4f6fa" stroke-width="1.1" fill="none" stroke-opacity="0.85"/>
<path d="M306.5,719.4 Q301.2,719.4 296.0,722.0 Q301.2,724.0 306.5,724.0 Z" fill="#7a849b"/>
<path d="M306.5,720.8 Q301.2,720.6 300.0,721.7" stroke="#f4f6fa" stroke-width="1.1" fill="none" stroke-opacity="0.85"/>
<path d="M304.6,726.9 Q299.8,726.9 295.0,729.5 Q299.8,731.5 304.6,731.5 Z" fill="#7a849b"/>
<path d="M304.6,728.3 Q299.8,728.1 299.0,729.2" stroke="#f4f6fa" stroke-width="1.1" fill="none" stroke-opacity="0.85"/>
<path d="M302.8,734.4 Q298.4,734.4 294.0,737.0 Q298.4,739.0 302.8,739.0 Z" fill="#7a849b"/>
<path d="M302.8,735.8 Q298.4,735.6 298.0,736.7" stroke="#f4f6fa" stroke-width="1.1" fill="none" stroke-opacity="0.85"/>
<g clip-path="url(#blueclip)">
<path d="M285.4,502.3 L306.6,506.2 L306.6,513.5 L285.4,509.9Z" fill="#234a91"/>
<path d="M285.4,508.7 L306.6,512.3 L306.6,519.6 L285.4,516.2Z" fill="#254e95"/>
<path d="M285.4,515.0 L306.6,518.4 L306.6,525.7 L285.4,522.5Z" fill="#265099"/>
<path d="M285.4,521.3 L306.6,524.5 L306.6,531.8 L285.4,528.8Z" fill="#28549d"/>
<path d="M285.4,527.6 L306.6,530.6 L306.6,537.9 L285.4,535.2Z" fill="#2a56a1"/>
<path d="M305.4,506.2 L326.6,509.9 L326.6,517.0 L305.4,513.5Z" fill="#21478d"/>
<path d="M305.4,512.3 L326.6,515.8 L326.6,522.9 L305.4,519.6Z" fill="#234a91"/>
<path d="M305.4,518.4 L326.6,521.7 L326.6,528.8 L305.4,525.7Z" fill="#254d95"/>
<path d="M305.4,524.5 L326.6,527.6 L326.6,534.7 L305.4,531.8Z" fill="#265099"/>
<path d="M305.4,530.6 L326.6,533.5 L326.6,540.6 L305.4,537.9Z" fill="#28539c"/>
<path d="M325.4,509.9 L346.6,513.6 L346.6,520.5 L325.4,517.0Z" fill="#1f4287"/>
<path d="M325.4,515.8 L346.6,519.3 L346.6,526.2 L325.4,522.9Z" fill="#21458b"/>
<path d="M325.4,521.7 L346.6,525.0 L346.6,531.9 L325.4,528.8Z" fill="#22488f"/>
<path d="M325.4,527.6 L346.6,530.7 L346.6,537.6 L325.4,534.7Z" fill="#244b93"/>
<path d="M325.4,533.5 L346.6,536.4 L346.6,543.3 L325.4,540.6Z" fill="#264e97"/>
<path d="M345.4,513.6 L366.6,517.2 L366.6,523.9 L345.4,520.5Z" fill="#1d3e82"/>
<path d="M345.4,519.3 L366.6,522.7 L366.6,529.4 L345.4,526.2Z" fill="#1e4186"/>
<path d="M345.4,525.0 L366.6,528.2 L366.6,534.9 L345.4,531.9Z" fill="#20448a"/>
<path d="M345.4,530.7 L366.6,533.7 L366.6,540.4 L345.4,537.6Z" fill="#22468d"/>
<path d="M345.4,536.4 L366.6,539.2 L366.6,545.9 L345.4,543.3Z" fill="#234991"/>
<path d="M365.4,517.2 L386.6,520.8 L386.6,527.3 L365.4,523.9Z" fill="#1a397d"/>
<path d="M365.4,522.7 L386.6,526.1 L386.6,532.6 L365.4,529.4Z" fill="#1c3c80"/>
<path d="M365.4,528.2 L386.6,531.4 L386.6,537.9 L365.4,534.9Z" fill="#1d3f84"/>
<path d="M365.4,533.7 L386.6,536.7 L386.6,543.2 L365.4,540.4Z" fill="#1f4288"/>
<path d="M365.4,539.2 L386.6,542.0 L386.6,548.5 L365.4,545.9Z" fill="#21458b"/>
<path d="M385.4,520.8 L406.6,524.2 L406.6,530.5 L385.4,527.3Z" fill="#183475"/>
<path d="M385.4,526.1 L406.6,529.3 L406.6,535.6 L385.4,532.6Z" fill="#1a3779"/>
<path d="M385.4,531.4 L406.6,534.4 L406.6,540.8 L385.4,537.9Z" fill="#1b3a7d"/>
<path d="M385.4,536.7 L406.6,539.6 L406.6,545.9 L385.4,543.2Z" fill="#1d3d81"/>
<path d="M385.4,542.0 L406.6,544.7 L406.6,551.0 L385.4,548.5Z" fill="#1e4084"/>
<path d="M405.4,524.2 L426.6,527.6 L426.6,533.7 L405.4,530.5Z" fill="#162f6d"/>
<path d="M405.4,529.3 L426.6,532.5 L426.6,538.7 L405.4,535.6Z" fill="#183271"/>
<path d="M405.4,534.4 L426.6,537.5 L426.6,543.6 L405.4,540.8Z" fill="#193575"/>
<path d="M405.4,539.6 L426.6,542.4 L426.6,548.5 L405.4,545.9Z" fill="#1b3879"/>
<path d="M405.4,544.7 L426.6,547.3 L426.6,553.5 L405.4,551.0Z" fill="#1c3b7d"/>
<path d="M425.4,527.6 L446.6,530.9 L446.6,536.9 L425.4,533.7Z" fill="#142a65"/>
<path d="M425.4,532.5 L446.6,535.7 L446.6,541.6 L425.4,538.7Z" fill="#162d69"/>
<path d="M425.4,537.5 L446.6,540.4 L446.6,546.4 L425.4,543.6Z" fill="#17306e"/>
<path d="M425.4,542.4 L446.6,545.2 L446.6,551.1 L425.4,548.5Z" fill="#193372"/>
<path d="M425.4,547.3 L446.6,549.9 L446.6,555.9 L425.4,553.5Z" fill="#1a3676"/>
<path d="M445.4,530.9 L466.6,534.1 L466.6,539.9 L445.4,536.9Z" fill="#12255d"/>
<path d="M445.4,535.7 L466.6,538.7 L466.6,544.5 L445.4,541.6Z" fill="#142861"/>
<path d="M445.4,540.4 L466.6,543.3 L466.6,549.1 L445.4,546.4Z" fill="#152b66"/>
<path d="M445.4,545.2 L466.6,547.9 L466.6,553.7 L445.4,551.1Z" fill="#162e6b"/>
<path d="M445.4,549.9 L466.6,552.5 L466.6,558.3 L445.4,555.9Z" fill="#18316f"/>
<path d="M465.4,534.1 L486.6,537.3 L486.6,542.9 L465.4,539.9Z" fill="#11235a"/>
<path d="M465.4,538.7 L486.6,541.7 L486.6,547.3 L465.4,544.5Z" fill="#13265f"/>
<path d="M465.4,543.3 L486.6,546.1 L486.6,551.7 L465.4,549.1Z" fill="#142963"/>
<path d="M465.4,547.9 L486.6,550.5 L486.6,556.2 L465.4,553.7Z" fill="#162d68"/>
<path d="M465.4,552.5 L486.6,555.0 L486.6,560.6 L465.4,558.3Z" fill="#17306c"/>
<path d="M485.4,537.3 L506.6,540.4 L506.6,545.8 L485.4,542.9Z" fill="#112259"/>
<path d="M485.4,541.7 L506.6,544.6 L506.6,550.1 L485.4,547.3Z" fill="#13265e"/>
<path d="M485.4,546.1 L506.6,548.9 L506.6,554.3 L485.4,551.7Z" fill="#142962"/>
<path d="M485.4,550.5 L506.6,553.1 L506.6,558.6 L485.4,556.2Z" fill="#152c66"/>
<path d="M485.4,555.0 L506.6,557.4 L506.6,562.9 L485.4,560.6Z" fill="#172f6b"/>
<path d="M505.4,540.4 L526.6,543.4 L526.6,548.7 L505.4,545.8Z" fill="#112258"/>
<path d="M505.4,544.6 L526.6,547.5 L526.6,552.8 L505.4,550.1Z" fill="#12255c"/>
<path d="M505.4,548.9 L526.6,551.6 L526.6,556.9 L505.4,554.3Z" fill="#142860"/>
<path d="M505.4,553.1 L526.6,555.7 L526.6,561.0 L505.4,558.6Z" fill="#152b65"/>
<path d="M505.4,557.4 L526.6,559.8 L526.6,565.1 L505.4,562.9Z" fill="#162e69"/>
<path d="M525.4,543.4 L546.6,546.4 L546.6,551.5 L525.4,548.7Z" fill="#112157"/>
<path d="M525.4,547.5 L546.6,550.3 L546.6,555.4 L525.4,552.8Z" fill="#12245b"/>
<path d="M525.4,551.6 L546.6,554.2 L546.6,559.4 L525.4,556.9Z" fill="#13275f"/>
<path d="M525.4,555.7 L546.6,558.2 L546.6,563.3 L525.4,561.0Z" fill="#152a63"/>
<path d="M525.4,559.8 L546.6,562.1 L546.6,567.3 L525.4,565.1Z" fill="#162d67"/>
<path d="M545.4,546.4 L566.6,549.2 L566.6,554.2 L545.4,551.5Z" fill="#102156"/>
<path d="M545.4,550.3 L566.6,553.0 L566.6,558.0 L545.4,555.4Z" fill="#12235a"/>
<path d="M545.4,554.2 L566.6,556.8 L566.6,561.8 L545.4,559.4Z" fill="#13265e"/>
<path d="M545.4,558.2 L566.6,560.6 L566.6,565.6 L545.4,563.3Z" fill="#152961"/>
<path d="M545.4,562.1 L566.6,564.4 L566.6,569.4 L545.4,567.3Z" fill="#162c65"/>
<path d="M565.4,549.2 L586.6,552.1 L586.6,556.9 L565.4,554.2Z" fill="#102055"/>
<path d="M565.4,553.0 L586.6,555.7 L586.6,560.5 L565.4,558.0Z" fill="#112359"/>
<path d="M565.4,556.8 L586.6,559.3 L586.6,564.2 L565.4,561.8Z" fill="#13255c"/>
<path d="M565.4,560.6 L586.6,563.0 L586.6,567.8 L565.4,565.6Z" fill="#142860"/>
<path d="M565.4,564.4 L586.6,566.6 L586.6,571.5 L565.4,569.4Z" fill="#162b63"/>
<path d="M585.4,552.1 L606.6,554.8 L606.6,559.5 L585.4,556.9Z" fill="#101f54"/>
<path d="M585.4,555.7 L606.6,558.3 L606.6,563.0 L585.4,560.5Z" fill="#112257"/>
<path d="M585.4,559.3 L606.6,561.8 L606.6,566.5 L585.4,564.2Z" fill="#13255b"/>
<path d="M585.4,563.0 L606.6,565.3 L606.6,570.0 L585.4,567.8Z" fill="#14275e"/>
<path d="M585.4,566.6 L606.6,568.8 L606.6,573.5 L585.4,571.5Z" fill="#152a62"/>
<path d="M605.4,554.8 L626.6,557.5 L626.6,562.0 L605.4,559.5Z" fill="#101f54"/>
<path d="M605.4,558.3 L626.6,560.8 L626.6,565.4 L605.4,563.0Z" fill="#112258"/>
<path d="M605.4,561.8 L626.6,564.2 L626.6,568.7 L605.4,566.5Z" fill="#13255b"/>
<path d="M605.4,565.3 L626.6,567.5 L626.6,572.1 L605.4,570.0Z" fill="#14275e"/>
<path d="M605.4,568.8 L626.6,570.9 L626.6,575.4 L605.4,573.5Z" fill="#152a62"/>
<path d="M625.4,557.5 L646.6,560.1 L646.6,564.5 L625.4,562.0Z" fill="#102055"/>
<path d="M625.4,560.8 L646.6,563.3 L646.6,567.7 L625.4,565.4Z" fill="#112258"/>
<path d="M625.4,564.2 L646.6,566.5 L646.6,570.9 L625.4,568.7Z" fill="#13255c"/>
<path d="M625.4,567.5 L646.6,569.7 L646.6,574.1 L625.4,572.1Z" fill="#14285f"/>
<path d="M625.4,570.9 L646.6,572.9 L646.6,577.3 L625.4,575.4Z" fill="#162a63"/>
<path d="M645.4,560.1 L666.6,562.7 L666.6,566.9 L645.4,564.5Z" fill="#102056"/>
<path d="M645.4,563.3 L666.6,565.7 L666.6,570.0 L645.4,567.7Z" fill="#112359"/>
<path d="M645.4,566.5 L666.6,568.8 L666.6,573.1 L645.4,570.9Z" fill="#13255d"/>
<path d="M645.4,569.7 L666.6,571.9 L666.6,576.1 L645.4,574.1Z" fill="#142860"/>
<path d="M645.4,572.9 L666.6,574.9 L666.6,579.2 L645.4,577.3Z" fill="#162b63"/>
<path d="M665.4,562.7 L686.6,565.1 L686.6,569.3 L665.4,566.9Z" fill="#102057"/>
<path d="M665.4,565.7 L686.6,568.1 L686.6,572.2 L665.4,570.0Z" fill="#12235a"/>
<path d="M665.4,568.8 L686.6,571.0 L686.6,575.1 L665.4,573.1Z" fill="#13265d"/>
<path d="M665.4,571.9 L686.6,573.9 L686.6,578.1 L665.4,576.1Z" fill="#152861"/>
<path d="M665.4,574.9 L686.6,576.9 L686.6,581.0 L665.4,579.2Z" fill="#162b64"/>
<path d="M685.4,565.1 L706.6,567.6 L706.6,571.6 L685.4,569.3Z" fill="#102057"/>
<path d="M685.4,568.1 L706.6,570.4 L706.6,574.3 L685.4,572.2Z" fill="#12235b"/>
<path d="M685.4,571.0 L706.6,573.1 L706.6,577.1 L685.4,575.1Z" fill="#13265e"/>
<path d="M685.4,573.9 L706.6,575.9 L706.6,579.9 L685.4,578.1Z" fill="#152961"/>
<path d="M685.4,576.9 L706.6,578.7 L706.6,582.7 L685.4,581.0Z" fill="#162c65"/>
<path d="M705.4,567.6 L726.6,569.9 L726.6,573.8 L705.4,571.6Z" fill="#102158"/>
<path d="M705.4,570.4 L726.6,572.6 L726.6,576.4 L705.4,574.3Z" fill="#12235c"/>
<path d="M705.4,573.1 L726.6,575.2 L726.6,579.1 L705.4,577.1Z" fill="#13265f"/>
<path d="M705.4,575.9 L726.6,577.9 L726.6,581.8 L705.4,579.9Z" fill="#152962"/>
<path d="M705.4,578.7 L726.6,580.6 L726.6,584.4 L705.4,582.7Z" fill="#162c65"/>
<path d="M725.4,569.9 L746.6,572.2 L746.6,575.9 L725.4,573.8Z" fill="#102159"/>
<path d="M725.4,572.6 L746.6,574.7 L746.6,578.5 L725.4,576.4Z" fill="#12245c"/>
<path d="M725.4,575.2 L746.6,577.3 L746.6,581.0 L725.4,579.1Z" fill="#142760"/>
<path d="M725.4,577.9 L746.6,579.8 L746.6,583.5 L725.4,581.8Z" fill="#152963"/>
<path d="M725.4,580.6 L746.6,582.3 L746.6,586.1 L725.4,584.4Z" fill="#172c66"/>
<path d="M745.4,572.2 L766.6,574.4 L766.6,578.0 L745.4,575.9Z" fill="#11215a"/>
<path d="M745.4,574.7 L766.6,576.8 L766.6,580.4 L745.4,578.5Z" fill="#12245d"/>
<path d="M745.4,577.3 L766.6,579.2 L766.6,582.8 L745.4,581.0Z" fill="#142760"/>
<path d="M745.4,579.8 L766.6,581.6 L766.6,585.2 L745.4,583.5Z" fill="#152a64"/>
<path d="M745.4,582.3 L766.6,584.0 L766.6,587.6 L745.4,586.1Z" fill="#172d67"/>
<path d="M765.4,574.4 L786.6,576.6 L786.6,580.1 L765.4,578.0Z" fill="#11215b"/>
<path d="M765.4,576.8 L786.6,578.9 L786.6,582.3 L765.4,580.4Z" fill="#12245e"/>
<path d="M765.4,579.2 L786.6,581.1 L786.6,584.6 L765.4,582.8Z" fill="#142761"/>
<path d="M765.4,581.6 L786.6,583.4 L786.6,586.9 L765.4,585.2Z" fill="#152a64"/>
<path d="M765.4,584.0 L786.6,585.7 L786.6,589.2 L765.4,587.6Z" fill="#172d68"/>
<path d="M785.4,576.6 L806.6,578.7 L806.6,582.0 L785.4,580.1Z" fill="#11215b"/>
<path d="M785.4,578.9 L806.6,580.8 L806.6,584.2 L785.4,582.3Z" fill="#12245f"/>
<path d="M785.4,581.1 L806.6,583.0 L806.6,586.3 L785.4,584.6Z" fill="#142762"/>
<path d="M785.4,583.4 L806.6,585.1 L806.6,588.5 L785.4,586.9Z" fill="#162a65"/>
<path d="M785.4,585.7 L806.6,587.3 L806.6,590.6 L785.4,589.2Z" fill="#172d68"/>
<path d="M805.4,578.7 L826.6,580.7 L826.6,584.0 L805.4,582.0Z" fill="#11235d"/>
<path d="M805.4,580.8 L826.6,582.8 L826.6,586.0 L805.4,584.2Z" fill="#132660"/>
<path d="M805.4,583.0 L826.6,584.8 L826.6,588.0 L805.4,586.3Z" fill="#152964"/>
<path d="M805.4,585.1 L826.6,586.8 L826.6,590.0 L805.4,588.5Z" fill="#162c67"/>
<path d="M805.4,587.3 L826.6,588.8 L826.6,592.0 L805.4,590.6Z" fill="#182f6b"/>
<path d="M825.4,580.7 L846.6,582.7 L846.6,585.8 L825.4,584.0Z" fill="#12245e"/>
<path d="M825.4,582.8 L846.6,584.6 L846.6,587.7 L825.4,586.0Z" fill="#142762"/>
<path d="M825.4,584.8 L846.6,586.5 L846.6,589.6 L825.4,588.0Z" fill="#162a66"/>
<path d="M825.4,586.8 L846.6,588.4 L846.6,591.5 L825.4,590.0Z" fill="#172e6a"/>
<path d="M825.4,588.8 L846.6,590.3 L846.6,593.4 L825.4,592.0Z" fill="#19316e"/>
<path d="M845.4,582.7 L866.6,584.7 L866.6,587.6 L845.4,585.8Z" fill="#132560"/>
<path d="M845.4,584.6 L866.6,586.4 L866.6,589.4 L845.4,587.7Z" fill="#152964"/>
<path d="M845.4,586.5 L866.6,588.2 L866.6,591.1 L845.4,589.6Z" fill="#162c68"/>
<path d="M845.4,588.4 L866.6,589.9 L866.6,592.9 L845.4,591.5Z" fill="#18306c"/>
<path d="M845.4,590.3 L866.6,591.7 L866.6,594.6 L845.4,593.4Z" fill="#1a3371"/>
<path d="M865.4,584.7 L886.6,586.5 L886.6,589.3 L865.4,587.6Z" fill="#142661"/>
<path d="M865.4,586.4 L886.6,588.1 L886.6,591.0 L865.4,589.4Z" fill="#152a66"/>
<path d="M865.4,588.2 L886.6,589.8 L886.6,592.6 L865.4,591.1Z" fill="#172e6a"/>
<path d="M865.4,589.9 L886.6,591.4 L886.6,594.2 L865.4,592.9Z" fill="#19316f"/>
<path d="M865.4,591.7 L886.6,593.0 L886.6,595.9 L865.4,594.6Z" fill="#1b3574"/>
<path d="M885.4,586.5 L906.6,588.3 L906.6,591.0 L885.4,589.3Z" fill="#142862"/>
<path d="M885.4,588.1 L906.6,589.8 L906.6,592.5 L885.4,591.0Z" fill="#162c67"/>
<path d="M885.4,589.8 L906.6,591.3 L906.6,594.0 L885.4,592.6Z" fill="#182f6d"/>
<path d="M885.4,591.4 L906.6,592.8 L906.6,595.5 L885.4,594.2Z" fill="#1a3372"/>
<path d="M885.4,593.0 L906.6,594.3 L906.6,597.0 L885.4,595.9Z" fill="#1c3777"/>
<path d="M905.4,588.3 L926.6,590.1 L926.6,592.7 L905.4,591.0Z" fill="#152964"/>
<path d="M905.4,589.8 L926.6,591.5 L926.6,594.0 L905.4,592.5Z" fill="#172d69"/>
<path d="M905.4,591.3 L926.6,592.8 L926.6,595.4 L905.4,594.0Z" fill="#19316f"/>
<path d="M905.4,592.8 L926.6,594.2 L926.6,596.8 L905.4,595.5Z" fill="#1b3574"/>
<path d="M905.4,594.3 L926.6,595.6 L926.6,598.1 L905.4,597.0Z" fill="#1d397a"/>
<path d="M925.4,590.1 L946.6,591.8 L946.6,594.2 L925.4,592.7Z" fill="#162a65"/>
<path d="M925.4,591.5 L946.6,593.0 L946.6,595.5 L925.4,594.0Z" fill="#182e6b"/>
<path d="M925.4,592.8 L946.6,594.3 L946.6,596.7 L925.4,595.4Z" fill="#1a3371"/>
<path d="M925.4,594.2 L946.6,595.5 L946.6,597.9 L925.4,596.8Z" fill="#1c3777"/>
<path d="M925.4,595.6 L946.6,596.7 L946.6,599.2 L925.4,598.1Z" fill="#1e3b7d"/>
<path d="M945.4,591.8 L966.6,593.4 L966.6,595.7 L945.4,594.2Z" fill="#162c67"/>
<path d="M945.4,593.0 L966.6,594.5 L966.6,596.8 L945.4,595.5Z" fill="#19306d"/>
<path d="M945.4,594.3 L966.6,595.6 L966.6,597.9 L945.4,596.7Z" fill="#1b3473"/>
<path d="M945.4,595.5 L966.6,596.7 L966.6,599.0 L945.4,597.9Z" fill="#1d3979"/>
<path d="M945.4,596.7 L966.6,597.8 L966.6,600.1 L945.4,599.2Z" fill="#1f3d80"/>
<path d="M965.4,593.4 L986.6,595.0 L986.6,597.2 L965.4,595.7Z" fill="#172d68"/>
<path d="M965.4,594.5 L986.6,596.0 L986.6,598.1 L965.4,596.8Z" fill="#19316f"/>
<path d="M965.4,595.6 L986.6,596.9 L986.6,599.1 L965.4,597.9Z" fill="#1b3675"/>
<path d="M965.4,596.7 L986.6,597.9 L986.6,600.1 L965.4,599.0Z" fill="#1e3b7c"/>
<path d="M965.4,597.8 L986.6,598.9 L986.6,601.0 L965.4,600.1Z" fill="#203f83"/>
<path d="M985.4,595.0 L1006.6,596.5 L1006.6,598.6 L985.4,597.2Z" fill="#182e69"/>
<path d="M985.4,596.0 L1006.6,597.4 L1006.6,599.4 L985.4,598.1Z" fill="#1a3370"/>
<path d="M985.4,596.9 L1006.6,598.2 L1006.6,600.2 L985.4,599.1Z" fill="#1c3878"/>
<path d="M985.4,597.9 L1006.6,599.0 L1006.6,601.1 L985.4,600.1Z" fill="#1f3c7f"/>
<path d="M985.4,598.9 L1006.6,599.9 L1006.6,601.9 L985.4,601.0Z" fill="#214186"/>
<path d="M1005.4,596.5 L1026.6,598.0 L1026.6,599.9 L1005.4,598.6Z" fill="#182e6a"/>
<path d="M1005.4,597.4 L1026.6,598.7 L1026.6,600.6 L1005.4,599.4Z" fill="#1a3371"/>
<path d="M1005.4,598.2 L1026.6,599.4 L1026.6,601.3 L1005.4,600.2Z" fill="#1c3878"/>
<path d="M1005.4,599.0 L1026.6,600.1 L1026.6,602.0 L1005.4,601.1Z" fill="#1f3d7f"/>
<path d="M1005.4,599.9 L1026.6,600.8 L1026.6,602.7 L1005.4,601.9Z" fill="#214286"/>
<path d="M1025.4,598.0 L1046.6,599.4 L1046.6,601.2 L1025.4,599.9Z" fill="#182e6a"/>
<path d="M1025.4,598.7 L1046.6,600.0 L1046.6,601.7 L1025.4,600.6Z" fill="#1a3371"/>
<path d="M1025.4,599.4 L1046.6,600.5 L1046.6,602.3 L1025.4,601.3Z" fill="#1c3878"/>
<path d="M1025.4,600.1 L1046.6,601.1 L1046.6,602.8 L1025.4,602.0Z" fill="#1f3d7f"/>
<path d="M1025.4,600.8 L1046.6,601.6 L1046.6,603.4 L1025.4,602.7Z" fill="#214286"/>
<path d="M285.4,534.0 L362.6,544.2 L362.6,553.1 L285.4,542.6Z" fill="#3a68b2"/>
<path d="M285.4,541.4 L362.6,551.9 L362.6,560.8 L285.4,550.1Z" fill="#3a69b3"/>
<path d="M361.4,544.2 L438.6,553.7 L438.6,562.9 L361.4,553.1Z" fill="#3967b2"/>
<path d="M361.4,551.9 L438.6,561.7 L438.6,570.8 L361.4,560.8Z" fill="#3a68b3"/>
<path d="M437.4,553.7 L514.6,562.6 L514.6,571.9 L437.4,562.9Z" fill="#3866b1"/>
<path d="M437.4,561.7 L514.6,570.7 L514.6,580.0 L437.4,570.8Z" fill="#3a68b2"/>
<path d="M513.4,562.6 L590.6,570.7 L590.6,580.1 L513.4,571.9Z" fill="#3866b1"/>
<path d="M513.4,570.7 L590.6,578.9 L590.6,588.4 L513.4,580.0Z" fill="#3a68b2"/>
<path d="M589.4,570.7 L666.6,578.0 L666.6,587.6 L589.4,580.1Z" fill="#3866b1"/>
<path d="M589.4,578.9 L666.6,586.4 L666.6,595.9 L589.4,588.4Z" fill="#3a68b3"/>
<path d="M665.4,578.0 L742.6,584.5 L742.6,594.1 L665.4,587.6Z" fill="#3967b2"/>
<path d="M665.4,586.4 L742.6,592.9 L742.6,602.5 L665.4,595.9Z" fill="#3b6ab4"/>
<path d="M741.4,584.5 L818.6,590.3 L818.6,599.8 L741.4,594.1Z" fill="#3a68b3"/>
<path d="M741.4,592.9 L818.6,598.6 L818.6,608.2 L741.4,602.5Z" fill="#3d6bb4"/>
<path d="M817.4,590.3 L894.6,595.1 L894.6,604.6 L817.4,599.8Z" fill="#3c6ab4"/>
<path d="M817.4,598.6 L894.6,603.4 L894.6,612.9 L817.4,608.2Z" fill="#3e6cb5"/>
<path d="M893.4,595.1 L970.6,599.1 L970.6,608.5 L893.4,604.6Z" fill="#3d6bb5"/>
<path d="M893.4,603.4 L970.6,607.3 L970.6,616.6 L893.4,612.9Z" fill="#3f6eb6"/>
<path d="M969.4,599.1 L1046.6,602.2 L1046.6,611.3 L969.4,608.5Z" fill="#3e6cb6"/>
<path d="M969.4,607.3 L1046.6,610.1 L1046.6,619.3 L969.4,616.6Z" fill="#406fb7"/>
</g>
<g clip-path="url(#beigeclip)">
<path d="M285.4,438.7 L306.6,443.8 L306.6,455.2 L285.4,450.4Z" fill="#a8a291"/>
<path d="M285.4,449.2 L306.6,454.0 L306.6,465.3 L285.4,460.9Z" fill="#a59f8e"/>
<path d="M285.4,459.7 L306.6,464.1 L306.6,475.5 L285.4,471.5Z" fill="#a29c8b"/>
<path d="M285.4,470.3 L306.6,474.3 L306.6,485.7 L285.4,482.0Z" fill="#9e9988"/>
<path d="M285.4,480.8 L306.6,484.5 L306.6,495.9 L285.4,492.6Z" fill="#9b9685"/>
<path d="M305.4,443.8 L326.6,448.8 L326.6,459.9 L305.4,455.2Z" fill="#a29d8c"/>
<path d="M305.4,454.0 L326.6,458.7 L326.6,469.7 L305.4,465.3Z" fill="#9f9a89"/>
<path d="M305.4,464.1 L326.6,468.5 L326.6,479.5 L305.4,475.5Z" fill="#9c9787"/>
<path d="M305.4,474.3 L326.6,478.3 L326.6,489.3 L305.4,485.7Z" fill="#999484"/>
<path d="M305.4,484.5 L326.6,488.1 L326.6,499.2 L305.4,495.9Z" fill="#969182"/>
<path d="M325.4,448.8 L346.6,453.8 L346.6,464.5 L325.4,459.9Z" fill="#9b9685"/>
<path d="M325.4,458.7 L346.6,463.3 L346.6,474.0 L325.4,469.7Z" fill="#989383"/>
<path d="M325.4,468.5 L346.6,472.8 L346.6,483.5 L325.4,479.5Z" fill="#959181"/>
<path d="M325.4,478.3 L346.6,482.3 L346.6,493.0 L325.4,489.3Z" fill="#928e7f"/>
<path d="M325.4,488.1 L346.6,491.8 L346.6,502.4 L325.4,499.2Z" fill="#908b7d"/>
<path d="M345.4,453.8 L366.6,458.8 L366.6,469.1 L345.4,464.5Z" fill="#928e7f"/>
<path d="M345.4,463.3 L366.6,467.9 L366.6,478.3 L345.4,474.0Z" fill="#908c7d"/>
<path d="M345.4,472.8 L366.6,477.1 L366.6,487.4 L345.4,483.5Z" fill="#8e8a7c"/>
<path d="M345.4,482.3 L366.6,486.2 L366.6,496.5 L345.4,493.0Z" fill="#8c887a"/>
<path d="M345.4,491.8 L366.6,495.3 L366.6,505.7 L345.4,502.4Z" fill="#8b8679"/>
<path d="M365.4,458.8 L386.6,463.7 L386.6,473.7 L365.4,469.1Z" fill="#898578"/>
<path d="M365.4,467.9 L386.6,472.5 L386.6,482.5 L365.4,478.3Z" fill="#888477"/>
<path d="M365.4,477.1 L386.6,481.3 L386.6,491.3 L365.4,487.4Z" fill="#878476"/>
<path d="M365.4,486.2 L386.6,490.1 L386.6,500.1 L365.4,496.5Z" fill="#878376"/>
<path d="M365.4,495.3 L386.6,498.9 L386.6,508.9 L365.4,505.7Z" fill="#868275"/>
<path d="M385.4,463.7 L406.6,468.5 L406.6,478.2 L385.4,473.7Z" fill="#807d71"/>
<path d="M385.4,472.5 L406.6,477.0 L406.6,486.7 L385.4,482.5Z" fill="#807d71"/>
<path d="M385.4,481.3 L406.6,485.5 L406.6,495.2 L385.4,491.3Z" fill="#807d71"/>
<path d="M385.4,490.1 L406.6,494.0 L406.6,503.6 L385.4,500.1Z" fill="#817d71"/>
<path d="M385.4,498.9 L406.6,502.4 L406.6,512.1 L385.4,508.9Z" fill="#817d71"/>
<path d="M405.4,468.5 L426.6,473.3 L426.6,482.7 L405.4,478.2Z" fill="#7a776d"/>
<path d="M405.4,477.0 L426.6,481.5 L426.6,490.8 L405.4,486.7Z" fill="#7b786d"/>
<path d="M405.4,485.5 L426.6,489.6 L426.6,499.0 L405.4,495.2Z" fill="#7c796e"/>
<path d="M405.4,494.0 L426.6,497.8 L426.6,507.1 L405.4,503.6Z" fill="#7d796e"/>
<path d="M405.4,502.4 L426.6,505.9 L426.6,515.3 L405.4,512.1Z" fill="#7e7a6f"/>
<path d="M425.4,473.3 L446.6,478.0 L446.6,487.1 L425.4,482.7Z" fill="#757369"/>
<path d="M425.4,481.5 L446.6,485.9 L446.6,494.9 L425.4,490.8Z" fill="#77746a"/>
<path d="M425.4,489.6 L446.6,493.7 L446.6,502.7 L425.4,499.0Z" fill="#78756b"/>
<path d="M425.4,497.8 L446.6,501.5 L446.6,510.6 L425.4,507.1Z" fill="#7a766c"/>
<path d="M425.4,505.9 L446.6,509.4 L446.6,518.4 L425.4,515.3Z" fill="#7b776d"/>
<path d="M445.4,478.0 L466.6,482.7 L466.6,491.4 L445.4,487.1Z" fill="#706e65"/>
<path d="M445.4,485.9 L466.6,490.2 L466.6,498.9 L445.4,494.9Z" fill="#727066"/>
<path d="M445.4,493.7 L466.6,497.7 L466.6,506.5 L445.4,502.7Z" fill="#747168"/>
<path d="M445.4,501.5 L466.6,505.3 L466.6,514.0 L445.4,510.6Z" fill="#76736a"/>
<path d="M445.4,509.4 L466.6,512.8 L466.6,521.5 L445.4,518.4Z" fill="#78756c"/>
<path d="M465.4,482.7 L486.6,487.2 L486.6,495.7 L465.4,491.4Z" fill="#6c6960"/>
<path d="M465.4,490.2 L486.6,494.5 L486.6,502.9 L465.4,498.9Z" fill="#6e6b63"/>
<path d="M465.4,497.7 L486.6,501.7 L486.6,510.1 L465.4,506.5Z" fill="#716e65"/>
<path d="M465.4,505.3 L486.6,508.9 L486.6,517.4 L465.4,514.0Z" fill="#737068"/>
<path d="M465.4,512.8 L486.6,516.2 L486.6,524.6 L465.4,521.5Z" fill="#76726a"/>
<path d="M485.4,487.2 L506.6,491.8 L506.6,499.9 L485.4,495.7Z" fill="#67645c"/>
<path d="M485.4,494.5 L506.6,498.7 L506.6,506.8 L485.4,502.9Z" fill="#6a675f"/>
<path d="M485.4,501.7 L506.6,505.6 L506.6,513.8 L485.4,510.1Z" fill="#6d6a63"/>
<path d="M485.4,508.9 L506.6,512.6 L506.6,520.7 L485.4,517.4Z" fill="#706d66"/>
<path d="M485.4,516.2 L506.6,519.5 L506.6,527.7 L485.4,524.6Z" fill="#737069"/>
<path d="M505.4,491.8 L526.6,496.2 L526.6,504.0 L505.4,499.9Z" fill="#64625a"/>
<path d="M505.4,498.7 L526.6,502.8 L526.6,510.7 L505.4,506.8Z" fill="#67655d"/>
<path d="M505.4,505.6 L526.6,509.5 L526.6,517.3 L505.4,513.8Z" fill="#6b6861"/>
<path d="M505.4,512.6 L526.6,516.1 L526.6,524.0 L505.4,520.7Z" fill="#6e6b64"/>
<path d="M505.4,519.5 L526.6,522.8 L526.6,530.7 L505.4,527.7Z" fill="#716e67"/>
<path d="M525.4,496.2 L546.6,500.5 L546.6,508.1 L525.4,504.0Z" fill="#626058"/>
<path d="M525.4,502.8 L546.6,506.9 L546.6,514.5 L525.4,510.7Z" fill="#66635c"/>
<path d="M525.4,509.5 L546.6,513.3 L546.6,520.9 L525.4,517.3Z" fill="#69675f"/>
<path d="M525.4,516.1 L546.6,519.7 L546.6,527.2 L525.4,524.0Z" fill="#6c6a62"/>
<path d="M525.4,522.8 L546.6,526.0 L546.6,533.6 L525.4,530.7Z" fill="#706d65"/>
<path d="M545.4,500.5 L566.6,504.8 L566.6,512.1 L545.4,508.1Z" fill="#605e57"/>
<path d="M545.4,506.9 L566.6,510.9 L566.6,518.2 L545.4,514.5Z" fill="#64625a"/>
<path d="M545.4,513.3 L566.6,517.0 L566.6,524.3 L545.4,520.9Z" fill="#67655d"/>
<path d="M545.4,519.7 L566.6,523.1 L566.6,530.4 L545.4,527.2Z" fill="#6b6861"/>
<path d="M545.4,526.0 L566.6,529.2 L566.6,536.5 L545.4,533.6Z" fill="#6e6c64"/>
<path d="M565.4,504.8 L586.6,509.0 L586.6,516.0 L565.4,512.1Z" fill="#5e5c55"/>
<path d="M565.4,510.9 L586.6,514.8 L586.6,521.9 L565.4,518.2Z" fill="#626058"/>
<path d="M565.4,517.0 L586.6,520.7 L586.6,527.7 L565.4,524.3Z" fill="#66635c"/>
<path d="M565.4,523.1 L586.6,526.5 L586.6,533.6 L565.4,530.4Z" fill="#69675f"/>
<path d="M565.4,529.2 L586.6,532.4 L586.6,539.4 L565.4,536.5Z" fill="#6d6b62"/>
<path d="M585.4,509.0 L606.6,513.1 L606.6,519.9 L585.4,516.0Z" fill="#5c5a53"/>
<path d="M585.4,514.8 L606.6,518.7 L606.6,525.5 L585.4,521.9Z" fill="#605e56"/>
<path d="M585.4,520.7 L606.6,524.3 L606.6,531.1 L585.4,527.7Z" fill="#64625a"/>
<path d="M585.4,526.5 L606.6,529.9 L606.6,536.6 L585.4,533.6Z" fill="#68665d"/>
<path d="M585.4,532.4 L606.6,535.4 L606.6,542.2 L585.4,539.4Z" fill="#6b6961"/>
<path d="M605.4,513.1 L626.6,517.1 L626.6,523.7 L605.4,519.9Z" fill="#5c5a52"/>
<path d="M605.4,518.7 L626.6,522.5 L626.6,529.0 L605.4,525.5Z" fill="#5f5d56"/>
<path d="M605.4,524.3 L626.6,527.8 L626.6,534.3 L605.4,531.1Z" fill="#636159"/>
<path d="M605.4,529.9 L626.6,533.1 L626.6,539.7 L605.4,536.6Z" fill="#67655d"/>
<path d="M605.4,535.4 L626.6,538.5 L626.6,545.0 L605.4,542.2Z" fill="#6b6960"/>
<path d="M625.4,517.1 L646.6,521.1 L646.6,527.4 L625.4,523.7Z" fill="#5b5952"/>
<path d="M625.4,522.5 L646.6,526.2 L646.6,532.4 L625.4,529.0Z" fill="#5f5d56"/>
<path d="M625.4,527.8 L646.6,531.2 L646.6,537.5 L625.4,534.3Z" fill="#636159"/>
<path d="M625.4,533.1 L646.6,536.3 L646.6,542.6 L625.4,539.7Z" fill="#66645c"/>
<path d="M625.4,538.5 L646.6,541.4 L646.6,547.7 L625.4,545.0Z" fill="#6a6860"/>
<path d="M645.4,521.1 L666.6,524.9 L666.6,531.0 L645.4,527.4Z" fill="#5a5952"/>
<path d="M645.4,526.2 L666.6,529.8 L666.6,535.8 L645.4,532.4Z" fill="#5e5c55"/>
<path d="M645.4,531.2 L666.6,534.6 L666.6,540.7 L645.4,537.5Z" fill="#626059"/>
<path d="M645.4,536.3 L666.6,539.5 L666.6,545.5 L645.4,542.6Z" fill="#66645c"/>
<path d="M645.4,541.4 L666.6,544.3 L666.6,550.4 L645.4,547.7Z" fill="#6a685f"/>
<path d="M665.4,524.9 L686.6,528.7 L686.6,534.5 L665.4,531.0Z" fill="#5a5852"/>
<path d="M665.4,529.8 L686.6,533.3 L686.6,539.1 L665.4,535.8Z" fill="#5e5c55"/>
<path d="M665.4,534.6 L686.6,537.9 L686.6,543.7 L665.4,540.7Z" fill="#626058"/>
<path d="M665.4,539.5 L686.6,542.5 L686.6,548.4 L665.4,545.5Z" fill="#65645b"/>
<path d="M665.4,544.3 L686.6,547.2 L686.6,553.0 L665.4,550.4Z" fill="#69675f"/>
<path d="M685.4,528.7 L706.6,532.3 L706.6,537.9 L685.4,534.5Z" fill="#5a5851"/>
<path d="M685.4,533.3 L706.6,536.7 L706.6,542.3 L685.4,539.1Z" fill="#5d5c55"/>
<path d="M685.4,537.9 L706.6,541.1 L706.6,546.7 L685.4,543.7Z" fill="#615f58"/>
<path d="M685.4,542.5 L706.6,545.5 L706.6,551.1 L685.4,548.4Z" fill="#65635b"/>
<path d="M685.4,547.2 L706.6,549.9 L706.6,555.5 L685.4,553.0Z" fill="#69675e"/>
<path d="M705.4,532.3 L726.6,535.8 L726.6,541.2 L705.4,537.9Z" fill="#595851"/>
<path d="M705.4,536.7 L726.6,540.0 L726.6,545.4 L705.4,542.3Z" fill="#5d5b54"/>
<path d="M705.4,541.1 L726.6,544.2 L726.6,549.6 L705.4,546.7Z" fill="#615f57"/>
<path d="M705.4,545.5 L726.6,548.4 L726.6,553.8 L705.4,551.1Z" fill="#64635b"/>
<path d="M705.4,549.9 L726.6,552.6 L726.6,558.0 L705.4,555.5Z" fill="#68665e"/>
<path d="M725.4,535.8 L746.6,539.3 L746.6,544.5 L725.4,541.2Z" fill="#585751"/>
<path d="M725.4,540.0 L746.6,543.3 L746.6,548.5 L725.4,545.4Z" fill="#5c5b54"/>
<path d="M725.4,544.2 L746.6,547.3 L746.6,552.5 L725.4,549.6Z" fill="#605e57"/>
<path d="M725.4,548.4 L746.6,551.3 L746.6,556.5 L725.4,553.8Z" fill="#64625a"/>
<path d="M725.4,552.6 L746.6,555.3 L746.6,560.4 L725.4,558.0Z" fill="#68665e"/>
<path d="M745.4,539.3 L766.6,542.6 L766.6,547.6 L745.4,544.5Z" fill="#585750"/>
<path d="M745.4,543.3 L766.6,546.4 L766.6,551.4 L745.4,548.5Z" fill="#5c5a54"/>
<path d="M745.4,547.3 L766.6,550.2 L766.6,555.2 L745.4,552.5Z" fill="#605e57"/>
<path d="M745.4,551.3 L766.6,554.0 L766.6,559.0 L745.4,556.5Z" fill="#63625a"/>
<path d="M745.4,555.3 L766.6,557.8 L766.6,562.8 L745.4,560.4Z" fill="#67655d"/>
<path d="M765.4,542.6 L786.6,545.9 L786.6,550.7 L765.4,547.6Z" fill="#585650"/>
<path d="M765.4,546.4 L786.6,549.5 L786.6,554.3 L765.4,551.4Z" fill="#5b5a53"/>
<path d="M765.4,550.2 L786.6,553.1 L786.6,557.9 L765.4,555.2Z" fill="#5f5e56"/>
<path d="M765.4,554.0 L786.6,556.7 L786.6,561.5 L765.4,559.0Z" fill="#63615a"/>
<path d="M765.4,557.8 L786.6,560.3 L786.6,565.1 L765.4,562.8Z" fill="#67655d"/>
<path d="M785.4,545.9 L806.6,549.0 L806.6,553.6 L785.4,550.7Z" fill="#575650"/>
<path d="M785.4,549.5 L806.6,552.4 L806.6,557.0 L785.4,554.3Z" fill="#5b5953"/>
<path d="M785.4,553.1 L806.6,555.8 L806.6,560.5 L785.4,557.9Z" fill="#5f5d56"/>
<path d="M785.4,556.7 L806.6,559.3 L806.6,563.9 L785.4,561.5Z" fill="#626159"/>
<path d="M785.4,560.3 L806.6,562.7 L806.6,567.3 L785.4,565.1Z" fill="#66645c"/>
<path d="M805.4,549.0 L826.6,552.0 L826.6,556.4 L805.4,553.6Z" fill="#575650"/>
<path d="M805.4,552.4 L826.6,555.2 L826.6,559.7 L805.4,557.0Z" fill="#5b5953"/>
<path d="M805.4,555.8 L826.6,558.5 L826.6,562.9 L805.4,560.5Z" fill="#5e5d56"/>
<path d="M805.4,559.3 L826.6,561.7 L826.6,566.2 L805.4,563.9Z" fill="#626059"/>
<path d="M805.4,562.7 L826.6,565.0 L826.6,569.5 L805.4,567.3Z" fill="#66645c"/>
<path d="M825.4,552.0 L846.6,554.9 L846.6,559.2 L825.4,556.4Z" fill="#575550"/>
<path d="M825.4,555.2 L846.6,558.0 L846.6,562.3 L825.4,559.7Z" fill="#5a5953"/>
<path d="M825.4,558.5 L846.6,561.1 L846.6,565.3 L825.4,562.9Z" fill="#5e5d56"/>
<path d="M825.4,561.7 L846.6,564.1 L846.6,568.4 L825.4,566.2Z" fill="#626059"/>
<path d="M825.4,565.0 L846.6,567.2 L846.6,571.5 L825.4,569.5Z" fill="#66645c"/>
<path d="M845.4,554.9 L866.6,557.7 L866.6,561.8 L845.4,559.2Z" fill="#565550"/>
<path d="M845.4,558.0 L866.6,560.6 L866.6,564.7 L845.4,562.3Z" fill="#5a5953"/>
<path d="M845.4,561.1 L866.6,563.5 L866.6,567.7 L845.4,565.3Z" fill="#5e5c56"/>
<path d="M845.4,564.1 L866.6,566.5 L866.6,570.6 L845.4,568.4Z" fill="#626059"/>
<path d="M845.4,567.2 L866.6,569.4 L866.6,573.5 L845.4,571.5Z" fill="#65635c"/>
<path d="M865.4,557.7 L886.6,560.3 L886.6,564.3 L865.4,561.8Z" fill="#565550"/>
<path d="M865.4,560.6 L886.6,563.1 L886.6,567.1 L865.4,564.7Z" fill="#5a5953"/>
<path d="M865.4,563.5 L886.6,565.9 L886.6,569.9 L865.4,567.7Z" fill="#5e5c56"/>
<path d="M865.4,566.5 L886.6,568.7 L886.6,572.6 L865.4,570.6Z" fill="#616059"/>
<path d="M865.4,569.4 L886.6,571.4 L886.6,575.4 L865.4,573.5Z" fill="#65635c"/>
<path d="M885.4,560.3 L906.6,562.8 L906.6,566.7 L885.4,564.3Z" fill="#565550"/>
<path d="M885.4,563.1 L906.6,565.5 L906.6,569.3 L885.4,567.1Z" fill="#5a5853"/>
<path d="M885.4,565.9 L906.6,568.1 L906.6,572.0 L885.4,569.9Z" fill="#5d5c56"/>
<path d="M885.4,568.7 L906.6,570.8 L906.6,574.6 L885.4,572.6Z" fill="#615f59"/>
<path d="M885.4,571.4 L906.6,573.4 L906.6,577.3 L885.4,575.4Z" fill="#65635c"/>
<path d="M905.4,562.8 L926.6,565.2 L926.6,569.0 L905.4,566.7Z" fill="#565551"/>
<path d="M905.4,565.5 L926.6,567.8 L926.6,571.5 L905.4,569.3Z" fill="#595853"/>
<path d="M905.4,568.1 L926.6,570.3 L926.6,574.0 L905.4,572.0Z" fill="#5d5c56"/>
<path d="M905.4,570.8 L926.6,572.8 L926.6,576.5 L905.4,574.6Z" fill="#615f59"/>
<path d="M905.4,573.4 L926.6,575.3 L926.6,579.0 L905.4,577.3Z" fill="#64635b"/>
<path d="M925.4,565.2 L946.6,567.5 L946.6,571.1 L925.4,569.0Z" fill="#555451"/>
<path d="M925.4,567.8 L946.6,569.9 L946.6,573.5 L925.4,571.5Z" fill="#595853"/>
<path d="M925.4,570.3 L946.6,572.3 L946.6,575.9 L925.4,574.0Z" fill="#5d5b56"/>
<path d="M925.4,572.8 L946.6,574.7 L946.6,578.3 L925.4,576.5Z" fill="#605f59"/>
<path d="M925.4,575.3 L946.6,577.1 L946.6,580.7 L925.4,579.0Z" fill="#64625b"/>
<path d="M945.4,567.5 L966.6,569.7 L966.6,573.1 L945.4,571.1Z" fill="#555451"/>
<path d="M945.4,569.9 L966.6,571.9 L966.6,575.4 L945.4,573.5Z" fill="#595853"/>
<path d="M945.4,572.3 L966.6,574.2 L966.6,577.7 L945.4,575.9Z" fill="#5d5b56"/>
<path d="M945.4,574.7 L966.6,576.5 L966.6,580.0 L945.4,578.3Z" fill="#605e59"/>
<path d="M945.4,577.1 L966.6,578.8 L966.6,582.2 L945.4,580.7Z" fill="#64625b"/>
<path d="M965.4,569.7 L986.6,571.7 L986.6,575.0 L965.4,573.1Z" fill="#555451"/>
<path d="M965.4,571.9 L986.6,573.8 L986.6,577.2 L965.4,575.4Z" fill="#595754"/>
<path d="M965.4,574.2 L986.6,576.0 L986.6,579.4 L965.4,577.7Z" fill="#5c5b56"/>
<path d="M965.4,576.5 L986.6,578.2 L986.6,581.6 L965.4,580.0Z" fill="#605e58"/>
<path d="M965.4,578.8 L986.6,580.4 L986.6,583.7 L965.4,582.2Z" fill="#64625b"/>
<path d="M985.4,571.7 L1006.6,573.5 L1006.6,576.8 L985.4,575.0Z" fill="#555451"/>
<path d="M985.4,573.8 L1006.6,575.6 L1006.6,578.9 L985.4,577.2Z" fill="#585754"/>
<path d="M985.4,576.0 L1006.6,577.7 L1006.6,581.0 L985.4,579.4Z" fill="#5c5b56"/>
<path d="M985.4,578.2 L1006.6,579.8 L1006.6,583.0 L985.4,581.6Z" fill="#605e58"/>
<path d="M985.4,580.4 L1006.6,581.8 L1006.6,585.1 L985.4,583.7Z" fill="#63615b"/>
<path d="M1005.4,573.5 L1026.6,575.3 L1026.6,578.5 L1005.4,576.8Z" fill="#555451"/>
<path d="M1005.4,575.6 L1026.6,577.3 L1026.6,580.4 L1005.4,578.9Z" fill="#585754"/>
<path d="M1005.4,577.7 L1026.6,579.2 L1026.6,582.4 L1005.4,581.0Z" fill="#5c5a56"/>
<path d="M1005.4,579.8 L1026.6,581.2 L1026.6,584.4 L1005.4,583.0Z" fill="#605e58"/>
<path d="M1005.4,581.8 L1026.6,583.2 L1026.6,586.4 L1005.4,585.1Z" fill="#63615b"/>
<path d="M1025.4,575.3 L1046.6,576.9 L1046.6,580.0 L1025.4,578.5Z" fill="#555451"/>
<path d="M1025.4,577.3 L1046.6,578.8 L1046.6,581.9 L1025.4,580.4Z" fill="#585754"/>
<path d="M1025.4,579.2 L1046.6,580.7 L1046.6,583.8 L1025.4,582.4Z" fill="#5c5a56"/>
<path d="M1025.4,581.2 L1046.6,582.6 L1046.6,585.7 L1025.4,584.4Z" fill="#605e58"/>
<path d="M1025.4,583.2 L1046.6,584.5 L1046.6,587.6 L1025.4,586.4Z" fill="#63615b"/>
<path d="M285.4,491.4 L362.6,503.8 L362.6,512.9 L285.4,499.6Z" fill="#b6ad9a"/>
<path d="M285.4,498.4 L362.6,511.7 L362.6,520.7 L285.4,506.5Z" fill="#b2aa96"/>
<path d="M361.4,503.8 L438.6,516.0 L438.6,525.5 L361.4,512.9Z" fill="#b5ac99"/>
<path d="M361.4,511.7 L438.6,524.3 L438.6,533.8 L361.4,520.7Z" fill="#b2a995"/>
<path d="M437.4,516.0 L514.6,527.7 L514.6,537.3 L437.4,525.5Z" fill="#b4ab98"/>
<path d="M437.4,524.3 L514.6,536.1 L514.6,545.8 L437.4,533.8Z" fill="#b1a995"/>
<path d="M513.4,527.7 L590.6,538.8 L590.6,548.4 L513.4,537.3Z" fill="#b3aa97"/>
<path d="M513.4,536.1 L590.6,547.2 L590.6,556.8 L513.4,545.8Z" fill="#b1a894"/>
<path d="M589.4,538.8 L666.6,549.2 L666.6,558.6 L589.4,548.4Z" fill="#b2a996"/>
<path d="M589.4,547.2 L666.6,557.4 L666.6,566.9 L589.4,556.8Z" fill="#b1a894"/>
<path d="M665.4,549.2 L742.6,558.8 L742.6,568.0 L665.4,558.6Z" fill="#b3aa96"/>
<path d="M665.4,557.4 L742.6,566.8 L742.6,575.9 L665.4,566.9Z" fill="#b1a894"/>
<path d="M741.4,558.8 L818.6,567.4 L818.6,576.4 L741.4,568.0Z" fill="#b3aa97"/>
<path d="M741.4,566.8 L818.6,575.2 L818.6,584.1 L741.4,575.9Z" fill="#b2a995"/>
<path d="M817.4,567.4 L894.6,575.0 L894.6,583.8 L817.4,576.4Z" fill="#b4ab97"/>
<path d="M817.4,575.2 L894.6,582.6 L894.6,591.5 L817.4,584.1Z" fill="#b2a995"/>
<path d="M893.4,575.0 L970.6,581.3 L970.6,590.2 L893.4,583.8Z" fill="#b4ab97"/>
<path d="M893.4,582.6 L970.6,589.0 L970.6,597.9 L893.4,591.5Z" fill="#b2a995"/>
<path d="M969.4,581.3 L1046.6,586.4 L1046.6,595.6 L969.4,590.2Z" fill="#b4ab97"/>
<path d="M969.4,589.0 L1046.6,594.4 L1046.6,603.6 L969.4,597.9Z" fill="#b3aa96"/>
</g>
<g clip-path="url(#beigeclip)"><path d="M400.0,475.7 L408.0,477.6 L416.0,479.5 L424.0,481.4 L432.0,483.3 L440.0,485.2 L448.0,487.1 L456.0,489.0 L464.0,490.8 L472.0,492.6 L480.0,494.5 L488.0,496.3 L496.0,498.1 L504.0,499.9 L512.0,501.7 L520.0,503.5 L528.0,505.2 L536.0,507.0 L544.0,508.7 L552.0,510.4 L560.0,512.1 L568.0,513.8 L576.0,515.5 L584.0,517.2 L592.0,518.9 L600.0,520.5 L608.0,522.1 L616.0,523.7 L624.0,525.3 L632.0,526.9 L640.0,528.5 L648.0,530.1 L656.0,531.6 L664.0,533.1 L672.0,534.6 L680.0,536.1 L688.0,537.6 L696.0,539.1 L704.0,540.5 L712.0,542.0 L720.0,543.4 L728.0,544.8 L736.0,546.2 L744.0,547.6 L752.0,548.9 L760.0,550.2 L768.0,551.6 L776.0,552.9 L784.0,554.1 L792.0,555.4 L800.0,556.7 L808.0,557.9 L816.0,559.1 L824.0,560.3 L832.0,561.5 L840.0,562.6 L848.0,563.8 L856.0,564.9 L864.0,566.0 L872.0,567.1 L880.0,568.1 L888.0,569.2 L896.0,570.2 L904.0,571.2 L912.0,572.2 L920.0,573.1 L928.0,574.1 L936.0,575.0 L944.0,575.9 L952.0,576.8 L960.0,577.6 L968.0,578.5 L976.0,579.3 L984.0,580.1 L992.0,580.8 L1000.0,581.6 L1008.0,582.3 L1016.0,583.0 L1024.0,583.7 L1032.0,584.4 L1036.0,584.7" fill="none" stroke="url(#shadowgrad)" stroke-width="12" filter="url(#blur4)"/></g>
<path d="M352.2,319.3 L363.5,322.6 L375.1,326.0 L387.1,329.4 L399.4,332.8 L412.1,336.1 L425.0,339.5 L438.2,342.9 L451.7,346.3 L465.3,349.7 L479.2,353.1 L493.4,356.4 L507.6,359.7 L522.1,363.0 L536.7,366.3 L551.4,369.5 L566.2,372.6 L581.1,375.7 L596.0,378.8 L611.1,381.8 L626.1,384.7 L641.1,387.5 L656.2,390.3 L671.2,393.0 L686.1,395.6 L701.0,398.1 L715.8,400.5 L730.5,402.8 L745.1,405.0 L759.5,407.1 L773.8,409.1 L787.9,410.9 L801.8,412.6 L815.5,414.2 L828.9,415.7 L842.1,417.0 L855.0,418.1 L867.6,419.1 L879.9,420.0 L891.9,420.7 L903.5,421.2 L933.3,458.1 L966.7,498.0 L1000.0,538.0 L1033.3,574.2 L1039.0,580.5 L1042.0,584.6 L1036.0,584.7 L1032.0,584.4 L1024.0,583.7 L1016.0,583.0 L1008.0,582.3 L1000.0,581.6 L992.0,580.8 L984.0,580.1 L976.0,579.3 L968.0,578.5 L960.0,577.6 L952.0,576.8 L944.0,575.9 L936.0,575.0 L928.0,574.1 L920.0,573.1 L912.0,572.2 L904.0,571.2 L896.0,570.2 L888.0,569.2 L880.0,568.1 L872.0,567.1 L864.0,566.0 L856.0,564.9 L848.0,563.8 L840.0,562.6 L832.0,561.5 L824.0,560.3 L816.0,559.1 L808.0,557.9 L800.0,556.7 L792.0,555.4 L784.0,554.1 L776.0,552.9 L768.0,551.6 L760.0,550.2 L752.0,548.9 L744.0,547.6 L736.0,546.2 L728.0,544.8 L720.0,543.4 L712.0,542.0 L704.0,540.5 L696.0,539.1 L688.0,537.6 L680.0,536.1 L672.0,534.6 L664.0,533.1 L656.0,531.6 L648.0,530.1 L640.0,528.5 L632.0,526.9 L624.0,525.3 L616.0,523.7 L608.0,522.1 L600.0,520.5 L592.0,518.9 L584.0,517.2 L576.0,515.5 L568.0,513.8 L560.0,512.1 L552.0,510.4 L544.0,508.7 L536.0,507.0 L528.0,505.2 L520.0,503.5 L512.0,501.7 L504.0,499.9 L496.0,498.1 L488.0,496.3 L480.0,494.5 L472.0,492.6 L464.0,490.8 L456.0,489.0 L448.0,487.1 L440.0,485.2 L432.0,483.3 L424.0,481.4 L416.0,479.5 L408.0,477.6 L400.0,475.7 L392.0,473.7 L384.0,471.8 L376.0,469.8 L368.0,467.9 L360.0,465.9 L352.0,463.9 L344.0,461.9 L336.0,459.9 L328.0,457.9 L320.0,455.9 L312.0,453.9 L301.3,448.6 Z" fill="url(#graygrad)"/>
<path d="M420.0,480.5 L428.0,482.4 L436.0,484.3 L444.0,486.2 L452.0,488.0 L460.0,489.9 L468.0,491.7 L476.0,493.6 L484.0,495.4 L492.0,497.2 L500.0,499.0 L508.0,500.8 L516.0,502.6 L524.0,504.3 L532.0,506.1 L540.0,507.8 L548.0,509.6 L556.0,511.3 L564.0,513.0 L572.0,514.7 L580.0,516.4 L588.0,518.0 L596.0,519.7 L604.0,521.3 L612.0,522.9 L620.0,524.5 L628.0,526.1 L636.0,527.7 L644.0,529.3 L652.0,530.8 L660.0,532.4 L668.0,533.9 L676.0,535.4 L684.0,536.9 L692.0,538.4 L700.0,539.8 L708.0,541.3 L716.0,542.7 L724.0,544.1 L732.0,545.5 L740.0,546.9 L748.0,548.2 L756.0,549.6 L764.0,550.9 L772.0,552.2 L780.0,553.5 L788.0,554.8 L796.0,556.0 L804.0,557.3 L812.0,558.5 L820.0,559.7 L828.0,560.9 L836.0,562.1 L844.0,563.2 L852.0,564.3 L860.0,565.4 L868.0,566.5 L876.0,567.6 L884.0,568.6 L892.0,569.7 L900.0,570.7 L908.0,571.7 L916.0,572.7 L924.0,573.6 L932.0,574.5 L940.0,575.4 L948.0,576.3 L956.0,577.2 L964.0,578.0 L972.0,578.9 L980.0,579.7 L988.0,580.5 L996.0,581.2 L1004.0,582.0 L1012.0,582.7 L1020.0,583.4 L1028.0,584.0 L1036.0,584.7" fill="none" stroke="url(#edgegrad)" stroke-width="1.3"/>
<path d="M1042.6,585.6 L1080,585.6 L1080,748 L1040.6,748 Z" fill="#1e1713"/>
<path d="M1042.6,584.8 L1080,584.8 L1080,587 L1042.6,587 Z" fill="#7a716a"/>
<g stroke="#9a8c80" stroke-width="1" stroke-dasharray="3,2">
<line x1="1046" y1="619.5" x2="1080" y2="619.5"/>
<line x1="1046" y1="643.5" x2="1080" y2="643.5"/>
<line x1="1046" y1="667.5" x2="1080" y2="667.5"/>
<line x1="1046" y1="691.5" x2="1080" y2="691.5"/>
<line x1="1046" y1="715.5" x2="1080" y2="715.5"/>
</g>
<g fill="#333">
<path d="M929,420.5 L940,420.5 L934.5,424 Z"/>
<path d="M976,420.5 L987,420.5 L981.5,424 Z"/>
<path d="M1017,420.5 L1028,420.5 L1022.5,424 Z"/>
<path d="M1062,420.5 L1073,420.5 L1067.5,424 Z"/>
</g>

<text transform="translate(88.22,171) scale(0.9911,1)" font-size="82.7" font-weight="bold" fill="#000">W</text>
<text transform="translate(166.96,171) scale(1.0981,1)" font-size="82.7" font-weight="bold" fill="#000">h</text>
<text transform="translate(222.63,171) scale(1.0591,1)" font-size="82.7" font-weight="bold" fill="#000">a</text>
<text transform="translate(277.19,171) scale(1.1011,1)" font-size="82.7" font-weight="bold" fill="#000">t</text>
<text transform="translate(307.43,161.5) scale(0.8850,1)" font-size="82.7" font-weight="bold" fill="#000">’</text>
<text transform="translate(327.00,171) scale(0.9271,1)" font-size="82.7" font-weight="bold" fill="#000">s</text>
<text transform="translate(387.42,171) scale(0.9906,1)" font-size="82.7" font-weight="bold" fill="#000">I</text>
<text transform="translate(409.28,171) scale(1.0867,1)" font-size="82.7" font-weight="bold" fill="#000">n</text>
<text transform="translate(464.22,171) scale(0.9548,1)" font-size="82.7" font-weight="bold" fill="#000">s</text>
<text transform="translate(505.94,171) scale(1.0840,1)" font-size="82.7" font-weight="bold" fill="#000">i</text>
<text transform="translate(528.82,171) scale(1.1134,1)" font-size="82.7" font-weight="bold" fill="#000">d</text>
<text transform="translate(583.85,171) scale(1.0992,1)" font-size="82.7" font-weight="bold" fill="#000">e</text>
<g font-size="26.7" fill="#000">
<text x="462" y="292.8" textLength="357.2" lengthAdjust="spacingAndGlyphs">Soft and Breathable Cover</text>
<text x="79.8" y="359.0" textLength="285.0" lengthAdjust="spacingAndGlyphs">Fire Retardant Barrier</text>
<text x="39.6" y="442.0" textLength="238.8" lengthAdjust="spacingAndGlyphs">0.75” High Density</text>
<text x="81.3" y="474.2" textLength="197.1" lengthAdjust="spacingAndGlyphs">Comfort Foam</text>
<text x="39.8" y="546.2" textLength="238.7" lengthAdjust="spacingAndGlyphs">0.75” High Density</text>
<text x="86.6" y="578.8" textLength="191.9" lengthAdjust="spacingAndGlyphs">Support Foam</text>
<text x="121.9" y="661.6" textLength="156.3" lengthAdjust="spacingAndGlyphs">6.5” Bonnell</text>
<text x="118.6" y="694.0" textLength="159.6" lengthAdjust="spacingAndGlyphs">Spring Coils</text>
<text x="83" y="846.9" textLength="284.5" lengthAdjust="spacingAndGlyphs">Fire Retardant Barrier</text>
<text x="348" y="949.8" textLength="305.0" lengthAdjust="spacingAndGlyphs">Non Woven Base Layer</text>
</g>

<g stroke="#000" stroke-width="3.4" fill="none" stroke-linejoin="miter">
<polyline points="463,303.5 823,303.5 1046,474"/>
<polyline points="71,367.7 427,366.8"/>
<polyline points="44,482.4 377,483.8"/>
<polyline points="32,589.5 277,589.5 376,541"/>
<polyline points="79,709.4 537,708.6"/>
<polyline points="77,855.5 382,855.5 578,747.5"/>
<polyline points="339,963 662,963 921,749"/>
</g>
<g fill="#000">
<circle cx="1046.5" cy="474.5" r="8.3"/>
<circle cx="427" cy="366.8" r="8.3"/>
<circle cx="377.1" cy="483.6" r="8.3"/>
<circle cx="376.4" cy="540.7" r="8.3"/>
<circle cx="537" cy="708.7" r="8.3"/>
<circle cx="578.5" cy="747.5" r="8.3"/>
<circle cx="921" cy="748.8" r="8.3"/>
</g>

</svg>
</body></html>
